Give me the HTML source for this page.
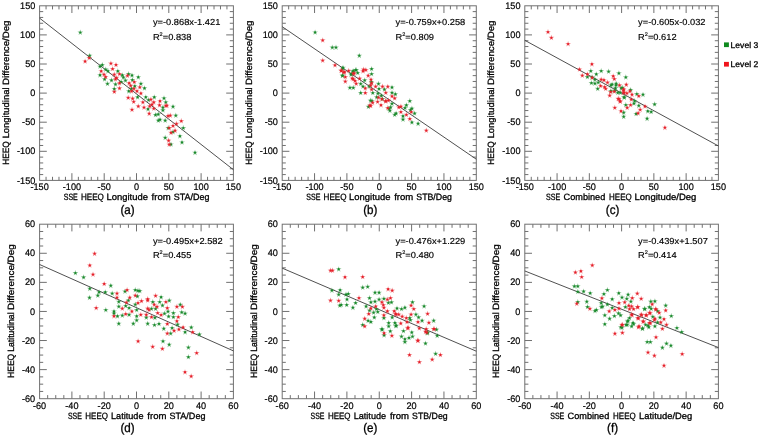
<!DOCTYPE html>
<html><head><meta charset="utf-8"><title>figure</title><style>
html,body{margin:0;padding:0;background:#fff;}
body{width:760px;height:437px;overflow:hidden;}
svg{display:block;font-family:"Liberation Sans", sans-serif;filter:blur(0.3px);text-rendering:geometricPrecision;}
text{stroke:#000;stroke-width:0.3px;}
.tk{font-size:9.5px;fill:#000;stroke-width:0.2px;}
.ti{font-size:9.1px;fill:#000;}
.pl{font-size:12.5px;fill:#000;}
.eq{font-size:8.7px;fill:#000;stroke-width:0.15px;}
.sup{font-size:5.2px;}
.lg{font-size:8.3px;fill:#000;}
</style></head>
<body><svg width="760" height="437" viewBox="0 0 760 437"><rect width="760" height="437" fill="#fff"/><path d="M46.06,180.40V176.80M46.06,5.80V9.40M52.52,180.40V176.80M52.52,5.80V9.40M58.98,180.40V176.80M58.98,5.80V9.40M65.44,180.40V176.80M65.44,5.80V9.40M71.90,180.40V173.20M71.90,5.80V13.00M78.36,180.40V176.80M78.36,5.80V9.40M84.82,180.40V176.80M84.82,5.80V9.40M91.28,180.40V176.80M91.28,5.80V9.40M97.74,180.40V176.80M97.74,5.80V9.40M104.20,180.40V173.20M104.20,5.80V13.00M110.66,180.40V176.80M110.66,5.80V9.40M117.12,180.40V176.80M117.12,5.80V9.40M123.58,180.40V176.80M123.58,5.80V9.40M130.04,180.40V176.80M130.04,5.80V9.40M136.50,180.40V173.20M136.50,5.80V13.00M142.96,180.40V176.80M142.96,5.80V9.40M149.42,180.40V176.80M149.42,5.80V9.40M155.88,180.40V176.80M155.88,5.80V9.40M162.34,180.40V176.80M162.34,5.80V9.40M168.80,180.40V173.20M168.80,5.80V13.00M175.26,180.40V176.80M175.26,5.80V9.40M181.72,180.40V176.80M181.72,5.80V9.40M188.18,180.40V176.80M188.18,5.80V9.40M194.64,180.40V176.80M194.64,5.80V9.40M201.10,180.40V173.20M201.10,5.80V13.00M207.56,180.40V176.80M207.56,5.80V9.40M214.02,180.40V176.80M214.02,5.80V9.40M220.48,180.40V176.80M220.48,5.80V9.40M226.94,180.40V176.80M226.94,5.80V9.40M39.60,174.58H43.20M233.40,174.58H229.80M39.60,168.76H43.20M233.40,168.76H229.80M39.60,162.94H43.20M233.40,162.94H229.80M39.60,157.12H43.20M233.40,157.12H229.80M39.60,151.30H46.80M233.40,151.30H226.20M39.60,145.48H43.20M233.40,145.48H229.80M39.60,139.66H43.20M233.40,139.66H229.80M39.60,133.84H43.20M233.40,133.84H229.80M39.60,128.02H43.20M233.40,128.02H229.80M39.60,122.20H46.80M233.40,122.20H226.20M39.60,116.38H43.20M233.40,116.38H229.80M39.60,110.56H43.20M233.40,110.56H229.80M39.60,104.74H43.20M233.40,104.74H229.80M39.60,98.92H43.20M233.40,98.92H229.80M39.60,93.10H46.80M233.40,93.10H226.20M39.60,87.28H43.20M233.40,87.28H229.80M39.60,81.46H43.20M233.40,81.46H229.80M39.60,75.64H43.20M233.40,75.64H229.80M39.60,69.82H43.20M233.40,69.82H229.80M39.60,64.00H46.80M233.40,64.00H226.20M39.60,58.18H43.20M233.40,58.18H229.80M39.60,52.36H43.20M233.40,52.36H229.80M39.60,46.54H43.20M233.40,46.54H229.80M39.60,40.72H43.20M233.40,40.72H229.80M39.60,34.90H46.80M233.40,34.90H226.20M39.60,29.08H43.20M233.40,29.08H229.80M39.60,23.26H43.20M233.40,23.26H229.80M39.60,17.44H43.20M233.40,17.44H229.80M39.60,11.62H43.20M233.40,11.62H229.80" stroke="#707070" stroke-width="1.0" fill="none"/><rect x="39.60" y="5.80" width="193.80" height="174.60" stroke="#707070" stroke-width="1.0" fill="none"/><line x1="39.60" y1="18.15" x2="233.40" y2="169.70" stroke="#3c3c3c" stroke-width="0.9"/><g fill="#1a8a2c"><path d="M80.30,29.50 L81.03,31.49 L83.15,31.57 L81.49,32.89 L82.06,34.93 L80.30,33.75 L78.54,34.93 L79.11,32.89 L77.45,31.57 L79.57,31.49Z" fill-opacity="0.5"/><path d="M79.20,32.50a1.1,1.1 0 1,0 2.2,0a1.1,1.1 0 1,0 -2.2,0Z"/><path d="M89.70,52.70 L90.43,54.69 L92.55,54.77 L90.89,56.09 L91.46,58.13 L89.70,56.95 L87.94,58.13 L88.51,56.09 L86.85,54.77 L88.97,54.69Z" fill-opacity="0.5"/><path d="M88.60,55.70a1.1,1.1 0 1,0 2.2,0a1.1,1.1 0 1,0 -2.2,0Z"/><path d="M100.00,63.60 L100.73,65.59 L102.85,65.67 L101.19,66.99 L101.76,69.03 L100.00,67.85 L98.24,69.03 L98.81,66.99 L97.15,65.67 L99.27,65.59Z" fill-opacity="0.5"/><path d="M98.90,66.60a1.1,1.1 0 1,0 2.2,0a1.1,1.1 0 1,0 -2.2,0Z"/><path d="M102.30,61.90 L103.03,63.89 L105.15,63.97 L103.49,65.29 L104.06,67.33 L102.30,66.15 L100.54,67.33 L101.11,65.29 L99.45,63.97 L101.57,63.89Z" fill-opacity="0.5"/><path d="M101.20,64.90a1.1,1.1 0 1,0 2.2,0a1.1,1.1 0 1,0 -2.2,0Z"/><path d="M105.70,66.50 L106.43,68.49 L108.55,68.57 L106.89,69.89 L107.46,71.93 L105.70,70.75 L103.94,71.93 L104.51,69.89 L102.85,68.57 L104.97,68.49Z" fill-opacity="0.5"/><path d="M104.60,69.50a1.1,1.1 0 1,0 2.2,0a1.1,1.1 0 1,0 -2.2,0Z"/><path d="M108.00,68.20 L108.73,70.19 L110.85,70.27 L109.19,71.59 L109.76,73.63 L108.00,72.45 L106.24,73.63 L106.81,71.59 L105.15,70.27 L107.27,70.19Z" fill-opacity="0.5"/><path d="M106.90,71.20a1.1,1.1 0 1,0 2.2,0a1.1,1.1 0 1,0 -2.2,0Z"/><path d="M117.80,68.20 L118.53,70.19 L120.65,70.27 L118.99,71.59 L119.56,73.63 L117.80,72.45 L116.04,73.63 L116.61,71.59 L114.95,70.27 L117.07,70.19Z" fill-opacity="0.5"/><path d="M116.70,71.20a1.1,1.1 0 1,0 2.2,0a1.1,1.1 0 1,0 -2.2,0Z"/><path d="M100.00,72.20 L100.73,74.19 L102.85,74.27 L101.19,75.59 L101.76,77.63 L100.00,76.45 L98.24,77.63 L98.81,75.59 L97.15,74.27 L99.27,74.19Z" fill-opacity="0.5"/><path d="M98.90,75.20a1.1,1.1 0 1,0 2.2,0a1.1,1.1 0 1,0 -2.2,0Z"/><path d="M104.60,76.20 L105.33,78.19 L107.45,78.27 L105.79,79.59 L106.36,81.63 L104.60,80.45 L102.84,81.63 L103.41,79.59 L101.75,78.27 L103.87,78.19Z" fill-opacity="0.5"/><path d="M103.50,79.20a1.1,1.1 0 1,0 2.2,0a1.1,1.1 0 1,0 -2.2,0Z"/><path d="M111.50,77.30 L112.23,79.29 L114.35,79.37 L112.69,80.69 L113.26,82.73 L111.50,81.55 L109.74,82.73 L110.31,80.69 L108.65,79.37 L110.77,79.29Z" fill-opacity="0.5"/><path d="M110.40,80.30a1.1,1.1 0 1,0 2.2,0a1.1,1.1 0 1,0 -2.2,0Z"/><path d="M122.30,72.20 L123.03,74.19 L125.15,74.27 L123.49,75.59 L124.06,77.63 L122.30,76.45 L120.54,77.63 L121.11,75.59 L119.45,74.27 L121.57,74.19Z" fill-opacity="0.5"/><path d="M121.20,75.20a1.1,1.1 0 1,0 2.2,0a1.1,1.1 0 1,0 -2.2,0Z"/><path d="M128.60,71.00 L129.33,72.99 L131.45,73.07 L129.79,74.39 L130.36,76.43 L128.60,75.25 L126.84,76.43 L127.41,74.39 L125.75,73.07 L127.87,72.99Z" fill-opacity="0.5"/><path d="M127.50,74.00a1.1,1.1 0 1,0 2.2,0a1.1,1.1 0 1,0 -2.2,0Z"/><path d="M107.50,80.80 L108.23,82.79 L110.35,82.87 L108.69,84.19 L109.26,86.23 L107.50,85.05 L105.74,86.23 L106.31,84.19 L104.65,82.87 L106.77,82.79Z" fill-opacity="0.5"/><path d="M106.40,83.80a1.1,1.1 0 1,0 2.2,0a1.1,1.1 0 1,0 -2.2,0Z"/><path d="M115.50,81.30 L116.23,83.29 L118.35,83.37 L116.69,84.69 L117.26,86.73 L115.50,85.55 L113.74,86.73 L114.31,84.69 L112.65,83.37 L114.77,83.29Z" fill-opacity="0.5"/><path d="M114.40,84.30a1.1,1.1 0 1,0 2.2,0a1.1,1.1 0 1,0 -2.2,0Z"/><path d="M114.30,85.90 L115.03,87.89 L117.15,87.97 L115.49,89.29 L116.06,91.33 L114.30,90.15 L112.54,91.33 L113.11,89.29 L111.45,87.97 L113.57,87.89Z" fill-opacity="0.5"/><path d="M113.20,88.90a1.1,1.1 0 1,0 2.2,0a1.1,1.1 0 1,0 -2.2,0Z"/><path d="M132.00,72.40 L132.73,74.39 L134.85,74.47 L133.19,75.79 L133.76,77.83 L132.00,76.65 L130.24,77.83 L130.81,75.79 L129.15,74.47 L131.27,74.39Z" fill-opacity="0.5"/><path d="M130.90,75.40a1.1,1.1 0 1,0 2.2,0a1.1,1.1 0 1,0 -2.2,0Z"/><path d="M138.30,74.20 L139.03,76.19 L141.15,76.27 L139.49,77.59 L140.06,79.63 L138.30,78.45 L136.54,79.63 L137.11,77.59 L135.45,76.27 L137.57,76.19Z" fill-opacity="0.5"/><path d="M137.20,77.20a1.1,1.1 0 1,0 2.2,0a1.1,1.1 0 1,0 -2.2,0Z"/><path d="M148.60,97.00 L149.33,98.99 L151.45,99.07 L149.79,100.39 L150.36,102.43 L148.60,101.25 L146.84,102.43 L147.41,100.39 L145.75,99.07 L147.87,98.99Z" fill-opacity="0.5"/><path d="M147.50,100.00a1.1,1.1 0 1,0 2.2,0a1.1,1.1 0 1,0 -2.2,0Z"/><path d="M154.30,94.20 L155.03,96.19 L157.15,96.27 L155.49,97.59 L156.06,99.63 L154.30,98.45 L152.54,99.63 L153.11,97.59 L151.45,96.27 L153.57,96.19Z" fill-opacity="0.5"/><path d="M153.20,97.20a1.1,1.1 0 1,0 2.2,0a1.1,1.1 0 1,0 -2.2,0Z"/><path d="M164.00,95.30 L164.73,97.29 L166.85,97.37 L165.19,98.69 L165.76,100.73 L164.00,99.55 L162.24,100.73 L162.81,98.69 L161.15,97.37 L163.27,97.29Z" fill-opacity="0.5"/><path d="M162.90,98.30a1.1,1.1 0 1,0 2.2,0a1.1,1.1 0 1,0 -2.2,0Z"/><path d="M165.80,99.30 L166.53,101.29 L168.65,101.37 L166.99,102.69 L167.56,104.73 L165.80,103.55 L164.04,104.73 L164.61,102.69 L162.95,101.37 L165.07,101.29Z" fill-opacity="0.5"/><path d="M164.70,102.30a1.1,1.1 0 1,0 2.2,0a1.1,1.1 0 1,0 -2.2,0Z"/><path d="M162.90,104.50 L163.63,106.49 L165.75,106.57 L164.09,107.89 L164.66,109.93 L162.90,108.75 L161.14,109.93 L161.71,107.89 L160.05,106.57 L162.17,106.49Z" fill-opacity="0.5"/><path d="M161.80,107.50a1.1,1.1 0 1,0 2.2,0a1.1,1.1 0 1,0 -2.2,0Z"/><path d="M148.00,106.20 L148.73,108.19 L150.85,108.27 L149.19,109.59 L149.76,111.63 L148.00,110.45 L146.24,111.63 L146.81,109.59 L145.15,108.27 L147.27,108.19Z" fill-opacity="0.5"/><path d="M146.90,109.20a1.1,1.1 0 1,0 2.2,0a1.1,1.1 0 1,0 -2.2,0Z"/><path d="M155.50,111.90 L156.23,113.89 L158.35,113.97 L156.69,115.29 L157.26,117.33 L155.50,116.15 L153.74,117.33 L154.31,115.29 L152.65,113.97 L154.77,113.89Z" fill-opacity="0.5"/><path d="M154.40,114.90a1.1,1.1 0 1,0 2.2,0a1.1,1.1 0 1,0 -2.2,0Z"/><path d="M158.30,111.30 L159.03,113.29 L161.15,113.37 L159.49,114.69 L160.06,116.73 L158.30,115.55 L156.54,116.73 L157.11,114.69 L155.45,113.37 L157.57,113.29Z" fill-opacity="0.5"/><path d="M157.20,114.30a1.1,1.1 0 1,0 2.2,0a1.1,1.1 0 1,0 -2.2,0Z"/><path d="M162.90,107.30 L163.63,109.29 L165.75,109.37 L164.09,110.69 L164.66,112.73 L162.90,111.55 L161.14,112.73 L161.71,110.69 L160.05,109.37 L162.17,109.29Z" fill-opacity="0.5"/><path d="M161.80,110.30a1.1,1.1 0 1,0 2.2,0a1.1,1.1 0 1,0 -2.2,0Z"/><path d="M158.30,117.60 L159.03,119.59 L161.15,119.67 L159.49,120.99 L160.06,123.03 L158.30,121.85 L156.54,123.03 L157.11,120.99 L155.45,119.67 L157.57,119.59Z" fill-opacity="0.5"/><path d="M157.20,120.60a1.1,1.1 0 1,0 2.2,0a1.1,1.1 0 1,0 -2.2,0Z"/><path d="M165.20,117.60 L165.93,119.59 L168.05,119.67 L166.39,120.99 L166.96,123.03 L165.20,121.85 L163.44,123.03 L164.01,120.99 L162.35,119.67 L164.47,119.59Z" fill-opacity="0.5"/><path d="M164.10,120.60a1.1,1.1 0 1,0 2.2,0a1.1,1.1 0 1,0 -2.2,0Z"/><path d="M165.20,134.80 L165.93,136.79 L168.05,136.87 L166.39,138.19 L166.96,140.23 L165.20,139.05 L163.44,140.23 L164.01,138.19 L162.35,136.87 L164.47,136.79Z" fill-opacity="0.5"/><path d="M164.10,137.80a1.1,1.1 0 1,0 2.2,0a1.1,1.1 0 1,0 -2.2,0Z"/><path d="M173.00,103.70 L173.73,105.69 L175.85,105.77 L174.19,107.09 L174.76,109.13 L173.00,107.95 L171.24,109.13 L171.81,107.09 L170.15,105.77 L172.27,105.69Z" fill-opacity="0.5"/><path d="M171.90,106.70a1.1,1.1 0 1,0 2.2,0a1.1,1.1 0 1,0 -2.2,0Z"/><path d="M175.80,112.60 L176.53,114.59 L178.65,114.67 L176.99,115.99 L177.56,118.03 L175.80,116.85 L174.04,118.03 L174.61,115.99 L172.95,114.67 L175.07,114.59Z" fill-opacity="0.5"/><path d="M174.70,115.60a1.1,1.1 0 1,0 2.2,0a1.1,1.1 0 1,0 -2.2,0Z"/><path d="M160.00,116.70 L160.73,118.69 L162.85,118.77 L161.19,120.09 L161.76,122.13 L160.00,120.95 L158.24,122.13 L158.81,120.09 L157.15,118.77 L159.27,118.69Z" fill-opacity="0.5"/><path d="M158.90,119.70a1.1,1.1 0 1,0 2.2,0a1.1,1.1 0 1,0 -2.2,0Z"/><path d="M183.30,125.00 L184.03,126.99 L186.15,127.07 L184.49,128.39 L185.06,130.43 L183.30,129.25 L181.54,130.43 L182.11,128.39 L180.45,127.07 L182.57,126.99Z" fill-opacity="0.5"/><path d="M182.20,128.00a1.1,1.1 0 1,0 2.2,0a1.1,1.1 0 1,0 -2.2,0Z"/><path d="M168.20,125.00 L168.93,126.99 L171.05,127.07 L169.39,128.39 L169.96,130.43 L168.20,129.25 L166.44,130.43 L167.01,128.39 L165.35,127.07 L167.47,126.99Z" fill-opacity="0.5"/><path d="M167.10,128.00a1.1,1.1 0 1,0 2.2,0a1.1,1.1 0 1,0 -2.2,0Z"/><path d="M173.00,129.10 L173.73,131.09 L175.85,131.17 L174.19,132.49 L174.76,134.53 L173.00,133.35 L171.24,134.53 L171.81,132.49 L170.15,131.17 L172.27,131.09Z" fill-opacity="0.5"/><path d="M171.90,132.10a1.1,1.1 0 1,0 2.2,0a1.1,1.1 0 1,0 -2.2,0Z"/><path d="M179.90,133.20 L180.63,135.19 L182.75,135.27 L181.09,136.59 L181.66,138.63 L179.90,137.45 L178.14,138.63 L178.71,136.59 L177.05,135.27 L179.17,135.19Z" fill-opacity="0.5"/><path d="M178.80,136.20a1.1,1.1 0 1,0 2.2,0a1.1,1.1 0 1,0 -2.2,0Z"/><path d="M182.00,139.40 L182.73,141.39 L184.85,141.47 L183.19,142.79 L183.76,144.83 L182.00,143.65 L180.24,144.83 L180.81,142.79 L179.15,141.47 L181.27,141.39Z" fill-opacity="0.5"/><path d="M180.90,142.40a1.1,1.1 0 1,0 2.2,0a1.1,1.1 0 1,0 -2.2,0Z"/><path d="M171.00,141.40 L171.73,143.39 L173.85,143.47 L172.19,144.79 L172.76,146.83 L171.00,145.65 L169.24,146.83 L169.81,144.79 L168.15,143.47 L170.27,143.39Z" fill-opacity="0.5"/><path d="M169.90,144.40a1.1,1.1 0 1,0 2.2,0a1.1,1.1 0 1,0 -2.2,0Z"/><path d="M195.00,149.70 L195.73,151.69 L197.85,151.77 L196.19,153.09 L196.76,155.13 L195.00,153.95 L193.24,155.13 L193.81,153.09 L192.15,151.77 L194.27,151.69Z" fill-opacity="0.5"/><path d="M193.90,152.70a1.1,1.1 0 1,0 2.2,0a1.1,1.1 0 1,0 -2.2,0Z"/><path d="M121.20,79.00 L121.93,80.99 L124.05,81.07 L122.39,82.39 L122.96,84.43 L121.20,83.25 L119.44,84.43 L120.01,82.39 L118.35,81.07 L120.47,80.99Z" fill-opacity="0.5"/><path d="M120.10,82.00a1.1,1.1 0 1,0 2.2,0a1.1,1.1 0 1,0 -2.2,0Z"/><path d="M123.40,74.40 L124.13,76.39 L126.25,76.47 L124.59,77.79 L125.16,79.83 L123.40,78.65 L121.64,79.83 L122.21,77.79 L120.55,76.47 L122.67,76.39Z" fill-opacity="0.5"/><path d="M122.30,77.40a1.1,1.1 0 1,0 2.2,0a1.1,1.1 0 1,0 -2.2,0Z"/><path d="M125.50,77.50 L126.23,79.49 L128.35,79.57 L126.69,80.89 L127.26,82.93 L125.50,81.75 L123.74,82.93 L124.31,80.89 L122.65,79.57 L124.77,79.49Z" fill-opacity="0.5"/><path d="M124.40,80.50a1.1,1.1 0 1,0 2.2,0a1.1,1.1 0 1,0 -2.2,0Z"/><path d="M132.40,76.90 L133.13,78.89 L135.25,78.97 L133.59,80.29 L134.16,82.33 L132.40,81.15 L130.64,82.33 L131.21,80.29 L129.55,78.97 L131.67,78.89Z" fill-opacity="0.5"/><path d="M131.30,79.90a1.1,1.1 0 1,0 2.2,0a1.1,1.1 0 1,0 -2.2,0Z"/><path d="M140.90,80.80 L141.63,82.79 L143.75,82.87 L142.09,84.19 L142.66,86.23 L140.90,85.05 L139.14,86.23 L139.71,84.19 L138.05,82.87 L140.17,82.79Z" fill-opacity="0.5"/><path d="M139.80,83.80a1.1,1.1 0 1,0 2.2,0a1.1,1.1 0 1,0 -2.2,0Z"/><path d="M134.80,83.20 L135.53,85.19 L137.65,85.27 L135.99,86.59 L136.56,88.63 L134.80,87.45 L133.04,88.63 L133.61,86.59 L131.95,85.27 L134.07,85.19Z" fill-opacity="0.5"/><path d="M133.70,86.20a1.1,1.1 0 1,0 2.2,0a1.1,1.1 0 1,0 -2.2,0Z"/><path d="M144.50,85.20 L145.23,87.19 L147.35,87.27 L145.69,88.59 L146.26,90.63 L144.50,89.45 L142.74,90.63 L143.31,88.59 L141.65,87.27 L143.77,87.19Z" fill-opacity="0.5"/><path d="M143.40,88.20a1.1,1.1 0 1,0 2.2,0a1.1,1.1 0 1,0 -2.2,0Z"/><path d="M128.80,88.20 L129.53,90.19 L131.65,90.27 L129.99,91.59 L130.56,93.63 L128.80,92.45 L127.04,93.63 L127.61,91.59 L125.95,90.27 L128.07,90.19Z" fill-opacity="0.5"/><path d="M127.70,91.20a1.1,1.1 0 1,0 2.2,0a1.1,1.1 0 1,0 -2.2,0Z"/><path d="M131.50,85.70 L132.23,87.69 L134.35,87.77 L132.69,89.09 L133.26,91.13 L131.50,89.95 L129.74,91.13 L130.31,89.09 L128.65,87.77 L130.77,87.69Z" fill-opacity="0.5"/><path d="M130.40,88.70a1.1,1.1 0 1,0 2.2,0a1.1,1.1 0 1,0 -2.2,0Z"/><path d="M137.60,94.20 L138.33,96.19 L140.45,96.27 L138.79,97.59 L139.36,99.63 L137.60,98.45 L135.84,99.63 L136.41,97.59 L134.75,96.27 L136.87,96.19Z" fill-opacity="0.5"/><path d="M136.50,97.20a1.1,1.1 0 1,0 2.2,0a1.1,1.1 0 1,0 -2.2,0Z"/><path d="M145.80,94.20 L146.53,96.19 L148.65,96.27 L146.99,97.59 L147.56,99.63 L145.80,98.45 L144.04,99.63 L144.61,97.59 L142.95,96.27 L145.07,96.19Z" fill-opacity="0.5"/><path d="M144.70,97.20a1.1,1.1 0 1,0 2.2,0a1.1,1.1 0 1,0 -2.2,0Z"/></g><g fill="#e6202a"><path d="M89.20,55.00 L89.93,56.99 L92.05,57.07 L90.39,58.39 L90.96,60.43 L89.20,59.25 L87.44,60.43 L88.01,58.39 L86.35,57.07 L88.47,56.99Z" fill-opacity="0.5"/><path d="M88.10,58.00a1.1,1.1 0 1,0 2.2,0a1.1,1.1 0 1,0 -2.2,0Z"/><path d="M85.10,58.40 L85.83,60.39 L87.95,60.47 L86.29,61.79 L86.86,63.83 L85.10,62.65 L83.34,63.83 L83.91,61.79 L82.25,60.47 L84.37,60.39Z" fill-opacity="0.5"/><path d="M84.00,61.40a1.1,1.1 0 1,0 2.2,0a1.1,1.1 0 1,0 -2.2,0Z"/><path d="M110.90,60.50 L111.63,62.49 L113.75,62.57 L112.09,63.89 L112.66,65.93 L110.90,64.75 L109.14,65.93 L109.71,63.89 L108.05,62.57 L110.17,62.49Z" fill-opacity="0.5"/><path d="M109.80,63.50a1.1,1.1 0 1,0 2.2,0a1.1,1.1 0 1,0 -2.2,0Z"/><path d="M116.00,61.90 L116.73,63.89 L118.85,63.97 L117.19,65.29 L117.76,67.33 L116.00,66.15 L114.24,67.33 L114.81,65.29 L113.15,63.97 L115.27,63.89Z" fill-opacity="0.5"/><path d="M114.90,64.90a1.1,1.1 0 1,0 2.2,0a1.1,1.1 0 1,0 -2.2,0Z"/><path d="M112.60,65.90 L113.33,67.89 L115.45,67.97 L113.79,69.29 L114.36,71.33 L112.60,70.15 L110.84,71.33 L111.41,69.29 L109.75,67.97 L111.87,67.89Z" fill-opacity="0.5"/><path d="M111.50,68.90a1.1,1.1 0 1,0 2.2,0a1.1,1.1 0 1,0 -2.2,0Z"/><path d="M101.20,68.20 L101.93,70.19 L104.05,70.27 L102.39,71.59 L102.96,73.63 L101.20,72.45 L99.44,73.63 L100.01,71.59 L98.35,70.27 L100.47,70.19Z" fill-opacity="0.5"/><path d="M100.10,71.20a1.1,1.1 0 1,0 2.2,0a1.1,1.1 0 1,0 -2.2,0Z"/><path d="M119.50,71.00 L120.23,72.99 L122.35,73.07 L120.69,74.39 L121.26,76.43 L119.50,75.25 L117.74,76.43 L118.31,74.39 L116.65,73.07 L118.77,72.99Z" fill-opacity="0.5"/><path d="M118.40,74.00a1.1,1.1 0 1,0 2.2,0a1.1,1.1 0 1,0 -2.2,0Z"/><path d="M104.00,71.60 L104.73,73.59 L106.85,73.67 L105.19,74.99 L105.76,77.03 L104.00,75.85 L102.24,77.03 L102.81,74.99 L101.15,73.67 L103.27,73.59Z" fill-opacity="0.5"/><path d="M102.90,74.60a1.1,1.1 0 1,0 2.2,0a1.1,1.1 0 1,0 -2.2,0Z"/><path d="M105.70,73.90 L106.43,75.89 L108.55,75.97 L106.89,77.29 L107.46,79.33 L105.70,78.15 L103.94,79.33 L104.51,77.29 L102.85,75.97 L104.97,75.89Z" fill-opacity="0.5"/><path d="M104.60,76.90a1.1,1.1 0 1,0 2.2,0a1.1,1.1 0 1,0 -2.2,0Z"/><path d="M114.30,71.60 L115.03,73.59 L117.15,73.67 L115.49,74.99 L116.06,77.03 L114.30,75.85 L112.54,77.03 L113.11,74.99 L111.45,73.67 L113.57,73.59Z" fill-opacity="0.5"/><path d="M113.20,74.60a1.1,1.1 0 1,0 2.2,0a1.1,1.1 0 1,0 -2.2,0Z"/><path d="M115.50,76.20 L116.23,78.19 L118.35,78.27 L116.69,79.59 L117.26,81.63 L115.50,80.45 L113.74,81.63 L114.31,79.59 L112.65,78.27 L114.77,78.19Z" fill-opacity="0.5"/><path d="M114.40,79.20a1.1,1.1 0 1,0 2.2,0a1.1,1.1 0 1,0 -2.2,0Z"/><path d="M127.50,72.70 L128.23,74.69 L130.35,74.77 L128.69,76.09 L129.26,78.13 L127.50,76.95 L125.74,78.13 L126.31,76.09 L124.65,74.77 L126.77,74.69Z" fill-opacity="0.5"/><path d="M126.40,75.70a1.1,1.1 0 1,0 2.2,0a1.1,1.1 0 1,0 -2.2,0Z"/><path d="M119.50,80.20 L120.23,82.19 L122.35,82.27 L120.69,83.59 L121.26,85.63 L119.50,84.45 L117.74,85.63 L118.31,83.59 L116.65,82.27 L118.77,82.19Z" fill-opacity="0.5"/><path d="M118.40,83.20a1.1,1.1 0 1,0 2.2,0a1.1,1.1 0 1,0 -2.2,0Z"/><path d="M119.50,85.30 L120.23,87.29 L122.35,87.37 L120.69,88.69 L121.26,90.73 L119.50,89.55 L117.74,90.73 L118.31,88.69 L116.65,87.37 L118.77,87.29Z" fill-opacity="0.5"/><path d="M118.40,88.30a1.1,1.1 0 1,0 2.2,0a1.1,1.1 0 1,0 -2.2,0Z"/><path d="M114.30,88.80 L115.03,90.79 L117.15,90.87 L115.49,92.19 L116.06,94.23 L114.30,93.05 L112.54,94.23 L113.11,92.19 L111.45,90.87 L113.57,90.79Z" fill-opacity="0.5"/><path d="M113.20,91.80a1.1,1.1 0 1,0 2.2,0a1.1,1.1 0 1,0 -2.2,0Z"/><path d="M133.70,98.80 L134.43,100.79 L136.55,100.87 L134.89,102.19 L135.46,104.23 L133.70,103.05 L131.94,104.23 L132.51,102.19 L130.85,100.87 L132.97,100.79Z" fill-opacity="0.5"/><path d="M132.60,101.80a1.1,1.1 0 1,0 2.2,0a1.1,1.1 0 1,0 -2.2,0Z"/><path d="M142.90,99.30 L143.63,101.29 L145.75,101.37 L144.09,102.69 L144.66,104.73 L142.90,103.55 L141.14,104.73 L141.71,102.69 L140.05,101.37 L142.17,101.29Z" fill-opacity="0.5"/><path d="M141.80,102.30a1.1,1.1 0 1,0 2.2,0a1.1,1.1 0 1,0 -2.2,0Z"/><path d="M150.90,96.50 L151.63,98.49 L153.75,98.57 L152.09,99.89 L152.66,101.93 L150.90,100.75 L149.14,101.93 L149.71,99.89 L148.05,98.57 L150.17,98.49Z" fill-opacity="0.5"/><path d="M149.80,99.50a1.1,1.1 0 1,0 2.2,0a1.1,1.1 0 1,0 -2.2,0Z"/><path d="M153.80,99.30 L154.53,101.29 L156.65,101.37 L154.99,102.69 L155.56,104.73 L153.80,103.55 L152.04,104.73 L152.61,102.69 L150.95,101.37 L153.07,101.29Z" fill-opacity="0.5"/><path d="M152.70,102.30a1.1,1.1 0 1,0 2.2,0a1.1,1.1 0 1,0 -2.2,0Z"/><path d="M160.00,98.20 L160.73,100.19 L162.85,100.27 L161.19,101.59 L161.76,103.63 L160.00,102.45 L158.24,103.63 L158.81,101.59 L157.15,100.27 L159.27,100.19Z" fill-opacity="0.5"/><path d="M158.90,101.20a1.1,1.1 0 1,0 2.2,0a1.1,1.1 0 1,0 -2.2,0Z"/><path d="M159.50,102.20 L160.23,104.19 L162.35,104.27 L160.69,105.59 L161.26,107.63 L159.50,106.45 L157.74,107.63 L158.31,105.59 L156.65,104.27 L158.77,104.19Z" fill-opacity="0.5"/><path d="M158.40,105.20a1.1,1.1 0 1,0 2.2,0a1.1,1.1 0 1,0 -2.2,0Z"/><path d="M165.80,102.80 L166.53,104.79 L168.65,104.87 L166.99,106.19 L167.56,108.23 L165.80,107.05 L164.04,108.23 L164.61,106.19 L162.95,104.87 L165.07,104.79Z" fill-opacity="0.5"/><path d="M164.70,105.80a1.1,1.1 0 1,0 2.2,0a1.1,1.1 0 1,0 -2.2,0Z"/><path d="M138.30,103.30 L139.03,105.29 L141.15,105.37 L139.49,106.69 L140.06,108.73 L138.30,107.55 L136.54,108.73 L137.11,106.69 L135.45,105.37 L137.57,105.29Z" fill-opacity="0.5"/><path d="M137.20,106.30a1.1,1.1 0 1,0 2.2,0a1.1,1.1 0 1,0 -2.2,0Z"/><path d="M144.00,104.50 L144.73,106.49 L146.85,106.57 L145.19,107.89 L145.76,109.93 L144.00,108.75 L142.24,109.93 L142.81,107.89 L141.15,106.57 L143.27,106.49Z" fill-opacity="0.5"/><path d="M142.90,107.50a1.1,1.1 0 1,0 2.2,0a1.1,1.1 0 1,0 -2.2,0Z"/><path d="M149.70,103.30 L150.43,105.29 L152.55,105.37 L150.89,106.69 L151.46,108.73 L149.70,107.55 L147.94,108.73 L148.51,106.69 L146.85,105.37 L148.97,105.29Z" fill-opacity="0.5"/><path d="M148.60,106.30a1.1,1.1 0 1,0 2.2,0a1.1,1.1 0 1,0 -2.2,0Z"/><path d="M132.00,106.80 L132.73,108.79 L134.85,108.87 L133.19,110.19 L133.76,112.23 L132.00,111.05 L130.24,112.23 L130.81,110.19 L129.15,108.87 L131.27,108.79Z" fill-opacity="0.5"/><path d="M130.90,109.80a1.1,1.1 0 1,0 2.2,0a1.1,1.1 0 1,0 -2.2,0Z"/><path d="M153.80,105.60 L154.53,107.59 L156.65,107.67 L154.99,108.99 L155.56,111.03 L153.80,109.85 L152.04,111.03 L152.61,108.99 L150.95,107.67 L153.07,107.59Z" fill-opacity="0.5"/><path d="M152.70,108.60a1.1,1.1 0 1,0 2.2,0a1.1,1.1 0 1,0 -2.2,0Z"/><path d="M149.20,110.70 L149.93,112.69 L152.05,112.77 L150.39,114.09 L150.96,116.13 L149.20,114.95 L147.44,116.13 L148.01,114.09 L146.35,112.77 L148.47,112.69Z" fill-opacity="0.5"/><path d="M148.10,113.70a1.1,1.1 0 1,0 2.2,0a1.1,1.1 0 1,0 -2.2,0Z"/><path d="M152.00,101.60 L152.73,103.59 L154.85,103.67 L153.19,104.99 L153.76,107.03 L152.00,105.85 L150.24,107.03 L150.81,104.99 L149.15,103.67 L151.27,103.59Z" fill-opacity="0.5"/><path d="M150.90,104.60a1.1,1.1 0 1,0 2.2,0a1.1,1.1 0 1,0 -2.2,0Z"/><path d="M166.90,102.70 L167.63,104.69 L169.75,104.77 L168.09,106.09 L168.66,108.13 L166.90,106.95 L165.14,108.13 L165.71,106.09 L164.05,104.77 L166.17,104.69Z" fill-opacity="0.5"/><path d="M165.80,105.70a1.1,1.1 0 1,0 2.2,0a1.1,1.1 0 1,0 -2.2,0Z"/><path d="M168.00,113.00 L168.73,114.99 L170.85,115.07 L169.19,116.39 L169.76,118.43 L168.00,117.25 L166.24,118.43 L166.81,116.39 L165.15,115.07 L167.27,114.99Z" fill-opacity="0.5"/><path d="M166.90,116.00a1.1,1.1 0 1,0 2.2,0a1.1,1.1 0 1,0 -2.2,0Z"/><path d="M169.20,125.00 L169.93,126.99 L172.05,127.07 L170.39,128.39 L170.96,130.43 L169.20,129.25 L167.44,130.43 L168.01,128.39 L166.35,127.07 L168.47,126.99Z" fill-opacity="0.5"/><path d="M168.10,128.00a1.1,1.1 0 1,0 2.2,0a1.1,1.1 0 1,0 -2.2,0Z"/><path d="M168.60,137.60 L169.33,139.59 L171.45,139.67 L169.79,140.99 L170.36,143.03 L168.60,141.85 L166.84,143.03 L167.41,140.99 L165.75,139.67 L167.87,139.59Z" fill-opacity="0.5"/><path d="M167.50,140.60a1.1,1.1 0 1,0 2.2,0a1.1,1.1 0 1,0 -2.2,0Z"/><path d="M169.20,141.60 L169.93,143.59 L172.05,143.67 L170.39,144.99 L170.96,147.03 L169.20,145.85 L167.44,147.03 L168.01,144.99 L166.35,143.67 L168.47,143.59Z" fill-opacity="0.5"/><path d="M168.10,144.60a1.1,1.1 0 1,0 2.2,0a1.1,1.1 0 1,0 -2.2,0Z"/><path d="M170.30,112.60 L171.03,114.59 L173.15,114.67 L171.49,115.99 L172.06,118.03 L170.30,116.85 L168.54,118.03 L169.11,115.99 L167.45,114.67 L169.57,114.59Z" fill-opacity="0.5"/><path d="M169.20,115.60a1.1,1.1 0 1,0 2.2,0a1.1,1.1 0 1,0 -2.2,0Z"/><path d="M181.30,118.10 L182.03,120.09 L184.15,120.17 L182.49,121.49 L183.06,123.53 L181.30,122.35 L179.54,123.53 L180.11,121.49 L178.45,120.17 L180.57,120.09Z" fill-opacity="0.5"/><path d="M180.20,121.10a1.1,1.1 0 1,0 2.2,0a1.1,1.1 0 1,0 -2.2,0Z"/><path d="M176.50,120.80 L177.23,122.79 L179.35,122.87 L177.69,124.19 L178.26,126.23 L176.50,125.05 L174.74,126.23 L175.31,124.19 L173.65,122.87 L175.77,122.79Z" fill-opacity="0.5"/><path d="M175.40,123.80a1.1,1.1 0 1,0 2.2,0a1.1,1.1 0 1,0 -2.2,0Z"/><path d="M173.00,122.90 L173.73,124.89 L175.85,124.97 L174.19,126.29 L174.76,128.33 L173.00,127.15 L171.24,128.33 L171.81,126.29 L170.15,124.97 L172.27,124.89Z" fill-opacity="0.5"/><path d="M171.90,125.90a1.1,1.1 0 1,0 2.2,0a1.1,1.1 0 1,0 -2.2,0Z"/><path d="M175.10,127.70 L175.83,129.69 L177.95,129.77 L176.29,131.09 L176.86,133.13 L175.10,131.95 L173.34,133.13 L173.91,131.09 L172.25,129.77 L174.37,129.69Z" fill-opacity="0.5"/><path d="M174.00,130.70a1.1,1.1 0 1,0 2.2,0a1.1,1.1 0 1,0 -2.2,0Z"/><path d="M171.00,129.80 L171.73,131.79 L173.85,131.87 L172.19,133.19 L172.76,135.23 L171.00,134.05 L169.24,135.23 L169.81,133.19 L168.15,131.87 L170.27,131.79Z" fill-opacity="0.5"/><path d="M169.90,132.80a1.1,1.1 0 1,0 2.2,0a1.1,1.1 0 1,0 -2.2,0Z"/><path d="M116.60,74.80 L117.33,76.79 L119.45,76.87 L117.79,78.19 L118.36,80.23 L116.60,79.05 L114.84,80.23 L115.41,78.19 L113.75,76.87 L115.87,76.79Z" fill-opacity="0.5"/><path d="M115.50,77.80a1.1,1.1 0 1,0 2.2,0a1.1,1.1 0 1,0 -2.2,0Z"/><path d="M134.30,79.10 L135.03,81.09 L137.15,81.17 L135.49,82.49 L136.06,84.53 L134.30,83.35 L132.54,84.53 L133.11,82.49 L131.45,81.17 L133.57,81.09Z" fill-opacity="0.5"/><path d="M133.20,82.10a1.1,1.1 0 1,0 2.2,0a1.1,1.1 0 1,0 -2.2,0Z"/><path d="M129.10,80.20 L129.83,82.19 L131.95,82.27 L130.29,83.59 L130.86,85.63 L129.10,84.45 L127.34,85.63 L127.91,83.59 L126.25,82.27 L128.37,82.19Z" fill-opacity="0.5"/><path d="M128.00,83.20a1.1,1.1 0 1,0 2.2,0a1.1,1.1 0 1,0 -2.2,0Z"/><path d="M130.70,82.70 L131.43,84.69 L133.55,84.77 L131.89,86.09 L132.46,88.13 L130.70,86.95 L128.94,88.13 L129.51,86.09 L127.85,84.77 L129.97,84.69Z" fill-opacity="0.5"/><path d="M129.60,85.70a1.1,1.1 0 1,0 2.2,0a1.1,1.1 0 1,0 -2.2,0Z"/><path d="M139.80,84.30 L140.53,86.29 L142.65,86.37 L140.99,87.69 L141.56,89.73 L139.80,88.55 L138.04,89.73 L138.61,87.69 L136.95,86.37 L139.07,86.29Z" fill-opacity="0.5"/><path d="M138.70,87.30a1.1,1.1 0 1,0 2.2,0a1.1,1.1 0 1,0 -2.2,0Z"/><path d="M131.50,88.20 L132.23,90.19 L134.35,90.27 L132.69,91.59 L133.26,93.63 L131.50,92.45 L129.74,93.63 L130.31,91.59 L128.65,90.27 L130.77,90.19Z" fill-opacity="0.5"/><path d="M130.40,91.20a1.1,1.1 0 1,0 2.2,0a1.1,1.1 0 1,0 -2.2,0Z"/><path d="M137.00,88.20 L137.73,90.19 L139.85,90.27 L138.19,91.59 L138.76,93.63 L137.00,92.45 L135.24,93.63 L135.81,91.59 L134.15,90.27 L136.27,90.19Z" fill-opacity="0.5"/><path d="M135.90,91.20a1.1,1.1 0 1,0 2.2,0a1.1,1.1 0 1,0 -2.2,0Z"/><path d="M140.90,90.40 L141.63,92.39 L143.75,92.47 L142.09,93.79 L142.66,95.83 L140.90,94.65 L139.14,95.83 L139.71,93.79 L138.05,92.47 L140.17,92.39Z" fill-opacity="0.5"/><path d="M139.80,93.40a1.1,1.1 0 1,0 2.2,0a1.1,1.1 0 1,0 -2.2,0Z"/><path d="M134.00,85.70 L134.73,87.69 L136.85,87.77 L135.19,89.09 L135.76,91.13 L134.00,89.95 L132.24,91.13 L132.81,89.09 L131.15,87.77 L133.27,87.69Z" fill-opacity="0.5"/><path d="M132.90,88.70a1.1,1.1 0 1,0 2.2,0a1.1,1.1 0 1,0 -2.2,0Z"/><path d="M128.20,94.80 L128.93,96.79 L131.05,96.87 L129.39,98.19 L129.96,100.23 L128.20,99.05 L126.44,100.23 L127.01,98.19 L125.35,96.87 L127.47,96.79Z" fill-opacity="0.5"/><path d="M127.10,97.80a1.1,1.1 0 1,0 2.2,0a1.1,1.1 0 1,0 -2.2,0Z"/><path d="M132.60,95.60 L133.33,97.59 L135.45,97.67 L133.79,98.99 L134.36,101.03 L132.60,99.85 L130.84,101.03 L131.41,98.99 L129.75,97.67 L131.87,97.59Z" fill-opacity="0.5"/><path d="M131.50,98.60a1.1,1.1 0 1,0 2.2,0a1.1,1.1 0 1,0 -2.2,0Z"/></g><text class="tk" transform="translate(39.60,189.80) scale(0.960,1)" text-anchor="middle">-150</text><text class="tk" transform="translate(71.90,189.80) scale(0.960,1)" text-anchor="middle">-100</text><text class="tk" transform="translate(104.20,189.80) scale(0.960,1)" text-anchor="middle">-50</text><text class="tk" transform="translate(136.50,189.80) scale(0.960,1)" text-anchor="middle">0</text><text class="tk" transform="translate(168.80,189.80) scale(0.960,1)" text-anchor="middle">50</text><text class="tk" transform="translate(201.10,189.80) scale(0.960,1)" text-anchor="middle">100</text><text class="tk" transform="translate(233.40,189.80) scale(0.960,1)" text-anchor="middle">150</text><text class="tk" transform="translate(35.30,183.50) scale(0.960,1)" text-anchor="end">-150</text><text class="tk" transform="translate(35.30,154.40) scale(0.960,1)" text-anchor="end">-100</text><text class="tk" transform="translate(35.30,125.30) scale(0.960,1)" text-anchor="end">-50</text><text class="tk" transform="translate(35.30,96.20) scale(0.960,1)" text-anchor="end">0</text><text class="tk" transform="translate(35.30,67.10) scale(0.960,1)" text-anchor="end">50</text><text class="tk" transform="translate(35.30,38.00) scale(0.960,1)" text-anchor="end">100</text><text class="tk" transform="translate(35.30,8.90) scale(0.960,1)" text-anchor="end">150</text><text class="ti" transform="translate(63.72,200.10) scale(0.774,1)">SSE</text><text class="ti" transform="translate(81.02,200.10) scale(0.888,1)">HEEQ</text><text class="ti" transform="translate(106.43,200.10) scale(1.038,1)">Longitude</text><text class="ti" transform="translate(151.55,200.10) scale(1.051,1)">from</text><text class="ti" transform="translate(173.65,200.10) scale(0.986,1)">STA/Deg</text><text class="pl" transform="translate(127.50,213.90) scale(0.930,1)" text-anchor="middle">(a)</text><text class="ti" transform="translate(8.90,164.69) rotate(-90) scale(0.908,1)">HEEQ</text><text class="ti" transform="translate(8.90,138.37) rotate(-90) scale(1.037,1)">Longitudinal</text><text class="ti" transform="translate(8.90,84.89) rotate(-90) scale(1.064,1)">Difference/Deg</text><text class="eq" transform="translate(152.90,25.30) scale(1.070,1)">y=-0.868x-1.421</text><text class="eq" transform="translate(152.90,39.60) scale(1.070,1)">R<tspan class="sup" dy="-4.0">2</tspan><tspan dy="4.0">=0.838</tspan></text><path d="M288.67,180.40V176.80M288.67,5.80V9.40M295.14,180.40V176.80M295.14,5.80V9.40M301.61,180.40V176.80M301.61,5.80V9.40M308.08,180.40V176.80M308.08,5.80V9.40M314.55,180.40V173.20M314.55,5.80V13.00M321.02,180.40V176.80M321.02,5.80V9.40M327.49,180.40V176.80M327.49,5.80V9.40M333.96,180.40V176.80M333.96,5.80V9.40M340.43,180.40V176.80M340.43,5.80V9.40M346.90,180.40V173.20M346.90,5.80V13.00M353.37,180.40V176.80M353.37,5.80V9.40M359.84,180.40V176.80M359.84,5.80V9.40M366.31,180.40V176.80M366.31,5.80V9.40M372.78,180.40V176.80M372.78,5.80V9.40M379.25,180.40V173.20M379.25,5.80V13.00M385.72,180.40V176.80M385.72,5.80V9.40M392.19,180.40V176.80M392.19,5.80V9.40M398.66,180.40V176.80M398.66,5.80V9.40M405.13,180.40V176.80M405.13,5.80V9.40M411.60,180.40V173.20M411.60,5.80V13.00M418.07,180.40V176.80M418.07,5.80V9.40M424.54,180.40V176.80M424.54,5.80V9.40M431.01,180.40V176.80M431.01,5.80V9.40M437.48,180.40V176.80M437.48,5.80V9.40M443.95,180.40V173.20M443.95,5.80V13.00M450.42,180.40V176.80M450.42,5.80V9.40M456.89,180.40V176.80M456.89,5.80V9.40M463.36,180.40V176.80M463.36,5.80V9.40M469.83,180.40V176.80M469.83,5.80V9.40M282.20,174.58H285.80M476.30,174.58H472.70M282.20,168.76H285.80M476.30,168.76H472.70M282.20,162.94H285.80M476.30,162.94H472.70M282.20,157.12H285.80M476.30,157.12H472.70M282.20,151.30H289.40M476.30,151.30H469.10M282.20,145.48H285.80M476.30,145.48H472.70M282.20,139.66H285.80M476.30,139.66H472.70M282.20,133.84H285.80M476.30,133.84H472.70M282.20,128.02H285.80M476.30,128.02H472.70M282.20,122.20H289.40M476.30,122.20H469.10M282.20,116.38H285.80M476.30,116.38H472.70M282.20,110.56H285.80M476.30,110.56H472.70M282.20,104.74H285.80M476.30,104.74H472.70M282.20,98.92H285.80M476.30,98.92H472.70M282.20,93.10H289.40M476.30,93.10H469.10M282.20,87.28H285.80M476.30,87.28H472.70M282.20,81.46H285.80M476.30,81.46H472.70M282.20,75.64H285.80M476.30,75.64H472.70M282.20,69.82H285.80M476.30,69.82H472.70M282.20,64.00H289.40M476.30,64.00H469.10M282.20,58.18H285.80M476.30,58.18H472.70M282.20,52.36H285.80M476.30,52.36H472.70M282.20,46.54H285.80M476.30,46.54H472.70M282.20,40.72H285.80M476.30,40.72H472.70M282.20,34.90H289.40M476.30,34.90H469.10M282.20,29.08H285.80M476.30,29.08H472.70M282.20,23.26H285.80M476.30,23.26H472.70M282.20,17.44H285.80M476.30,17.44H472.70M282.20,11.62H285.80M476.30,11.62H472.70" stroke="#707070" stroke-width="1.0" fill="none"/><rect x="282.20" y="5.80" width="194.10" height="174.60" stroke="#707070" stroke-width="1.0" fill="none"/><line x1="282.20" y1="26.69" x2="476.30" y2="159.21" stroke="#3c3c3c" stroke-width="0.9"/><g fill="#1a8a2c"><path d="M315.10,29.40 L315.83,31.39 L317.95,31.47 L316.29,32.79 L316.86,34.83 L315.10,33.65 L313.34,34.83 L313.91,32.79 L312.25,31.47 L314.37,31.39Z" fill-opacity="0.5"/><path d="M314.00,32.40a1.1,1.1 0 1,0 2.2,0a1.1,1.1 0 1,0 -2.2,0Z"/><path d="M332.30,44.50 L333.03,46.49 L335.15,46.57 L333.49,47.89 L334.06,49.93 L332.30,48.75 L330.54,49.93 L331.11,47.89 L329.45,46.57 L331.57,46.49Z" fill-opacity="0.5"/><path d="M331.20,47.50a1.1,1.1 0 1,0 2.2,0a1.1,1.1 0 1,0 -2.2,0Z"/><path d="M336.00,44.50 L336.73,46.49 L338.85,46.57 L337.19,47.89 L337.76,49.93 L336.00,48.75 L334.24,49.93 L334.81,47.89 L333.15,46.57 L335.27,46.49Z" fill-opacity="0.5"/><path d="M334.90,47.50a1.1,1.1 0 1,0 2.2,0a1.1,1.1 0 1,0 -2.2,0Z"/><path d="M359.30,52.70 L360.03,54.69 L362.15,54.77 L360.49,56.09 L361.06,58.13 L359.30,56.95 L357.54,58.13 L358.11,56.09 L356.45,54.77 L358.57,54.69Z" fill-opacity="0.5"/><path d="M358.20,55.70a1.1,1.1 0 1,0 2.2,0a1.1,1.1 0 1,0 -2.2,0Z"/><path d="M342.60,65.70 L343.33,67.69 L345.45,67.77 L343.79,69.09 L344.36,71.13 L342.60,69.95 L340.84,71.13 L341.41,69.09 L339.75,67.77 L341.87,67.69Z" fill-opacity="0.5"/><path d="M341.50,68.70a1.1,1.1 0 1,0 2.2,0a1.1,1.1 0 1,0 -2.2,0Z"/><path d="M342.60,72.60 L343.33,74.59 L345.45,74.67 L343.79,75.99 L344.36,78.03 L342.60,76.85 L340.84,78.03 L341.41,75.99 L339.75,74.67 L341.87,74.59Z" fill-opacity="0.5"/><path d="M341.50,75.60a1.1,1.1 0 1,0 2.2,0a1.1,1.1 0 1,0 -2.2,0Z"/><path d="M352.90,68.50 L353.63,70.49 L355.75,70.57 L354.09,71.89 L354.66,73.93 L352.90,72.75 L351.14,73.93 L351.71,71.89 L350.05,70.57 L352.17,70.49Z" fill-opacity="0.5"/><path d="M351.80,71.50a1.1,1.1 0 1,0 2.2,0a1.1,1.1 0 1,0 -2.2,0Z"/><path d="M355.60,67.10 L356.33,69.09 L358.45,69.17 L356.79,70.49 L357.36,72.53 L355.60,71.35 L353.84,72.53 L354.41,70.49 L352.75,69.17 L354.87,69.09Z" fill-opacity="0.5"/><path d="M354.50,70.10a1.1,1.1 0 1,0 2.2,0a1.1,1.1 0 1,0 -2.2,0Z"/><path d="M357.70,69.90 L358.43,71.89 L360.55,71.97 L358.89,73.29 L359.46,75.33 L357.70,74.15 L355.94,75.33 L356.51,73.29 L354.85,71.97 L356.97,71.89Z" fill-opacity="0.5"/><path d="M356.60,72.90a1.1,1.1 0 1,0 2.2,0a1.1,1.1 0 1,0 -2.2,0Z"/><path d="M351.50,71.20 L352.23,73.19 L354.35,73.27 L352.69,74.59 L353.26,76.63 L351.50,75.45 L349.74,76.63 L350.31,74.59 L348.65,73.27 L350.77,73.19Z" fill-opacity="0.5"/><path d="M350.40,74.20a1.1,1.1 0 1,0 2.2,0a1.1,1.1 0 1,0 -2.2,0Z"/><path d="M343.00,64.70 L343.73,66.69 L345.85,66.77 L344.19,68.09 L344.76,70.13 L343.00,68.95 L341.24,70.13 L341.81,68.09 L340.15,66.77 L342.27,66.69Z" fill-opacity="0.5"/><path d="M341.90,67.70a1.1,1.1 0 1,0 2.2,0a1.1,1.1 0 1,0 -2.2,0Z"/><path d="M353.30,68.20 L354.03,70.19 L356.15,70.27 L354.49,71.59 L355.06,73.63 L353.30,72.45 L351.54,73.63 L352.11,71.59 L350.45,70.27 L352.57,70.19Z" fill-opacity="0.5"/><path d="M352.20,71.20a1.1,1.1 0 1,0 2.2,0a1.1,1.1 0 1,0 -2.2,0Z"/><path d="M356.20,67.00 L356.93,68.99 L359.05,69.07 L357.39,70.39 L357.96,72.43 L356.20,71.25 L354.44,72.43 L355.01,70.39 L353.35,69.07 L355.47,68.99Z" fill-opacity="0.5"/><path d="M355.10,70.00a1.1,1.1 0 1,0 2.2,0a1.1,1.1 0 1,0 -2.2,0Z"/><path d="M342.40,72.70 L343.13,74.69 L345.25,74.77 L343.59,76.09 L344.16,78.13 L342.40,76.95 L340.64,78.13 L341.21,76.09 L339.55,74.77 L341.67,74.69Z" fill-opacity="0.5"/><path d="M341.30,75.70a1.1,1.1 0 1,0 2.2,0a1.1,1.1 0 1,0 -2.2,0Z"/><path d="M351.00,71.60 L351.73,73.59 L353.85,73.67 L352.19,74.99 L352.76,77.03 L351.00,75.85 L349.24,77.03 L349.81,74.99 L348.15,73.67 L350.27,73.59Z" fill-opacity="0.5"/><path d="M349.90,74.60a1.1,1.1 0 1,0 2.2,0a1.1,1.1 0 1,0 -2.2,0Z"/><path d="M371.60,65.90 L372.33,67.89 L374.45,67.97 L372.79,69.29 L373.36,71.33 L371.60,70.15 L369.84,71.33 L370.41,69.29 L368.75,67.97 L370.87,67.89Z" fill-opacity="0.5"/><path d="M370.50,68.90a1.1,1.1 0 1,0 2.2,0a1.1,1.1 0 1,0 -2.2,0Z"/><path d="M371.60,71.00 L372.33,72.99 L374.45,73.07 L372.79,74.39 L373.36,76.43 L371.60,75.25 L369.84,76.43 L370.41,74.39 L368.75,73.07 L370.87,72.99Z" fill-opacity="0.5"/><path d="M370.50,74.00a1.1,1.1 0 1,0 2.2,0a1.1,1.1 0 1,0 -2.2,0Z"/><path d="M364.70,77.30 L365.43,79.29 L367.55,79.37 L365.89,80.69 L366.46,82.73 L364.70,81.55 L362.94,82.73 L363.51,80.69 L361.85,79.37 L363.97,79.29Z" fill-opacity="0.5"/><path d="M363.60,80.30a1.1,1.1 0 1,0 2.2,0a1.1,1.1 0 1,0 -2.2,0Z"/><path d="M360.70,80.80 L361.43,82.79 L363.55,82.87 L361.89,84.19 L362.46,86.23 L360.70,85.05 L358.94,86.23 L359.51,84.19 L357.85,82.87 L359.97,82.79Z" fill-opacity="0.5"/><path d="M359.60,83.80a1.1,1.1 0 1,0 2.2,0a1.1,1.1 0 1,0 -2.2,0Z"/><path d="M349.90,84.80 L350.63,86.79 L352.75,86.87 L351.09,88.19 L351.66,90.23 L349.90,89.05 L348.14,90.23 L348.71,88.19 L347.05,86.87 L349.17,86.79Z" fill-opacity="0.5"/><path d="M348.80,87.80a1.1,1.1 0 1,0 2.2,0a1.1,1.1 0 1,0 -2.2,0Z"/><path d="M353.30,84.80 L354.03,86.79 L356.15,86.87 L354.49,88.19 L355.06,90.23 L353.30,89.05 L351.54,90.23 L352.11,88.19 L350.45,86.87 L352.57,86.79Z" fill-opacity="0.5"/><path d="M352.20,87.80a1.1,1.1 0 1,0 2.2,0a1.1,1.1 0 1,0 -2.2,0Z"/><path d="M363.00,83.60 L363.73,85.59 L365.85,85.67 L364.19,86.99 L364.76,89.03 L363.00,87.85 L361.24,89.03 L361.81,86.99 L360.15,85.67 L362.27,85.59Z" fill-opacity="0.5"/><path d="M361.90,86.60a1.1,1.1 0 1,0 2.2,0a1.1,1.1 0 1,0 -2.2,0Z"/><path d="M369.30,83.60 L370.03,85.59 L372.15,85.67 L370.49,86.99 L371.06,89.03 L369.30,87.85 L367.54,89.03 L368.11,86.99 L366.45,85.67 L368.57,85.59Z" fill-opacity="0.5"/><path d="M368.20,86.60a1.1,1.1 0 1,0 2.2,0a1.1,1.1 0 1,0 -2.2,0Z"/><path d="M378.50,80.80 L379.23,82.79 L381.35,82.87 L379.69,84.19 L380.26,86.23 L378.50,85.05 L376.74,86.23 L377.31,84.19 L375.65,82.87 L377.77,82.79Z" fill-opacity="0.5"/><path d="M377.40,83.80a1.1,1.1 0 1,0 2.2,0a1.1,1.1 0 1,0 -2.2,0Z"/><path d="M379.00,85.90 L379.73,87.89 L381.85,87.97 L380.19,89.29 L380.76,91.33 L379.00,90.15 L377.24,91.33 L377.81,89.29 L376.15,87.97 L378.27,87.89Z" fill-opacity="0.5"/><path d="M377.90,88.90a1.1,1.1 0 1,0 2.2,0a1.1,1.1 0 1,0 -2.2,0Z"/><path d="M360.70,89.90 L361.43,91.89 L363.55,91.97 L361.89,93.29 L362.46,95.33 L360.70,94.15 L358.94,95.33 L359.51,93.29 L357.85,91.97 L359.97,91.89Z" fill-opacity="0.5"/><path d="M359.60,92.90a1.1,1.1 0 1,0 2.2,0a1.1,1.1 0 1,0 -2.2,0Z"/><path d="M372.80,89.90 L373.53,91.89 L375.65,91.97 L373.99,93.29 L374.56,95.33 L372.80,94.15 L371.04,95.33 L371.61,93.29 L369.95,91.97 L372.07,91.89Z" fill-opacity="0.5"/><path d="M371.70,92.90a1.1,1.1 0 1,0 2.2,0a1.1,1.1 0 1,0 -2.2,0Z"/><path d="M377.90,90.50 L378.63,92.49 L380.75,92.57 L379.09,93.89 L379.66,95.93 L377.90,94.75 L376.14,95.93 L376.71,93.89 L375.05,92.57 L377.17,92.49Z" fill-opacity="0.5"/><path d="M376.80,93.50a1.1,1.1 0 1,0 2.2,0a1.1,1.1 0 1,0 -2.2,0Z"/><path d="M381.30,92.80 L382.03,94.79 L384.15,94.87 L382.49,96.19 L383.06,98.23 L381.30,97.05 L379.54,98.23 L380.11,96.19 L378.45,94.87 L380.57,94.79Z" fill-opacity="0.5"/><path d="M380.20,95.80a1.1,1.1 0 1,0 2.2,0a1.1,1.1 0 1,0 -2.2,0Z"/><path d="M371.40,78.90 L372.13,80.89 L374.25,80.97 L372.59,82.29 L373.16,84.33 L371.40,83.15 L369.64,84.33 L370.21,82.29 L368.55,80.97 L370.67,80.89Z" fill-opacity="0.5"/><path d="M370.30,81.90a1.1,1.1 0 1,0 2.2,0a1.1,1.1 0 1,0 -2.2,0Z"/><path d="M384.40,86.40 L385.13,88.39 L387.25,88.47 L385.59,89.79 L386.16,91.83 L384.40,90.65 L382.64,91.83 L383.21,89.79 L381.55,88.47 L383.67,88.39Z" fill-opacity="0.5"/><path d="M383.30,89.40a1.1,1.1 0 1,0 2.2,0a1.1,1.1 0 1,0 -2.2,0Z"/><path d="M392.00,84.40 L392.73,86.39 L394.85,86.47 L393.19,87.79 L393.76,89.83 L392.00,88.65 L390.24,89.83 L390.81,87.79 L389.15,86.47 L391.27,86.39Z" fill-opacity="0.5"/><path d="M390.90,87.40a1.1,1.1 0 1,0 2.2,0a1.1,1.1 0 1,0 -2.2,0Z"/><path d="M392.00,89.80 L392.73,91.79 L394.85,91.87 L393.19,93.19 L393.76,95.23 L392.00,94.05 L390.24,95.23 L390.81,93.19 L389.15,91.87 L391.27,91.79Z" fill-opacity="0.5"/><path d="M390.90,92.80a1.1,1.1 0 1,0 2.2,0a1.1,1.1 0 1,0 -2.2,0Z"/><path d="M395.40,91.20 L396.13,93.19 L398.25,93.27 L396.59,94.59 L397.16,96.63 L395.40,95.45 L393.64,96.63 L394.21,94.59 L392.55,93.27 L394.67,93.19Z" fill-opacity="0.5"/><path d="M394.30,94.20a1.1,1.1 0 1,0 2.2,0a1.1,1.1 0 1,0 -2.2,0Z"/><path d="M382.40,96.00 L383.13,97.99 L385.25,98.07 L383.59,99.39 L384.16,101.43 L382.40,100.25 L380.64,101.43 L381.21,99.39 L379.55,98.07 L381.67,97.99Z" fill-opacity="0.5"/><path d="M381.30,99.00a1.1,1.1 0 1,0 2.2,0a1.1,1.1 0 1,0 -2.2,0Z"/><path d="M372.00,98.10 L372.73,100.09 L374.85,100.17 L373.19,101.49 L373.76,103.53 L372.00,102.35 L370.24,103.53 L370.81,101.49 L369.15,100.17 L371.27,100.09Z" fill-opacity="0.5"/><path d="M370.90,101.10a1.1,1.1 0 1,0 2.2,0a1.1,1.1 0 1,0 -2.2,0Z"/><path d="M392.00,100.80 L392.73,102.79 L394.85,102.87 L393.19,104.19 L393.76,106.23 L392.00,105.05 L390.24,106.23 L390.81,104.19 L389.15,102.87 L391.27,102.79Z" fill-opacity="0.5"/><path d="M390.90,103.80a1.1,1.1 0 1,0 2.2,0a1.1,1.1 0 1,0 -2.2,0Z"/><path d="M390.60,104.30 L391.33,106.29 L393.45,106.37 L391.79,107.69 L392.36,109.73 L390.60,108.55 L388.84,109.73 L389.41,107.69 L387.75,106.37 L389.87,106.29Z" fill-opacity="0.5"/><path d="M389.50,107.30a1.1,1.1 0 1,0 2.2,0a1.1,1.1 0 1,0 -2.2,0Z"/><path d="M389.90,107.70 L390.63,109.69 L392.75,109.77 L391.09,111.09 L391.66,113.13 L389.90,111.95 L388.14,113.13 L388.71,111.09 L387.05,109.77 L389.17,109.69Z" fill-opacity="0.5"/><path d="M388.80,110.70a1.1,1.1 0 1,0 2.2,0a1.1,1.1 0 1,0 -2.2,0Z"/><path d="M406.40,102.20 L407.13,104.19 L409.25,104.27 L407.59,105.59 L408.16,107.63 L406.40,106.45 L404.64,107.63 L405.21,105.59 L403.55,104.27 L405.67,104.19Z" fill-opacity="0.5"/><path d="M405.30,105.20a1.1,1.1 0 1,0 2.2,0a1.1,1.1 0 1,0 -2.2,0Z"/><path d="M409.80,98.10 L410.53,100.09 L412.65,100.17 L410.99,101.49 L411.56,103.53 L409.80,102.35 L408.04,103.53 L408.61,101.49 L406.95,100.17 L409.07,100.09Z" fill-opacity="0.5"/><path d="M408.70,101.10a1.1,1.1 0 1,0 2.2,0a1.1,1.1 0 1,0 -2.2,0Z"/><path d="M405.00,105.00 L405.73,106.99 L407.85,107.07 L406.19,108.39 L406.76,110.43 L405.00,109.25 L403.24,110.43 L403.81,108.39 L402.15,107.07 L404.27,106.99Z" fill-opacity="0.5"/><path d="M403.90,108.00a1.1,1.1 0 1,0 2.2,0a1.1,1.1 0 1,0 -2.2,0Z"/><path d="M396.10,110.40 L396.83,112.39 L398.95,112.47 L397.29,113.79 L397.86,115.83 L396.10,114.65 L394.34,115.83 L394.91,113.79 L393.25,112.47 L395.37,112.39Z" fill-opacity="0.5"/><path d="M395.00,113.40a1.1,1.1 0 1,0 2.2,0a1.1,1.1 0 1,0 -2.2,0Z"/><path d="M394.70,111.80 L395.43,113.79 L397.55,113.87 L395.89,115.19 L396.46,117.23 L394.70,116.05 L392.94,117.23 L393.51,115.19 L391.85,113.87 L393.97,113.79Z" fill-opacity="0.5"/><path d="M393.60,114.80a1.1,1.1 0 1,0 2.2,0a1.1,1.1 0 1,0 -2.2,0Z"/><path d="M410.50,107.00 L411.23,108.99 L413.35,109.07 L411.69,110.39 L412.26,112.43 L410.50,111.25 L408.74,112.43 L409.31,110.39 L407.65,109.07 L409.77,108.99Z" fill-opacity="0.5"/><path d="M409.40,110.00a1.1,1.1 0 1,0 2.2,0a1.1,1.1 0 1,0 -2.2,0Z"/><path d="M411.90,105.60 L412.63,107.59 L414.75,107.67 L413.09,108.99 L413.66,111.03 L411.90,109.85 L410.14,111.03 L410.71,108.99 L409.05,107.67 L411.17,107.59Z" fill-opacity="0.5"/><path d="M410.80,108.60a1.1,1.1 0 1,0 2.2,0a1.1,1.1 0 1,0 -2.2,0Z"/><path d="M414.60,110.40 L415.33,112.39 L417.45,112.47 L415.79,113.79 L416.36,115.83 L414.60,114.65 L412.84,115.83 L413.41,113.79 L411.75,112.47 L413.87,112.39Z" fill-opacity="0.5"/><path d="M413.50,113.40a1.1,1.1 0 1,0 2.2,0a1.1,1.1 0 1,0 -2.2,0Z"/><path d="M403.00,113.20 L403.73,115.19 L405.85,115.27 L404.19,116.59 L404.76,118.63 L403.00,117.45 L401.24,118.63 L401.81,116.59 L400.15,115.27 L402.27,115.19Z" fill-opacity="0.5"/><path d="M401.90,116.20a1.1,1.1 0 1,0 2.2,0a1.1,1.1 0 1,0 -2.2,0Z"/><path d="M403.00,116.60 L403.73,118.59 L405.85,118.67 L404.19,119.99 L404.76,122.03 L403.00,120.85 L401.24,122.03 L401.81,119.99 L400.15,118.67 L402.27,118.59Z" fill-opacity="0.5"/><path d="M401.90,119.60a1.1,1.1 0 1,0 2.2,0a1.1,1.1 0 1,0 -2.2,0Z"/><path d="M411.90,119.40 L412.63,121.39 L414.75,121.47 L413.09,122.79 L413.66,124.83 L411.90,123.65 L410.14,124.83 L410.71,122.79 L409.05,121.47 L411.17,121.39Z" fill-opacity="0.5"/><path d="M410.80,122.40a1.1,1.1 0 1,0 2.2,0a1.1,1.1 0 1,0 -2.2,0Z"/><path d="M418.10,120.70 L418.83,122.69 L420.95,122.77 L419.29,124.09 L419.86,126.13 L418.10,124.95 L416.34,126.13 L416.91,124.09 L415.25,122.77 L417.37,122.69Z" fill-opacity="0.5"/><path d="M417.00,123.70a1.1,1.1 0 1,0 2.2,0a1.1,1.1 0 1,0 -2.2,0Z"/><path d="M370.50,97.60 L371.23,99.59 L373.35,99.67 L371.69,100.99 L372.26,103.03 L370.50,101.85 L368.74,103.03 L369.31,100.99 L367.65,99.67 L369.77,99.59Z" fill-opacity="0.5"/><path d="M369.40,100.60a1.1,1.1 0 1,0 2.2,0a1.1,1.1 0 1,0 -2.2,0Z"/><path d="M368.40,103.80 L369.13,105.79 L371.25,105.87 L369.59,107.19 L370.16,109.23 L368.40,108.05 L366.64,109.23 L367.21,107.19 L365.55,105.87 L367.67,105.79Z" fill-opacity="0.5"/><path d="M367.30,106.80a1.1,1.1 0 1,0 2.2,0a1.1,1.1 0 1,0 -2.2,0Z"/><path d="M389.00,105.80 L389.73,107.79 L391.85,107.87 L390.19,109.19 L390.76,111.23 L389.00,110.05 L387.24,111.23 L387.81,109.19 L386.15,107.87 L388.27,107.79Z" fill-opacity="0.5"/><path d="M387.90,108.80a1.1,1.1 0 1,0 2.2,0a1.1,1.1 0 1,0 -2.2,0Z"/><path d="M376.70,94.20 L377.43,96.19 L379.55,96.27 L377.89,97.59 L378.46,99.63 L376.70,98.45 L374.94,99.63 L375.51,97.59 L373.85,96.27 L375.97,96.19Z" fill-opacity="0.5"/><path d="M375.60,97.20a1.1,1.1 0 1,0 2.2,0a1.1,1.1 0 1,0 -2.2,0Z"/></g><g fill="#e6202a"><path d="M322.70,37.30 L323.43,39.29 L325.55,39.37 L323.89,40.69 L324.46,42.73 L322.70,41.55 L320.94,42.73 L321.51,40.69 L319.85,39.37 L321.97,39.29Z" fill-opacity="0.5"/><path d="M321.60,40.30a1.1,1.1 0 1,0 2.2,0a1.1,1.1 0 1,0 -2.2,0Z"/><path d="M322.70,57.50 L323.43,59.49 L325.55,59.57 L323.89,60.89 L324.46,62.93 L322.70,61.75 L320.94,62.93 L321.51,60.89 L319.85,59.57 L321.97,59.49Z" fill-opacity="0.5"/><path d="M321.60,60.50a1.1,1.1 0 1,0 2.2,0a1.1,1.1 0 1,0 -2.2,0Z"/><path d="M335.00,62.30 L335.73,64.29 L337.85,64.37 L336.19,65.69 L336.76,67.73 L335.00,66.55 L333.24,67.73 L333.81,65.69 L332.15,64.37 L334.27,64.29Z" fill-opacity="0.5"/><path d="M333.90,65.30a1.1,1.1 0 1,0 2.2,0a1.1,1.1 0 1,0 -2.2,0Z"/><path d="M341.20,67.80 L341.93,69.79 L344.05,69.87 L342.39,71.19 L342.96,73.23 L341.20,72.05 L339.44,73.23 L340.01,71.19 L338.35,69.87 L340.47,69.79Z" fill-opacity="0.5"/><path d="M340.10,70.80a1.1,1.1 0 1,0 2.2,0a1.1,1.1 0 1,0 -2.2,0Z"/><path d="M344.60,69.20 L345.33,71.19 L347.45,71.27 L345.79,72.59 L346.36,74.63 L344.60,73.45 L342.84,74.63 L343.41,72.59 L341.75,71.27 L343.87,71.19Z" fill-opacity="0.5"/><path d="M343.50,72.20a1.1,1.1 0 1,0 2.2,0a1.1,1.1 0 1,0 -2.2,0Z"/><path d="M345.30,74.00 L346.03,75.99 L348.15,76.07 L346.49,77.39 L347.06,79.43 L345.30,78.25 L343.54,79.43 L344.11,77.39 L342.45,76.07 L344.57,75.99Z" fill-opacity="0.5"/><path d="M344.20,77.00a1.1,1.1 0 1,0 2.2,0a1.1,1.1 0 1,0 -2.2,0Z"/><path d="M348.70,67.80 L349.43,69.79 L351.55,69.87 L349.89,71.19 L350.46,73.23 L348.70,72.05 L346.94,73.23 L347.51,71.19 L345.85,69.87 L347.97,69.79Z" fill-opacity="0.5"/><path d="M347.60,70.80a1.1,1.1 0 1,0 2.2,0a1.1,1.1 0 1,0 -2.2,0Z"/><path d="M354.20,70.50 L354.93,72.49 L357.05,72.57 L355.39,73.89 L355.96,75.93 L354.20,74.75 L352.44,75.93 L353.01,73.89 L351.35,72.57 L353.47,72.49Z" fill-opacity="0.5"/><path d="M353.10,73.50a1.1,1.1 0 1,0 2.2,0a1.1,1.1 0 1,0 -2.2,0Z"/><path d="M352.20,75.40 L352.93,77.39 L355.05,77.47 L353.39,78.79 L353.96,80.83 L352.20,79.65 L350.44,80.83 L351.01,78.79 L349.35,77.47 L351.47,77.39Z" fill-opacity="0.5"/><path d="M351.10,78.40a1.1,1.1 0 1,0 2.2,0a1.1,1.1 0 1,0 -2.2,0Z"/><path d="M341.30,67.60 L342.03,69.59 L344.15,69.67 L342.49,70.99 L343.06,73.03 L341.30,71.85 L339.54,73.03 L340.11,70.99 L338.45,69.67 L340.57,69.59Z" fill-opacity="0.5"/><path d="M340.20,70.60a1.1,1.1 0 1,0 2.2,0a1.1,1.1 0 1,0 -2.2,0Z"/><path d="M343.60,69.30 L344.33,71.29 L346.45,71.37 L344.79,72.69 L345.36,74.73 L343.60,73.55 L341.84,74.73 L342.41,72.69 L340.75,71.37 L342.87,71.29Z" fill-opacity="0.5"/><path d="M342.50,72.30a1.1,1.1 0 1,0 2.2,0a1.1,1.1 0 1,0 -2.2,0Z"/><path d="M353.30,70.50 L354.03,72.49 L356.15,72.57 L354.49,73.89 L355.06,75.93 L353.30,74.75 L351.54,75.93 L352.11,73.89 L350.45,72.57 L352.57,72.49Z" fill-opacity="0.5"/><path d="M352.20,73.50a1.1,1.1 0 1,0 2.2,0a1.1,1.1 0 1,0 -2.2,0Z"/><path d="M345.30,78.50 L346.03,80.49 L348.15,80.57 L346.49,81.89 L347.06,83.93 L345.30,82.75 L343.54,83.93 L344.11,81.89 L342.45,80.57 L344.57,80.49Z" fill-opacity="0.5"/><path d="M344.20,81.50a1.1,1.1 0 1,0 2.2,0a1.1,1.1 0 1,0 -2.2,0Z"/><path d="M363.60,66.50 L364.33,68.49 L366.45,68.57 L364.79,69.89 L365.36,71.93 L363.60,70.75 L361.84,71.93 L362.41,69.89 L360.75,68.57 L362.87,68.49Z" fill-opacity="0.5"/><path d="M362.50,69.50a1.1,1.1 0 1,0 2.2,0a1.1,1.1 0 1,0 -2.2,0Z"/><path d="M365.90,67.00 L366.63,68.99 L368.75,69.07 L367.09,70.39 L367.66,72.43 L365.90,71.25 L364.14,72.43 L364.71,70.39 L363.05,69.07 L365.17,68.99Z" fill-opacity="0.5"/><path d="M364.80,70.00a1.1,1.1 0 1,0 2.2,0a1.1,1.1 0 1,0 -2.2,0Z"/><path d="M363.00,68.20 L363.73,70.19 L365.85,70.27 L364.19,71.59 L364.76,73.63 L363.00,72.45 L361.24,73.63 L361.81,71.59 L360.15,70.27 L362.27,70.19Z" fill-opacity="0.5"/><path d="M361.90,71.20a1.1,1.1 0 1,0 2.2,0a1.1,1.1 0 1,0 -2.2,0Z"/><path d="M368.20,72.70 L368.93,74.69 L371.05,74.77 L369.39,76.09 L369.96,78.13 L368.20,76.95 L366.44,78.13 L367.01,76.09 L365.35,74.77 L367.47,74.69Z" fill-opacity="0.5"/><path d="M367.10,75.70a1.1,1.1 0 1,0 2.2,0a1.1,1.1 0 1,0 -2.2,0Z"/><path d="M359.60,75.60 L360.33,77.59 L362.45,77.67 L360.79,78.99 L361.36,81.03 L359.60,79.85 L357.84,81.03 L358.41,78.99 L356.75,77.67 L358.87,77.59Z" fill-opacity="0.5"/><path d="M358.50,78.60a1.1,1.1 0 1,0 2.2,0a1.1,1.1 0 1,0 -2.2,0Z"/><path d="M353.30,76.20 L354.03,78.19 L356.15,78.27 L354.49,79.59 L355.06,81.63 L353.30,80.45 L351.54,81.63 L352.11,79.59 L350.45,78.27 L352.57,78.19Z" fill-opacity="0.5"/><path d="M352.20,79.20a1.1,1.1 0 1,0 2.2,0a1.1,1.1 0 1,0 -2.2,0Z"/><path d="M355.00,77.90 L355.73,79.89 L357.85,79.97 L356.19,81.29 L356.76,83.33 L355.00,82.15 L353.24,83.33 L353.81,81.29 L352.15,79.97 L354.27,79.89Z" fill-opacity="0.5"/><path d="M353.90,80.90a1.1,1.1 0 1,0 2.2,0a1.1,1.1 0 1,0 -2.2,0Z"/><path d="M371.00,76.70 L371.73,78.69 L373.85,78.77 L372.19,80.09 L372.76,82.13 L371.00,80.95 L369.24,82.13 L369.81,80.09 L368.15,78.77 L370.27,78.69Z" fill-opacity="0.5"/><path d="M369.90,79.70a1.1,1.1 0 1,0 2.2,0a1.1,1.1 0 1,0 -2.2,0Z"/><path d="M356.20,80.80 L356.93,82.79 L359.05,82.87 L357.39,84.19 L357.96,86.23 L356.20,85.05 L354.44,86.23 L355.01,84.19 L353.35,82.87 L355.47,82.79Z" fill-opacity="0.5"/><path d="M355.10,83.80a1.1,1.1 0 1,0 2.2,0a1.1,1.1 0 1,0 -2.2,0Z"/><path d="M365.30,85.30 L366.03,87.29 L368.15,87.37 L366.49,88.69 L367.06,90.73 L365.30,89.55 L363.54,90.73 L364.11,88.69 L362.45,87.37 L364.57,87.29Z" fill-opacity="0.5"/><path d="M364.20,88.30a1.1,1.1 0 1,0 2.2,0a1.1,1.1 0 1,0 -2.2,0Z"/><path d="M371.60,80.20 L372.33,82.19 L374.45,82.27 L372.79,83.59 L373.36,85.63 L371.60,84.45 L369.84,85.63 L370.41,83.59 L368.75,82.27 L370.87,82.19Z" fill-opacity="0.5"/><path d="M370.50,83.20a1.1,1.1 0 1,0 2.2,0a1.1,1.1 0 1,0 -2.2,0Z"/><path d="M375.60,83.60 L376.33,85.59 L378.45,85.67 L376.79,86.99 L377.36,89.03 L375.60,87.85 L373.84,89.03 L374.41,86.99 L372.75,85.67 L374.87,85.59Z" fill-opacity="0.5"/><path d="M374.50,86.60a1.1,1.1 0 1,0 2.2,0a1.1,1.1 0 1,0 -2.2,0Z"/><path d="M371.60,86.50 L372.33,88.49 L374.45,88.57 L372.79,89.89 L373.36,91.93 L371.60,90.75 L369.84,91.93 L370.41,89.89 L368.75,88.57 L370.87,88.49Z" fill-opacity="0.5"/><path d="M370.50,89.50a1.1,1.1 0 1,0 2.2,0a1.1,1.1 0 1,0 -2.2,0Z"/><path d="M382.50,83.60 L383.23,85.59 L385.35,85.67 L383.69,86.99 L384.26,89.03 L382.50,87.85 L380.74,89.03 L381.31,86.99 L379.65,85.67 L381.77,85.59Z" fill-opacity="0.5"/><path d="M381.40,86.60a1.1,1.1 0 1,0 2.2,0a1.1,1.1 0 1,0 -2.2,0Z"/><path d="M365.30,89.90 L366.03,91.89 L368.15,91.97 L366.49,93.29 L367.06,95.33 L365.30,94.15 L363.54,95.33 L364.11,93.29 L362.45,91.97 L364.57,91.89Z" fill-opacity="0.5"/><path d="M364.20,92.90a1.1,1.1 0 1,0 2.2,0a1.1,1.1 0 1,0 -2.2,0Z"/><path d="M378.50,94.50 L379.23,96.49 L381.35,96.57 L379.69,97.89 L380.26,99.93 L378.50,98.75 L376.74,99.93 L377.31,97.89 L375.65,96.57 L377.77,96.49Z" fill-opacity="0.5"/><path d="M377.40,97.50a1.1,1.1 0 1,0 2.2,0a1.1,1.1 0 1,0 -2.2,0Z"/><path d="M381.90,96.20 L382.63,98.19 L384.75,98.27 L383.09,99.59 L383.66,101.63 L381.90,100.45 L380.14,101.63 L380.71,99.59 L379.05,98.27 L381.17,98.19Z" fill-opacity="0.5"/><path d="M380.80,99.20a1.1,1.1 0 1,0 2.2,0a1.1,1.1 0 1,0 -2.2,0Z"/><path d="M370.70,82.30 L371.43,84.29 L373.55,84.37 L371.89,85.69 L372.46,87.73 L370.70,86.55 L368.94,87.73 L369.51,85.69 L367.85,84.37 L369.97,84.29Z" fill-opacity="0.5"/><path d="M369.60,85.30a1.1,1.1 0 1,0 2.2,0a1.1,1.1 0 1,0 -2.2,0Z"/><path d="M387.80,83.70 L388.53,85.69 L390.65,85.77 L388.99,87.09 L389.56,89.13 L387.80,87.95 L386.04,89.13 L386.61,87.09 L384.95,85.77 L387.07,85.69Z" fill-opacity="0.5"/><path d="M386.70,86.70a1.1,1.1 0 1,0 2.2,0a1.1,1.1 0 1,0 -2.2,0Z"/><path d="M385.80,89.80 L386.53,91.79 L388.65,91.87 L386.99,93.19 L387.56,95.23 L385.80,94.05 L384.04,95.23 L384.61,93.19 L382.95,91.87 L385.07,91.79Z" fill-opacity="0.5"/><path d="M384.70,92.80a1.1,1.1 0 1,0 2.2,0a1.1,1.1 0 1,0 -2.2,0Z"/><path d="M392.00,93.30 L392.73,95.29 L394.85,95.37 L393.19,96.69 L393.76,98.73 L392.00,97.55 L390.24,98.73 L390.81,96.69 L389.15,95.37 L391.27,95.29Z" fill-opacity="0.5"/><path d="M390.90,96.30a1.1,1.1 0 1,0 2.2,0a1.1,1.1 0 1,0 -2.2,0Z"/><path d="M394.70,95.30 L395.43,97.29 L397.55,97.37 L395.89,98.69 L396.46,100.73 L394.70,99.55 L392.94,100.73 L393.51,98.69 L391.85,97.37 L393.97,97.29Z" fill-opacity="0.5"/><path d="M393.60,98.30a1.1,1.1 0 1,0 2.2,0a1.1,1.1 0 1,0 -2.2,0Z"/><path d="M377.60,98.80 L378.33,100.79 L380.45,100.87 L378.79,102.19 L379.36,104.23 L377.60,103.05 L375.84,104.23 L376.41,102.19 L374.75,100.87 L376.87,100.79Z" fill-opacity="0.5"/><path d="M376.50,101.80a1.1,1.1 0 1,0 2.2,0a1.1,1.1 0 1,0 -2.2,0Z"/><path d="M385.80,98.10 L386.53,100.09 L388.65,100.17 L386.99,101.49 L387.56,103.53 L385.80,102.35 L384.04,103.53 L384.61,101.49 L382.95,100.17 L385.07,100.09Z" fill-opacity="0.5"/><path d="M384.70,101.10a1.1,1.1 0 1,0 2.2,0a1.1,1.1 0 1,0 -2.2,0Z"/><path d="M388.50,97.40 L389.23,99.39 L391.35,99.47 L389.69,100.79 L390.26,102.83 L388.50,101.65 L386.74,102.83 L387.31,100.79 L385.65,99.47 L387.77,99.39Z" fill-opacity="0.5"/><path d="M387.40,100.40a1.1,1.1 0 1,0 2.2,0a1.1,1.1 0 1,0 -2.2,0Z"/><path d="M370.70,102.90 L371.43,104.89 L373.55,104.97 L371.89,106.29 L372.46,108.33 L370.70,107.15 L368.94,108.33 L369.51,106.29 L367.85,104.97 L369.97,104.89Z" fill-opacity="0.5"/><path d="M369.60,105.90a1.1,1.1 0 1,0 2.2,0a1.1,1.1 0 1,0 -2.2,0Z"/><path d="M381.00,102.20 L381.73,104.19 L383.85,104.27 L382.19,105.59 L382.76,107.63 L381.00,106.45 L379.24,107.63 L379.81,105.59 L378.15,104.27 L380.27,104.19Z" fill-opacity="0.5"/><path d="M379.90,105.20a1.1,1.1 0 1,0 2.2,0a1.1,1.1 0 1,0 -2.2,0Z"/><path d="M387.80,105.00 L388.53,106.99 L390.65,107.07 L388.99,108.39 L389.56,110.43 L387.80,109.25 L386.04,110.43 L386.61,108.39 L384.95,107.07 L387.07,106.99Z" fill-opacity="0.5"/><path d="M386.70,108.00a1.1,1.1 0 1,0 2.2,0a1.1,1.1 0 1,0 -2.2,0Z"/><path d="M398.80,104.30 L399.53,106.29 L401.65,106.37 L399.99,107.69 L400.56,109.73 L398.80,108.55 L397.04,109.73 L397.61,107.69 L395.95,106.37 L398.07,106.29Z" fill-opacity="0.5"/><path d="M397.70,107.30a1.1,1.1 0 1,0 2.2,0a1.1,1.1 0 1,0 -2.2,0Z"/><path d="M400.90,103.60 L401.63,105.59 L403.75,105.67 L402.09,106.99 L402.66,109.03 L400.90,107.85 L399.14,109.03 L399.71,106.99 L398.05,105.67 L400.17,105.59Z" fill-opacity="0.5"/><path d="M399.80,106.60a1.1,1.1 0 1,0 2.2,0a1.1,1.1 0 1,0 -2.2,0Z"/><path d="M400.90,109.10 L401.63,111.09 L403.75,111.17 L402.09,112.49 L402.66,114.53 L400.90,113.35 L399.14,114.53 L399.71,112.49 L398.05,111.17 L400.17,111.09Z" fill-opacity="0.5"/><path d="M399.80,112.10a1.1,1.1 0 1,0 2.2,0a1.1,1.1 0 1,0 -2.2,0Z"/><path d="M411.20,109.10 L411.93,111.09 L414.05,111.17 L412.39,112.49 L412.96,114.53 L411.20,113.35 L409.44,114.53 L410.01,112.49 L408.35,111.17 L410.47,111.09Z" fill-opacity="0.5"/><path d="M410.10,112.10a1.1,1.1 0 1,0 2.2,0a1.1,1.1 0 1,0 -2.2,0Z"/><path d="M406.40,111.80 L407.13,113.79 L409.25,113.87 L407.59,115.19 L408.16,117.23 L406.40,116.05 L404.64,117.23 L405.21,115.19 L403.55,113.87 L405.67,113.79Z" fill-opacity="0.5"/><path d="M405.30,114.80a1.1,1.1 0 1,0 2.2,0a1.1,1.1 0 1,0 -2.2,0Z"/><path d="M409.80,115.90 L410.53,117.89 L412.65,117.97 L410.99,119.29 L411.56,121.33 L409.80,120.15 L408.04,121.33 L408.61,119.29 L406.95,117.97 L409.07,117.89Z" fill-opacity="0.5"/><path d="M408.70,118.90a1.1,1.1 0 1,0 2.2,0a1.1,1.1 0 1,0 -2.2,0Z"/><path d="M426.30,127.60 L427.03,129.59 L429.15,129.67 L427.49,130.99 L428.06,133.03 L426.30,131.85 L424.54,133.03 L425.11,130.99 L423.45,129.67 L425.57,129.59Z" fill-opacity="0.5"/><path d="M425.20,130.60a1.1,1.1 0 1,0 2.2,0a1.1,1.1 0 1,0 -2.2,0Z"/><path d="M369.80,102.40 L370.53,104.39 L372.65,104.47 L370.99,105.79 L371.56,107.83 L369.80,106.65 L368.04,107.83 L368.61,105.79 L366.95,104.47 L369.07,104.39Z" fill-opacity="0.5"/><path d="M368.70,105.40a1.1,1.1 0 1,0 2.2,0a1.1,1.1 0 1,0 -2.2,0Z"/><path d="M372.60,99.70 L373.33,101.69 L375.45,101.77 L373.79,103.09 L374.36,105.13 L372.60,103.95 L370.84,105.13 L371.41,103.09 L369.75,101.77 L371.87,101.69Z" fill-opacity="0.5"/><path d="M371.50,102.70a1.1,1.1 0 1,0 2.2,0a1.1,1.1 0 1,0 -2.2,0Z"/><path d="M385.60,98.30 L386.33,100.29 L388.45,100.37 L386.79,101.69 L387.36,103.73 L385.60,102.55 L383.84,103.73 L384.41,101.69 L382.75,100.37 L384.87,100.29Z" fill-opacity="0.5"/><path d="M384.50,101.30a1.1,1.1 0 1,0 2.2,0a1.1,1.1 0 1,0 -2.2,0Z"/></g><text class="tk" transform="translate(282.20,189.80) scale(0.960,1)" text-anchor="middle">-150</text><text class="tk" transform="translate(314.55,189.80) scale(0.960,1)" text-anchor="middle">-100</text><text class="tk" transform="translate(346.90,189.80) scale(0.960,1)" text-anchor="middle">-50</text><text class="tk" transform="translate(379.25,189.80) scale(0.960,1)" text-anchor="middle">0</text><text class="tk" transform="translate(411.60,189.80) scale(0.960,1)" text-anchor="middle">50</text><text class="tk" transform="translate(443.95,189.80) scale(0.960,1)" text-anchor="middle">100</text><text class="tk" transform="translate(476.30,189.80) scale(0.960,1)" text-anchor="middle">150</text><text class="tk" transform="translate(277.90,183.50) scale(0.960,1)" text-anchor="end">-150</text><text class="tk" transform="translate(277.90,154.40) scale(0.960,1)" text-anchor="end">-100</text><text class="tk" transform="translate(277.90,125.30) scale(0.960,1)" text-anchor="end">-50</text><text class="tk" transform="translate(277.90,96.20) scale(0.960,1)" text-anchor="end">0</text><text class="tk" transform="translate(277.90,67.10) scale(0.960,1)" text-anchor="end">50</text><text class="tk" transform="translate(277.90,38.00) scale(0.960,1)" text-anchor="end">100</text><text class="tk" transform="translate(277.90,8.90) scale(0.960,1)" text-anchor="end">150</text><text class="ti" transform="translate(306.32,200.10) scale(0.774,1)">SSE</text><text class="ti" transform="translate(323.62,200.10) scale(0.888,1)">HEEQ</text><text class="ti" transform="translate(349.03,200.10) scale(1.038,1)">Longitude</text><text class="ti" transform="translate(394.15,200.10) scale(1.051,1)">from</text><text class="ti" transform="translate(416.26,200.10) scale(0.967,1)">STB/Deg</text><text class="pl" transform="translate(370.25,213.90) scale(0.930,1)" text-anchor="middle">(b)</text><text class="ti" transform="translate(251.50,164.69) rotate(-90) scale(0.908,1)">HEEQ</text><text class="ti" transform="translate(251.50,138.37) rotate(-90) scale(1.037,1)">Longitudinal</text><text class="ti" transform="translate(251.50,84.89) rotate(-90) scale(1.064,1)">Difference/Deg</text><text class="eq" transform="translate(395.50,25.30) scale(1.070,1)">y=-0.759x+0.258</text><text class="eq" transform="translate(395.50,39.60) scale(1.070,1)">R<tspan class="sup" dy="-4.0">2</tspan><tspan dy="4.0">=0.809</tspan></text><path d="M531.25,180.40V176.80M531.25,5.80V9.40M537.71,180.40V176.80M537.71,5.80V9.40M544.16,180.40V176.80M544.16,5.80V9.40M550.61,180.40V176.80M550.61,5.80V9.40M557.07,180.40V173.20M557.07,5.80V13.00M563.52,180.40V176.80M563.52,5.80V9.40M569.97,180.40V176.80M569.97,5.80V9.40M576.43,180.40V176.80M576.43,5.80V9.40M582.88,180.40V176.80M582.88,5.80V9.40M589.33,180.40V173.20M589.33,5.80V13.00M595.79,180.40V176.80M595.79,5.80V9.40M602.24,180.40V176.80M602.24,5.80V9.40M608.69,180.40V176.80M608.69,5.80V9.40M615.15,180.40V176.80M615.15,5.80V9.40M621.60,180.40V173.20M621.60,5.80V13.00M628.05,180.40V176.80M628.05,5.80V9.40M634.51,180.40V176.80M634.51,5.80V9.40M640.96,180.40V176.80M640.96,5.80V9.40M647.41,180.40V176.80M647.41,5.80V9.40M653.87,180.40V173.20M653.87,5.80V13.00M660.32,180.40V176.80M660.32,5.80V9.40M666.77,180.40V176.80M666.77,5.80V9.40M673.23,180.40V176.80M673.23,5.80V9.40M679.68,180.40V176.80M679.68,5.80V9.40M686.13,180.40V173.20M686.13,5.80V13.00M692.59,180.40V176.80M692.59,5.80V9.40M699.04,180.40V176.80M699.04,5.80V9.40M705.49,180.40V176.80M705.49,5.80V9.40M711.95,180.40V176.80M711.95,5.80V9.40M524.80,174.58H528.40M718.40,174.58H714.80M524.80,168.76H528.40M718.40,168.76H714.80M524.80,162.94H528.40M718.40,162.94H714.80M524.80,157.12H528.40M718.40,157.12H714.80M524.80,151.30H532.00M718.40,151.30H711.20M524.80,145.48H528.40M718.40,145.48H714.80M524.80,139.66H528.40M718.40,139.66H714.80M524.80,133.84H528.40M718.40,133.84H714.80M524.80,128.02H528.40M718.40,128.02H714.80M524.80,122.20H532.00M718.40,122.20H711.20M524.80,116.38H528.40M718.40,116.38H714.80M524.80,110.56H528.40M718.40,110.56H714.80M524.80,104.74H528.40M718.40,104.74H714.80M524.80,98.92H528.40M718.40,98.92H714.80M524.80,93.10H532.00M718.40,93.10H711.20M524.80,87.28H528.40M718.40,87.28H714.80M524.80,81.46H528.40M718.40,81.46H714.80M524.80,75.64H528.40M718.40,75.64H714.80M524.80,69.82H528.40M718.40,69.82H714.80M524.80,64.00H532.00M718.40,64.00H711.20M524.80,58.18H528.40M718.40,58.18H714.80M524.80,52.36H528.40M718.40,52.36H714.80M524.80,46.54H528.40M718.40,46.54H714.80M524.80,40.72H528.40M718.40,40.72H714.80M524.80,34.90H532.00M718.40,34.90H711.20M524.80,29.08H528.40M718.40,29.08H714.80M524.80,23.26H528.40M718.40,23.26H714.80M524.80,17.44H528.40M718.40,17.44H714.80M524.80,11.62H528.40M718.40,11.62H714.80" stroke="#707070" stroke-width="1.0" fill="none"/><rect x="524.80" y="5.80" width="193.60" height="174.60" stroke="#707070" stroke-width="1.0" fill="none"/><line x1="524.80" y1="40.30" x2="718.40" y2="145.94" stroke="#3c3c3c" stroke-width="0.9"/><g fill="#1a8a2c"><path d="M590.80,68.10 L591.53,70.09 L593.65,70.17 L591.99,71.49 L592.56,73.53 L590.80,72.35 L589.04,73.53 L589.61,71.49 L587.95,70.17 L590.07,70.09Z" fill-opacity="0.5"/><path d="M589.70,71.10a1.1,1.1 0 1,0 2.2,0a1.1,1.1 0 1,0 -2.2,0Z"/><path d="M587.40,74.00 L588.13,75.99 L590.25,76.07 L588.59,77.39 L589.16,79.43 L587.40,78.25 L585.64,79.43 L586.21,77.39 L584.55,76.07 L586.67,75.99Z" fill-opacity="0.5"/><path d="M586.30,77.00a1.1,1.1 0 1,0 2.2,0a1.1,1.1 0 1,0 -2.2,0Z"/><path d="M596.30,71.20 L597.03,73.19 L599.15,73.27 L597.49,74.59 L598.06,76.63 L596.30,75.45 L594.54,76.63 L595.11,74.59 L593.45,73.27 L595.57,73.19Z" fill-opacity="0.5"/><path d="M595.20,74.20a1.1,1.1 0 1,0 2.2,0a1.1,1.1 0 1,0 -2.2,0Z"/><path d="M592.00,74.30 L592.73,76.29 L594.85,76.37 L593.19,77.69 L593.76,79.73 L592.00,78.55 L590.24,79.73 L590.81,77.69 L589.15,76.37 L591.27,76.29Z" fill-opacity="0.5"/><path d="M590.90,77.30a1.1,1.1 0 1,0 2.2,0a1.1,1.1 0 1,0 -2.2,0Z"/><path d="M601.20,68.00 L601.93,69.99 L604.05,70.07 L602.39,71.39 L602.96,73.43 L601.20,72.25 L599.44,73.43 L600.01,71.39 L598.35,70.07 L600.47,69.99Z" fill-opacity="0.5"/><path d="M600.10,71.00a1.1,1.1 0 1,0 2.2,0a1.1,1.1 0 1,0 -2.2,0Z"/><path d="M608.60,68.60 L609.33,70.59 L611.45,70.67 L609.79,71.99 L610.36,74.03 L608.60,72.85 L606.84,74.03 L607.41,71.99 L605.75,70.67 L607.87,70.59Z" fill-opacity="0.5"/><path d="M607.50,71.60a1.1,1.1 0 1,0 2.2,0a1.1,1.1 0 1,0 -2.2,0Z"/><path d="M618.90,70.30 L619.63,72.29 L621.75,72.37 L620.09,73.69 L620.66,75.73 L618.90,74.55 L617.14,75.73 L617.71,73.69 L616.05,72.37 L618.17,72.29Z" fill-opacity="0.5"/><path d="M617.80,73.30a1.1,1.1 0 1,0 2.2,0a1.1,1.1 0 1,0 -2.2,0Z"/><path d="M625.80,74.30 L626.53,76.29 L628.65,76.37 L626.99,77.69 L627.56,79.73 L625.80,78.55 L624.04,79.73 L624.61,77.69 L622.95,76.37 L625.07,76.29Z" fill-opacity="0.5"/><path d="M624.70,77.30a1.1,1.1 0 1,0 2.2,0a1.1,1.1 0 1,0 -2.2,0Z"/><path d="M594.90,76.60 L595.63,78.59 L597.75,78.67 L596.09,79.99 L596.66,82.03 L594.90,80.85 L593.14,82.03 L593.71,79.99 L592.05,78.67 L594.17,78.59Z" fill-opacity="0.5"/><path d="M593.80,79.60a1.1,1.1 0 1,0 2.2,0a1.1,1.1 0 1,0 -2.2,0Z"/><path d="M598.30,79.50 L599.03,81.49 L601.15,81.57 L599.49,82.89 L600.06,84.93 L598.30,83.75 L596.54,84.93 L597.11,82.89 L595.45,81.57 L597.57,81.49Z" fill-opacity="0.5"/><path d="M597.20,82.50a1.1,1.1 0 1,0 2.2,0a1.1,1.1 0 1,0 -2.2,0Z"/><path d="M591.40,80.00 L592.13,81.99 L594.25,82.07 L592.59,83.39 L593.16,85.43 L591.40,84.25 L589.64,85.43 L590.21,83.39 L588.55,82.07 L590.67,81.99Z" fill-opacity="0.5"/><path d="M590.30,83.00a1.1,1.1 0 1,0 2.2,0a1.1,1.1 0 1,0 -2.2,0Z"/><path d="M594.90,80.60 L595.63,82.59 L597.75,82.67 L596.09,83.99 L596.66,86.03 L594.90,84.85 L593.14,86.03 L593.71,83.99 L592.05,82.67 L594.17,82.59Z" fill-opacity="0.5"/><path d="M593.80,83.60a1.1,1.1 0 1,0 2.2,0a1.1,1.1 0 1,0 -2.2,0Z"/><path d="M597.70,85.80 L598.43,87.79 L600.55,87.87 L598.89,89.19 L599.46,91.23 L597.70,90.05 L595.94,91.23 L596.51,89.19 L594.85,87.87 L596.97,87.79Z" fill-opacity="0.5"/><path d="M596.60,88.80a1.1,1.1 0 1,0 2.2,0a1.1,1.1 0 1,0 -2.2,0Z"/><path d="M610.90,82.30 L611.63,84.29 L613.75,84.37 L612.09,85.69 L612.66,87.73 L610.90,86.55 L609.14,87.73 L609.71,85.69 L608.05,84.37 L610.17,84.29Z" fill-opacity="0.5"/><path d="M609.80,85.30a1.1,1.1 0 1,0 2.2,0a1.1,1.1 0 1,0 -2.2,0Z"/><path d="M616.00,82.30 L616.73,84.29 L618.85,84.37 L617.19,85.69 L617.76,87.73 L616.00,86.55 L614.24,87.73 L614.81,85.69 L613.15,84.37 L615.27,84.29Z" fill-opacity="0.5"/><path d="M614.90,85.30a1.1,1.1 0 1,0 2.2,0a1.1,1.1 0 1,0 -2.2,0Z"/><path d="M615.50,85.20 L616.23,87.19 L618.35,87.27 L616.69,88.59 L617.26,90.63 L615.50,89.45 L613.74,90.63 L614.31,88.59 L612.65,87.27 L614.77,87.19Z" fill-opacity="0.5"/><path d="M614.40,88.20a1.1,1.1 0 1,0 2.2,0a1.1,1.1 0 1,0 -2.2,0Z"/><path d="M621.20,85.20 L621.93,87.19 L624.05,87.27 L622.39,88.59 L622.96,90.63 L621.20,89.45 L619.44,90.63 L620.01,88.59 L618.35,87.27 L620.47,87.19Z" fill-opacity="0.5"/><path d="M620.10,88.20a1.1,1.1 0 1,0 2.2,0a1.1,1.1 0 1,0 -2.2,0Z"/><path d="M610.90,88.00 L611.63,89.99 L613.75,90.07 L612.09,91.39 L612.66,93.43 L610.90,92.25 L609.14,93.43 L609.71,91.39 L608.05,90.07 L610.17,89.99Z" fill-opacity="0.5"/><path d="M609.80,91.00a1.1,1.1 0 1,0 2.2,0a1.1,1.1 0 1,0 -2.2,0Z"/><path d="M617.80,89.80 L618.53,91.79 L620.65,91.87 L618.99,93.19 L619.56,95.23 L617.80,94.05 L616.04,95.23 L616.61,93.19 L614.95,91.87 L617.07,91.79Z" fill-opacity="0.5"/><path d="M616.70,92.80a1.1,1.1 0 1,0 2.2,0a1.1,1.1 0 1,0 -2.2,0Z"/><path d="M624.00,94.30 L624.73,96.29 L626.85,96.37 L625.19,97.69 L625.76,99.73 L624.00,98.55 L622.24,99.73 L622.81,97.69 L621.15,96.37 L623.27,96.29Z" fill-opacity="0.5"/><path d="M622.90,97.30a1.1,1.1 0 1,0 2.2,0a1.1,1.1 0 1,0 -2.2,0Z"/><path d="M612.10,81.40 L612.83,83.39 L614.95,83.47 L613.29,84.79 L613.86,86.83 L612.10,85.65 L610.34,86.83 L610.91,84.79 L609.25,83.47 L611.37,83.39Z" fill-opacity="0.5"/><path d="M611.00,84.40a1.1,1.1 0 1,0 2.2,0a1.1,1.1 0 1,0 -2.2,0Z"/><path d="M616.20,80.70 L616.93,82.69 L619.05,82.77 L617.39,84.09 L617.96,86.13 L616.20,84.95 L614.44,86.13 L615.01,84.09 L613.35,82.77 L615.47,82.69Z" fill-opacity="0.5"/><path d="M615.10,83.70a1.1,1.1 0 1,0 2.2,0a1.1,1.1 0 1,0 -2.2,0Z"/><path d="M622.40,84.80 L623.13,86.79 L625.25,86.87 L623.59,88.19 L624.16,90.23 L622.40,89.05 L620.64,90.23 L621.21,88.19 L619.55,86.87 L621.67,86.79Z" fill-opacity="0.5"/><path d="M621.30,87.80a1.1,1.1 0 1,0 2.2,0a1.1,1.1 0 1,0 -2.2,0Z"/><path d="M614.80,87.60 L615.53,89.59 L617.65,89.67 L615.99,90.99 L616.56,93.03 L614.80,91.85 L613.04,93.03 L613.61,90.99 L611.95,89.67 L614.07,89.59Z" fill-opacity="0.5"/><path d="M613.70,90.60a1.1,1.1 0 1,0 2.2,0a1.1,1.1 0 1,0 -2.2,0Z"/><path d="M620.30,89.70 L621.03,91.69 L623.15,91.77 L621.49,93.09 L622.06,95.13 L620.30,93.95 L618.54,95.13 L619.11,93.09 L617.45,91.77 L619.57,91.69Z" fill-opacity="0.5"/><path d="M619.20,92.70a1.1,1.1 0 1,0 2.2,0a1.1,1.1 0 1,0 -2.2,0Z"/><path d="M630.60,86.90 L631.33,88.89 L633.45,88.97 L631.79,90.29 L632.36,92.33 L630.60,91.15 L628.84,92.33 L629.41,90.29 L627.75,88.97 L629.87,88.89Z" fill-opacity="0.5"/><path d="M629.50,89.90a1.1,1.1 0 1,0 2.2,0a1.1,1.1 0 1,0 -2.2,0Z"/><path d="M636.80,91.00 L637.53,92.99 L639.65,93.07 L637.99,94.39 L638.56,96.43 L636.80,95.25 L635.04,96.43 L635.61,94.39 L633.95,93.07 L636.07,92.99Z" fill-opacity="0.5"/><path d="M635.70,94.00a1.1,1.1 0 1,0 2.2,0a1.1,1.1 0 1,0 -2.2,0Z"/><path d="M643.00,91.70 L643.73,93.69 L645.85,93.77 L644.19,95.09 L644.76,97.13 L643.00,95.95 L641.24,97.13 L641.81,95.09 L640.15,93.77 L642.27,93.69Z" fill-opacity="0.5"/><path d="M641.90,94.70a1.1,1.1 0 1,0 2.2,0a1.1,1.1 0 1,0 -2.2,0Z"/><path d="M624.40,94.50 L625.13,96.49 L627.25,96.57 L625.59,97.89 L626.16,99.93 L624.40,98.75 L622.64,99.93 L623.21,97.89 L621.55,96.57 L623.67,96.49Z" fill-opacity="0.5"/><path d="M623.30,97.50a1.1,1.1 0 1,0 2.2,0a1.1,1.1 0 1,0 -2.2,0Z"/><path d="M634.70,97.90 L635.43,99.89 L637.55,99.97 L635.89,101.29 L636.46,103.33 L634.70,102.15 L632.94,103.33 L633.51,101.29 L631.85,99.97 L633.97,99.89Z" fill-opacity="0.5"/><path d="M633.60,100.90a1.1,1.1 0 1,0 2.2,0a1.1,1.1 0 1,0 -2.2,0Z"/><path d="M634.00,100.60 L634.73,102.59 L636.85,102.67 L635.19,103.99 L635.76,106.03 L634.00,104.85 L632.24,106.03 L632.81,103.99 L631.15,102.67 L633.27,102.59Z" fill-opacity="0.5"/><path d="M632.90,103.60a1.1,1.1 0 1,0 2.2,0a1.1,1.1 0 1,0 -2.2,0Z"/><path d="M625.80,102.00 L626.53,103.99 L628.65,104.07 L626.99,105.39 L627.56,107.43 L625.80,106.25 L624.04,107.43 L624.61,105.39 L622.95,104.07 L625.07,103.99Z" fill-opacity="0.5"/><path d="M624.70,105.00a1.1,1.1 0 1,0 2.2,0a1.1,1.1 0 1,0 -2.2,0Z"/><path d="M638.80,102.70 L639.53,104.69 L641.65,104.77 L639.99,106.09 L640.56,108.13 L638.80,106.95 L637.04,108.13 L637.61,106.09 L635.95,104.77 L638.07,104.69Z" fill-opacity="0.5"/><path d="M637.70,105.70a1.1,1.1 0 1,0 2.2,0a1.1,1.1 0 1,0 -2.2,0Z"/><path d="M654.60,101.30 L655.33,103.29 L657.45,103.37 L655.79,104.69 L656.36,106.73 L654.60,105.55 L652.84,106.73 L653.41,104.69 L651.75,103.37 L653.87,103.29Z" fill-opacity="0.5"/><path d="M653.50,104.30a1.1,1.1 0 1,0 2.2,0a1.1,1.1 0 1,0 -2.2,0Z"/><path d="M623.70,109.60 L624.43,111.59 L626.55,111.67 L624.89,112.99 L625.46,115.03 L623.70,113.85 L621.94,115.03 L622.51,112.99 L620.85,111.67 L622.97,111.59Z" fill-opacity="0.5"/><path d="M622.60,112.60a1.1,1.1 0 1,0 2.2,0a1.1,1.1 0 1,0 -2.2,0Z"/><path d="M623.70,113.70 L624.43,115.69 L626.55,115.77 L624.89,117.09 L625.46,119.13 L623.70,117.95 L621.94,119.13 L622.51,117.09 L620.85,115.77 L622.97,115.69Z" fill-opacity="0.5"/><path d="M622.60,116.70a1.1,1.1 0 1,0 2.2,0a1.1,1.1 0 1,0 -2.2,0Z"/><path d="M636.10,110.90 L636.83,112.89 L638.95,112.97 L637.29,114.29 L637.86,116.33 L636.10,115.15 L634.34,116.33 L634.91,114.29 L633.25,112.97 L635.37,112.89Z" fill-opacity="0.5"/><path d="M635.00,113.90a1.1,1.1 0 1,0 2.2,0a1.1,1.1 0 1,0 -2.2,0Z"/><path d="M647.80,108.20 L648.53,110.19 L650.65,110.27 L648.99,111.59 L649.56,113.63 L647.80,112.45 L646.04,113.63 L646.61,111.59 L644.95,110.27 L647.07,110.19Z" fill-opacity="0.5"/><path d="M646.70,111.20a1.1,1.1 0 1,0 2.2,0a1.1,1.1 0 1,0 -2.2,0Z"/><path d="M651.20,108.90 L651.93,110.89 L654.05,110.97 L652.39,112.29 L652.96,114.33 L651.20,113.15 L649.44,114.33 L650.01,112.29 L648.35,110.97 L650.47,110.89Z" fill-opacity="0.5"/><path d="M650.10,111.90a1.1,1.1 0 1,0 2.2,0a1.1,1.1 0 1,0 -2.2,0Z"/><path d="M647.10,115.70 L647.83,117.69 L649.95,117.77 L648.29,119.09 L648.86,121.13 L647.10,119.95 L645.34,121.13 L645.91,119.09 L644.25,117.77 L646.37,117.69Z" fill-opacity="0.5"/><path d="M646.00,118.70a1.1,1.1 0 1,0 2.2,0a1.1,1.1 0 1,0 -2.2,0Z"/></g><g fill="#e6202a"><path d="M548.00,29.10 L548.73,31.09 L550.85,31.17 L549.19,32.49 L549.76,34.53 L548.00,33.35 L546.24,34.53 L546.81,32.49 L545.15,31.17 L547.27,31.09Z" fill-opacity="0.5"/><path d="M546.90,32.10a1.1,1.1 0 1,0 2.2,0a1.1,1.1 0 1,0 -2.2,0Z"/><path d="M551.40,34.80 L552.13,36.79 L554.25,36.87 L552.59,38.19 L553.16,40.23 L551.40,39.05 L549.64,40.23 L550.21,38.19 L548.55,36.87 L550.67,36.79Z" fill-opacity="0.5"/><path d="M550.30,37.80a1.1,1.1 0 1,0 2.2,0a1.1,1.1 0 1,0 -2.2,0Z"/><path d="M568.10,41.00 L568.83,42.99 L570.95,43.07 L569.29,44.39 L569.86,46.43 L568.10,45.25 L566.34,46.43 L566.91,44.39 L565.25,43.07 L567.37,42.99Z" fill-opacity="0.5"/><path d="M567.00,44.00a1.1,1.1 0 1,0 2.2,0a1.1,1.1 0 1,0 -2.2,0Z"/><path d="M591.90,61.20 L592.63,63.19 L594.75,63.27 L593.09,64.59 L593.66,66.63 L591.90,65.45 L590.14,66.63 L590.71,64.59 L589.05,63.27 L591.17,63.19Z" fill-opacity="0.5"/><path d="M590.80,64.20a1.1,1.1 0 1,0 2.2,0a1.1,1.1 0 1,0 -2.2,0Z"/><path d="M579.50,66.40 L580.23,68.39 L582.35,68.47 L580.69,69.79 L581.26,71.83 L579.50,70.65 L577.74,71.83 L578.31,69.79 L576.65,68.47 L578.77,68.39Z" fill-opacity="0.5"/><path d="M578.40,69.40a1.1,1.1 0 1,0 2.2,0a1.1,1.1 0 1,0 -2.2,0Z"/><path d="M587.40,71.20 L588.13,73.19 L590.25,73.27 L588.59,74.59 L589.16,76.63 L587.40,75.45 L585.64,76.63 L586.21,74.59 L584.55,73.27 L586.67,73.19Z" fill-opacity="0.5"/><path d="M586.30,74.20a1.1,1.1 0 1,0 2.2,0a1.1,1.1 0 1,0 -2.2,0Z"/><path d="M582.30,72.60 L583.03,74.59 L585.15,74.67 L583.49,75.99 L584.06,78.03 L582.30,76.85 L580.54,78.03 L581.11,75.99 L579.45,74.67 L581.57,74.59Z" fill-opacity="0.5"/><path d="M581.20,75.60a1.1,1.1 0 1,0 2.2,0a1.1,1.1 0 1,0 -2.2,0Z"/><path d="M592.20,74.70 L592.93,76.69 L595.05,76.77 L593.39,78.09 L593.96,80.13 L592.20,78.95 L590.44,80.13 L591.01,78.09 L589.35,76.77 L591.47,76.69Z" fill-opacity="0.5"/><path d="M591.10,77.70a1.1,1.1 0 1,0 2.2,0a1.1,1.1 0 1,0 -2.2,0Z"/><path d="M613.20,73.20 L613.93,75.19 L616.05,75.27 L614.39,76.59 L614.96,78.63 L613.20,77.45 L611.44,78.63 L612.01,76.59 L610.35,75.27 L612.47,75.19Z" fill-opacity="0.5"/><path d="M612.10,76.20a1.1,1.1 0 1,0 2.2,0a1.1,1.1 0 1,0 -2.2,0Z"/><path d="M614.30,76.00 L615.03,77.99 L617.15,78.07 L615.49,79.39 L616.06,81.43 L614.30,80.25 L612.54,81.43 L613.11,79.39 L611.45,78.07 L613.57,77.99Z" fill-opacity="0.5"/><path d="M613.20,79.00a1.1,1.1 0 1,0 2.2,0a1.1,1.1 0 1,0 -2.2,0Z"/><path d="M601.20,76.60 L601.93,78.59 L604.05,78.67 L602.39,79.99 L602.96,82.03 L601.20,80.85 L599.44,82.03 L600.01,79.99 L598.35,78.67 L600.47,78.59Z" fill-opacity="0.5"/><path d="M600.10,79.60a1.1,1.1 0 1,0 2.2,0a1.1,1.1 0 1,0 -2.2,0Z"/><path d="M604.00,77.20 L604.73,79.19 L606.85,79.27 L605.19,80.59 L605.76,82.63 L604.00,81.45 L602.24,82.63 L602.81,80.59 L601.15,79.27 L603.27,79.19Z" fill-opacity="0.5"/><path d="M602.90,80.20a1.1,1.1 0 1,0 2.2,0a1.1,1.1 0 1,0 -2.2,0Z"/><path d="M607.50,79.50 L608.23,81.49 L610.35,81.57 L608.69,82.89 L609.26,84.93 L607.50,83.75 L605.74,84.93 L606.31,82.89 L604.65,81.57 L606.77,81.49Z" fill-opacity="0.5"/><path d="M606.40,82.50a1.1,1.1 0 1,0 2.2,0a1.1,1.1 0 1,0 -2.2,0Z"/><path d="M600.60,82.90 L601.33,84.89 L603.45,84.97 L601.79,86.29 L602.36,88.33 L600.60,87.15 L598.84,88.33 L599.41,86.29 L597.75,84.97 L599.87,84.89Z" fill-opacity="0.5"/><path d="M599.50,85.90a1.1,1.1 0 1,0 2.2,0a1.1,1.1 0 1,0 -2.2,0Z"/><path d="M604.60,84.00 L605.33,85.99 L607.45,86.07 L605.79,87.39 L606.36,89.43 L604.60,88.25 L602.84,89.43 L603.41,87.39 L601.75,86.07 L603.87,85.99Z" fill-opacity="0.5"/><path d="M603.50,87.00a1.1,1.1 0 1,0 2.2,0a1.1,1.1 0 1,0 -2.2,0Z"/><path d="M605.70,85.80 L606.43,87.79 L608.55,87.87 L606.89,89.19 L607.46,91.23 L605.70,90.05 L603.94,91.23 L604.51,89.19 L602.85,87.87 L604.97,87.79Z" fill-opacity="0.5"/><path d="M604.60,88.80a1.1,1.1 0 1,0 2.2,0a1.1,1.1 0 1,0 -2.2,0Z"/><path d="M619.50,82.30 L620.23,84.29 L622.35,84.37 L620.69,85.69 L621.26,87.73 L619.50,86.55 L617.74,87.73 L618.31,85.69 L616.65,84.37 L618.77,84.29Z" fill-opacity="0.5"/><path d="M618.40,85.30a1.1,1.1 0 1,0 2.2,0a1.1,1.1 0 1,0 -2.2,0Z"/><path d="M626.30,81.70 L627.03,83.69 L629.15,83.77 L627.49,85.09 L628.06,87.13 L626.30,85.95 L624.54,87.13 L625.11,85.09 L623.45,83.77 L625.57,83.69Z" fill-opacity="0.5"/><path d="M625.20,84.70a1.1,1.1 0 1,0 2.2,0a1.1,1.1 0 1,0 -2.2,0Z"/><path d="M623.50,87.50 L624.23,89.49 L626.35,89.57 L624.69,90.89 L625.26,92.93 L623.50,91.75 L621.74,92.93 L622.31,90.89 L620.65,89.57 L622.77,89.49Z" fill-opacity="0.5"/><path d="M622.40,90.50a1.1,1.1 0 1,0 2.2,0a1.1,1.1 0 1,0 -2.2,0Z"/><path d="M614.30,88.60 L615.03,90.59 L617.15,90.67 L615.49,91.99 L616.06,94.03 L614.30,92.85 L612.54,94.03 L613.11,91.99 L611.45,90.67 L613.57,90.59Z" fill-opacity="0.5"/><path d="M613.20,91.60a1.1,1.1 0 1,0 2.2,0a1.1,1.1 0 1,0 -2.2,0Z"/><path d="M624.00,89.80 L624.73,91.79 L626.85,91.87 L625.19,93.19 L625.76,95.23 L624.00,94.05 L622.24,95.23 L622.81,93.19 L621.15,91.87 L623.27,91.79Z" fill-opacity="0.5"/><path d="M622.90,92.80a1.1,1.1 0 1,0 2.2,0a1.1,1.1 0 1,0 -2.2,0Z"/><path d="M626.90,90.30 L627.63,92.29 L629.75,92.37 L628.09,93.69 L628.66,95.73 L626.90,94.55 L625.14,95.73 L625.71,93.69 L624.05,92.37 L626.17,92.29Z" fill-opacity="0.5"/><path d="M625.80,93.30a1.1,1.1 0 1,0 2.2,0a1.1,1.1 0 1,0 -2.2,0Z"/><path d="M609.70,92.60 L610.43,94.59 L612.55,94.67 L610.89,95.99 L611.46,98.03 L609.70,96.85 L607.94,98.03 L608.51,95.99 L606.85,94.67 L608.97,94.59Z" fill-opacity="0.5"/><path d="M608.60,95.60a1.1,1.1 0 1,0 2.2,0a1.1,1.1 0 1,0 -2.2,0Z"/><path d="M618.90,96.00 L619.63,97.99 L621.75,98.07 L620.09,99.39 L620.66,101.43 L618.90,100.25 L617.14,101.43 L617.71,99.39 L616.05,98.07 L618.17,97.99Z" fill-opacity="0.5"/><path d="M617.80,99.00a1.1,1.1 0 1,0 2.2,0a1.1,1.1 0 1,0 -2.2,0Z"/><path d="M620.00,98.30 L620.73,100.29 L622.85,100.37 L621.19,101.69 L621.76,103.73 L620.00,102.55 L618.24,103.73 L618.81,101.69 L617.15,100.37 L619.27,100.29Z" fill-opacity="0.5"/><path d="M618.90,101.30a1.1,1.1 0 1,0 2.2,0a1.1,1.1 0 1,0 -2.2,0Z"/><path d="M623.70,86.20 L624.43,88.19 L626.55,88.27 L624.89,89.59 L625.46,91.63 L623.70,90.45 L621.94,91.63 L622.51,89.59 L620.85,88.27 L622.97,88.19Z" fill-opacity="0.5"/><path d="M622.60,89.20a1.1,1.1 0 1,0 2.2,0a1.1,1.1 0 1,0 -2.2,0Z"/><path d="M610.70,89.00 L611.43,90.99 L613.55,91.07 L611.89,92.39 L612.46,94.43 L610.70,93.25 L608.94,94.43 L609.51,92.39 L607.85,91.07 L609.97,90.99Z" fill-opacity="0.5"/><path d="M609.60,92.00a1.1,1.1 0 1,0 2.2,0a1.1,1.1 0 1,0 -2.2,0Z"/><path d="M623.70,89.70 L624.43,91.69 L626.55,91.77 L624.89,93.09 L625.46,95.13 L623.70,93.95 L621.94,95.13 L622.51,93.09 L620.85,91.77 L622.97,91.69Z" fill-opacity="0.5"/><path d="M622.60,92.70a1.1,1.1 0 1,0 2.2,0a1.1,1.1 0 1,0 -2.2,0Z"/><path d="M629.90,88.30 L630.63,90.29 L632.75,90.37 L631.09,91.69 L631.66,93.73 L629.90,92.55 L628.14,93.73 L628.71,91.69 L627.05,90.37 L629.17,90.29Z" fill-opacity="0.5"/><path d="M628.80,91.30a1.1,1.1 0 1,0 2.2,0a1.1,1.1 0 1,0 -2.2,0Z"/><path d="M632.00,91.70 L632.73,93.69 L634.85,93.77 L633.19,95.09 L633.76,97.13 L632.00,95.95 L630.24,97.13 L630.81,95.09 L629.15,93.77 L631.27,93.69Z" fill-opacity="0.5"/><path d="M630.90,94.70a1.1,1.1 0 1,0 2.2,0a1.1,1.1 0 1,0 -2.2,0Z"/><path d="M638.80,93.10 L639.53,95.09 L641.65,95.17 L639.99,96.49 L640.56,98.53 L638.80,97.35 L637.04,98.53 L637.61,96.49 L635.95,95.17 L638.07,95.09Z" fill-opacity="0.5"/><path d="M637.70,96.10a1.1,1.1 0 1,0 2.2,0a1.1,1.1 0 1,0 -2.2,0Z"/><path d="M618.20,95.80 L618.93,97.79 L621.05,97.87 L619.39,99.19 L619.96,101.23 L618.20,100.05 L616.44,101.23 L617.01,99.19 L615.35,97.87 L617.47,97.79Z" fill-opacity="0.5"/><path d="M617.10,98.80a1.1,1.1 0 1,0 2.2,0a1.1,1.1 0 1,0 -2.2,0Z"/><path d="M620.30,98.60 L621.03,100.59 L623.15,100.67 L621.49,101.99 L622.06,104.03 L620.30,102.85 L618.54,104.03 L619.11,101.99 L617.45,100.67 L619.57,100.59Z" fill-opacity="0.5"/><path d="M619.20,101.60a1.1,1.1 0 1,0 2.2,0a1.1,1.1 0 1,0 -2.2,0Z"/><path d="M631.30,96.50 L632.03,98.49 L634.15,98.57 L632.49,99.89 L633.06,101.93 L631.30,100.75 L629.54,101.93 L630.11,99.89 L628.45,98.57 L630.57,98.49Z" fill-opacity="0.5"/><path d="M630.20,99.50a1.1,1.1 0 1,0 2.2,0a1.1,1.1 0 1,0 -2.2,0Z"/><path d="M630.60,102.00 L631.33,103.99 L633.45,104.07 L631.79,105.39 L632.36,107.43 L630.60,106.25 L628.84,107.43 L629.41,105.39 L627.75,104.07 L629.87,103.99Z" fill-opacity="0.5"/><path d="M629.50,105.00a1.1,1.1 0 1,0 2.2,0a1.1,1.1 0 1,0 -2.2,0Z"/><path d="M627.20,104.80 L627.93,106.79 L630.05,106.87 L628.39,108.19 L628.96,110.23 L627.20,109.05 L625.44,110.23 L626.01,108.19 L624.35,106.87 L626.47,106.79Z" fill-opacity="0.5"/><path d="M626.10,107.80a1.1,1.1 0 1,0 2.2,0a1.1,1.1 0 1,0 -2.2,0Z"/><path d="M645.00,103.40 L645.73,105.39 L647.85,105.47 L646.19,106.79 L646.76,108.83 L645.00,107.65 L643.24,108.83 L643.81,106.79 L642.15,105.47 L644.27,105.39Z" fill-opacity="0.5"/><path d="M643.90,106.40a1.1,1.1 0 1,0 2.2,0a1.1,1.1 0 1,0 -2.2,0Z"/><path d="M614.80,104.80 L615.53,106.79 L617.65,106.87 L615.99,108.19 L616.56,110.23 L614.80,109.05 L613.04,110.23 L613.61,108.19 L611.95,106.87 L614.07,106.79Z" fill-opacity="0.5"/><path d="M613.70,107.80a1.1,1.1 0 1,0 2.2,0a1.1,1.1 0 1,0 -2.2,0Z"/><path d="M621.00,108.20 L621.73,110.19 L623.85,110.27 L622.19,111.59 L622.76,113.63 L621.00,112.45 L619.24,113.63 L619.81,111.59 L618.15,110.27 L620.27,110.19Z" fill-opacity="0.5"/><path d="M619.90,111.20a1.1,1.1 0 1,0 2.2,0a1.1,1.1 0 1,0 -2.2,0Z"/><path d="M640.20,106.80 L640.93,108.79 L643.05,108.87 L641.39,110.19 L641.96,112.23 L640.20,111.05 L638.44,112.23 L639.01,110.19 L637.35,108.87 L639.47,108.79Z" fill-opacity="0.5"/><path d="M639.10,109.80a1.1,1.1 0 1,0 2.2,0a1.1,1.1 0 1,0 -2.2,0Z"/><path d="M638.10,110.30 L638.83,112.29 L640.95,112.37 L639.29,113.69 L639.86,115.73 L638.10,114.55 L636.34,115.73 L636.91,113.69 L635.25,112.37 L637.37,112.29Z" fill-opacity="0.5"/><path d="M637.00,113.30a1.1,1.1 0 1,0 2.2,0a1.1,1.1 0 1,0 -2.2,0Z"/><path d="M664.90,124.70 L665.63,126.69 L667.75,126.77 L666.09,128.09 L666.66,130.13 L664.90,128.95 L663.14,130.13 L663.71,128.09 L662.05,126.77 L664.17,126.69Z" fill-opacity="0.5"/><path d="M663.80,127.70a1.1,1.1 0 1,0 2.2,0a1.1,1.1 0 1,0 -2.2,0Z"/></g><text class="tk" transform="translate(524.80,189.80) scale(0.960,1)" text-anchor="middle">-150</text><text class="tk" transform="translate(557.07,189.80) scale(0.960,1)" text-anchor="middle">-100</text><text class="tk" transform="translate(589.33,189.80) scale(0.960,1)" text-anchor="middle">-50</text><text class="tk" transform="translate(621.60,189.80) scale(0.960,1)" text-anchor="middle">0</text><text class="tk" transform="translate(653.87,189.80) scale(0.960,1)" text-anchor="middle">50</text><text class="tk" transform="translate(686.13,189.80) scale(0.960,1)" text-anchor="middle">100</text><text class="tk" transform="translate(718.40,189.80) scale(0.960,1)" text-anchor="middle">150</text><text class="tk" transform="translate(520.50,183.50) scale(0.960,1)" text-anchor="end">-150</text><text class="tk" transform="translate(520.50,154.40) scale(0.960,1)" text-anchor="end">-100</text><text class="tk" transform="translate(520.50,125.30) scale(0.960,1)" text-anchor="end">-50</text><text class="tk" transform="translate(520.50,96.20) scale(0.960,1)" text-anchor="end">0</text><text class="tk" transform="translate(520.50,67.10) scale(0.960,1)" text-anchor="end">50</text><text class="tk" transform="translate(520.50,38.00) scale(0.960,1)" text-anchor="end">100</text><text class="tk" transform="translate(520.50,8.90) scale(0.960,1)" text-anchor="end">150</text><text class="ti" transform="translate(545.92,200.10) scale(0.780,1)">SSE</text><text class="ti" transform="translate(563.55,200.10) scale(1.007,1)">Combined</text><text class="ti" transform="translate(609.12,200.10) scale(0.876,1)">HEEQ</text><text class="ti" transform="translate(634.52,200.10) scale(1.045,1)">Longitude/Deg</text><text class="pl" transform="translate(612.60,213.90) scale(0.930,1)" text-anchor="middle">(c)</text><text class="ti" transform="translate(494.10,164.69) rotate(-90) scale(0.908,1)">HEEQ</text><text class="ti" transform="translate(494.10,138.37) rotate(-90) scale(1.037,1)">Longitudinal</text><text class="ti" transform="translate(494.10,84.89) rotate(-90) scale(1.064,1)">Difference/Deg</text><text class="eq" transform="translate(638.10,25.30) scale(1.070,1)">y=-0.605x-0.032</text><text class="eq" transform="translate(638.10,39.60) scale(1.070,1)">R<tspan class="sup" dy="-4.0">2</tspan><tspan dy="4.0">=0.612</tspan></text><path d="M47.67,398.70V395.10M47.67,224.20V227.80M55.75,398.70V395.10M55.75,224.20V227.80M63.83,398.70V395.10M63.83,224.20V227.80M71.90,398.70V391.50M71.90,224.20V231.40M79.98,398.70V395.10M79.98,224.20V227.80M88.05,398.70V395.10M88.05,224.20V227.80M96.12,398.70V395.10M96.12,224.20V227.80M104.20,398.70V391.50M104.20,224.20V231.40M112.28,398.70V395.10M112.28,224.20V227.80M120.35,398.70V395.10M120.35,224.20V227.80M128.43,398.70V395.10M128.43,224.20V227.80M136.50,398.70V391.50M136.50,224.20V231.40M144.57,398.70V395.10M144.57,224.20V227.80M152.65,398.70V395.10M152.65,224.20V227.80M160.72,398.70V395.10M160.72,224.20V227.80M168.80,398.70V391.50M168.80,224.20V231.40M176.88,398.70V395.10M176.88,224.20V227.80M184.95,398.70V395.10M184.95,224.20V227.80M193.03,398.70V395.10M193.03,224.20V227.80M201.10,398.70V391.50M201.10,224.20V231.40M209.18,398.70V395.10M209.18,224.20V227.80M217.25,398.70V395.10M217.25,224.20V227.80M225.33,398.70V395.10M225.33,224.20V227.80M39.60,391.43H43.20M233.40,391.43H229.80M39.60,384.16H43.20M233.40,384.16H229.80M39.60,376.89H43.20M233.40,376.89H229.80M39.60,369.62H46.80M233.40,369.62H226.20M39.60,362.35H43.20M233.40,362.35H229.80M39.60,355.07H43.20M233.40,355.07H229.80M39.60,347.80H43.20M233.40,347.80H229.80M39.60,340.53H46.80M233.40,340.53H226.20M39.60,333.26H43.20M233.40,333.26H229.80M39.60,325.99H43.20M233.40,325.99H229.80M39.60,318.72H43.20M233.40,318.72H229.80M39.60,311.45H46.80M233.40,311.45H226.20M39.60,304.18H43.20M233.40,304.18H229.80M39.60,296.91H43.20M233.40,296.91H229.80M39.60,289.64H43.20M233.40,289.64H229.80M39.60,282.37H46.80M233.40,282.37H226.20M39.60,275.10H43.20M233.40,275.10H229.80M39.60,267.82H43.20M233.40,267.82H229.80M39.60,260.55H43.20M233.40,260.55H229.80M39.60,253.28H46.80M233.40,253.28H226.20M39.60,246.01H43.20M233.40,246.01H229.80M39.60,238.74H43.20M233.40,238.74H229.80M39.60,231.47H43.20M233.40,231.47H229.80" stroke="#707070" stroke-width="1.0" fill="none"/><rect x="39.60" y="224.20" width="193.80" height="174.50" stroke="#707070" stroke-width="1.0" fill="none"/><line x1="39.60" y1="264.51" x2="233.40" y2="350.88" stroke="#3c3c3c" stroke-width="0.9"/><g fill="#1a8a2c"><path d="M75.40,270.00 L76.13,271.99 L78.25,272.07 L76.59,273.39 L77.16,275.43 L75.40,274.25 L73.64,275.43 L74.21,273.39 L72.55,272.07 L74.67,271.99Z" fill-opacity="0.5"/><path d="M74.30,273.00a1.1,1.1 0 1,0 2.2,0a1.1,1.1 0 1,0 -2.2,0Z"/><path d="M83.60,274.30 L84.33,276.29 L86.45,276.37 L84.79,277.69 L85.36,279.73 L83.60,278.55 L81.84,279.73 L82.41,277.69 L80.75,276.37 L82.87,276.29Z" fill-opacity="0.5"/><path d="M82.50,277.30a1.1,1.1 0 1,0 2.2,0a1.1,1.1 0 1,0 -2.2,0Z"/><path d="M110.80,282.70 L111.53,284.69 L113.65,284.77 L111.99,286.09 L112.56,288.13 L110.80,286.95 L109.04,288.13 L109.61,286.09 L107.95,284.77 L110.07,284.69Z" fill-opacity="0.5"/><path d="M109.70,285.70a1.1,1.1 0 1,0 2.2,0a1.1,1.1 0 1,0 -2.2,0Z"/><path d="M89.80,285.70 L90.53,287.69 L92.65,287.77 L90.99,289.09 L91.56,291.13 L89.80,289.95 L88.04,291.13 L88.61,289.09 L86.95,287.77 L89.07,287.69Z" fill-opacity="0.5"/><path d="M88.70,288.70a1.1,1.1 0 1,0 2.2,0a1.1,1.1 0 1,0 -2.2,0Z"/><path d="M99.10,289.20 L99.83,291.19 L101.95,291.27 L100.29,292.59 L100.86,294.63 L99.10,293.45 L97.34,294.63 L97.91,292.59 L96.25,291.27 L98.37,291.19Z" fill-opacity="0.5"/><path d="M98.00,292.20a1.1,1.1 0 1,0 2.2,0a1.1,1.1 0 1,0 -2.2,0Z"/><path d="M105.30,289.20 L106.03,291.19 L108.15,291.27 L106.49,292.59 L107.06,294.63 L105.30,293.45 L103.54,294.63 L104.11,292.59 L102.45,291.27 L104.57,291.19Z" fill-opacity="0.5"/><path d="M104.20,292.20a1.1,1.1 0 1,0 2.2,0a1.1,1.1 0 1,0 -2.2,0Z"/><path d="M97.80,292.60 L98.53,294.59 L100.65,294.67 L98.99,295.99 L99.56,298.03 L97.80,296.85 L96.04,298.03 L96.61,295.99 L94.95,294.67 L97.07,294.59Z" fill-opacity="0.5"/><path d="M96.70,295.60a1.1,1.1 0 1,0 2.2,0a1.1,1.1 0 1,0 -2.2,0Z"/><path d="M112.20,290.50 L112.93,292.49 L115.05,292.57 L113.39,293.89 L113.96,295.93 L112.20,294.75 L110.44,295.93 L111.01,293.89 L109.35,292.57 L111.47,292.49Z" fill-opacity="0.5"/><path d="M111.10,293.50a1.1,1.1 0 1,0 2.2,0a1.1,1.1 0 1,0 -2.2,0Z"/><path d="M89.50,294.70 L90.23,296.69 L92.35,296.77 L90.69,298.09 L91.26,300.13 L89.50,298.95 L87.74,300.13 L88.31,298.09 L86.65,296.77 L88.77,296.69Z" fill-opacity="0.5"/><path d="M88.40,297.70a1.1,1.1 0 1,0 2.2,0a1.1,1.1 0 1,0 -2.2,0Z"/><path d="M125.00,288.50 L125.73,290.49 L127.85,290.57 L126.19,291.89 L126.76,293.93 L125.00,292.75 L123.24,293.93 L123.81,291.89 L122.15,290.57 L124.27,290.49Z" fill-opacity="0.5"/><path d="M123.90,291.50a1.1,1.1 0 1,0 2.2,0a1.1,1.1 0 1,0 -2.2,0Z"/><path d="M135.30,287.10 L136.03,289.09 L138.15,289.17 L136.49,290.49 L137.06,292.53 L135.30,291.35 L133.54,292.53 L134.11,290.49 L132.45,289.17 L134.57,289.09Z" fill-opacity="0.5"/><path d="M134.20,290.10a1.1,1.1 0 1,0 2.2,0a1.1,1.1 0 1,0 -2.2,0Z"/><path d="M138.00,287.80 L138.73,289.79 L140.85,289.87 L139.19,291.19 L139.76,293.23 L138.00,292.05 L136.24,293.23 L136.81,291.19 L135.15,289.87 L137.27,289.79Z" fill-opacity="0.5"/><path d="M136.90,290.80a1.1,1.1 0 1,0 2.2,0a1.1,1.1 0 1,0 -2.2,0Z"/><path d="M137.40,293.30 L138.13,295.29 L140.25,295.37 L138.59,296.69 L139.16,298.73 L137.40,297.55 L135.64,298.73 L136.21,296.69 L134.55,295.37 L136.67,295.29Z" fill-opacity="0.5"/><path d="M136.30,296.30a1.1,1.1 0 1,0 2.2,0a1.1,1.1 0 1,0 -2.2,0Z"/><path d="M118.80,298.80 L119.53,300.79 L121.65,300.87 L119.99,302.19 L120.56,304.23 L118.80,303.05 L117.04,304.23 L117.61,302.19 L115.95,300.87 L118.07,300.79Z" fill-opacity="0.5"/><path d="M117.70,301.80a1.1,1.1 0 1,0 2.2,0a1.1,1.1 0 1,0 -2.2,0Z"/><path d="M128.40,297.40 L129.13,299.39 L131.25,299.47 L129.59,300.79 L130.16,302.83 L128.40,301.65 L126.64,302.83 L127.21,300.79 L125.55,299.47 L127.67,299.39Z" fill-opacity="0.5"/><path d="M127.30,300.40a1.1,1.1 0 1,0 2.2,0a1.1,1.1 0 1,0 -2.2,0Z"/><path d="M135.30,301.50 L136.03,303.49 L138.15,303.57 L136.49,304.89 L137.06,306.93 L135.30,305.75 L133.54,306.93 L134.11,304.89 L132.45,303.57 L134.57,303.49Z" fill-opacity="0.5"/><path d="M134.20,304.50a1.1,1.1 0 1,0 2.2,0a1.1,1.1 0 1,0 -2.2,0Z"/><path d="M105.80,307.00 L106.53,308.99 L108.65,309.07 L106.99,310.39 L107.56,312.43 L105.80,311.25 L104.04,312.43 L104.61,310.39 L102.95,309.07 L105.07,308.99Z" fill-opacity="0.5"/><path d="M104.70,310.00a1.1,1.1 0 1,0 2.2,0a1.1,1.1 0 1,0 -2.2,0Z"/><path d="M114.00,308.40 L114.73,310.39 L116.85,310.47 L115.19,311.79 L115.76,313.83 L114.00,312.65 L112.24,313.83 L112.81,311.79 L111.15,310.47 L113.27,310.39Z" fill-opacity="0.5"/><path d="M112.90,311.40a1.1,1.1 0 1,0 2.2,0a1.1,1.1 0 1,0 -2.2,0Z"/><path d="M118.80,303.60 L119.53,305.59 L121.65,305.67 L119.99,306.99 L120.56,309.03 L118.80,307.85 L117.04,309.03 L117.61,306.99 L115.95,305.67 L118.07,305.59Z" fill-opacity="0.5"/><path d="M117.70,306.60a1.1,1.1 0 1,0 2.2,0a1.1,1.1 0 1,0 -2.2,0Z"/><path d="M125.70,302.90 L126.43,304.89 L128.55,304.97 L126.89,306.29 L127.46,308.33 L125.70,307.15 L123.94,308.33 L124.51,306.29 L122.85,304.97 L124.97,304.89Z" fill-opacity="0.5"/><path d="M124.60,305.90a1.1,1.1 0 1,0 2.2,0a1.1,1.1 0 1,0 -2.2,0Z"/><path d="M129.10,305.00 L129.83,306.99 L131.95,307.07 L130.29,308.39 L130.86,310.43 L129.10,309.25 L127.34,310.43 L127.91,308.39 L126.25,307.07 L128.37,306.99Z" fill-opacity="0.5"/><path d="M128.00,308.00a1.1,1.1 0 1,0 2.2,0a1.1,1.1 0 1,0 -2.2,0Z"/><path d="M136.70,307.00 L137.43,308.99 L139.55,309.07 L137.89,310.39 L138.46,312.43 L136.70,311.25 L134.94,312.43 L135.51,310.39 L133.85,309.07 L135.97,308.99Z" fill-opacity="0.5"/><path d="M135.60,310.00a1.1,1.1 0 1,0 2.2,0a1.1,1.1 0 1,0 -2.2,0Z"/><path d="M129.10,311.80 L129.83,313.79 L131.95,313.87 L130.29,315.19 L130.86,317.23 L129.10,316.05 L127.34,317.23 L127.91,315.19 L126.25,313.87 L128.37,313.79Z" fill-opacity="0.5"/><path d="M128.00,314.80a1.1,1.1 0 1,0 2.2,0a1.1,1.1 0 1,0 -2.2,0Z"/><path d="M122.30,312.50 L123.03,314.49 L125.15,314.57 L123.49,315.89 L124.06,317.93 L122.30,316.75 L120.54,317.93 L121.11,315.89 L119.45,314.57 L121.57,314.49Z" fill-opacity="0.5"/><path d="M121.20,315.50a1.1,1.1 0 1,0 2.2,0a1.1,1.1 0 1,0 -2.2,0Z"/><path d="M117.50,313.20 L118.23,315.19 L120.35,315.27 L118.69,316.59 L119.26,318.63 L117.50,317.45 L115.74,318.63 L116.31,316.59 L114.65,315.27 L116.77,315.19Z" fill-opacity="0.5"/><path d="M116.40,316.20a1.1,1.1 0 1,0 2.2,0a1.1,1.1 0 1,0 -2.2,0Z"/><path d="M114.00,310.40 L114.73,312.39 L116.85,312.47 L115.19,313.79 L115.76,315.83 L114.00,314.65 L112.24,315.83 L112.81,313.79 L111.15,312.47 L113.27,312.39Z" fill-opacity="0.5"/><path d="M112.90,313.40a1.1,1.1 0 1,0 2.2,0a1.1,1.1 0 1,0 -2.2,0Z"/><path d="M136.70,313.20 L137.43,315.19 L139.55,315.27 L137.89,316.59 L138.46,318.63 L136.70,317.45 L134.94,318.63 L135.51,316.59 L133.85,315.27 L135.97,315.19Z" fill-opacity="0.5"/><path d="M135.60,316.20a1.1,1.1 0 1,0 2.2,0a1.1,1.1 0 1,0 -2.2,0Z"/><path d="M136.70,317.30 L137.43,319.29 L139.55,319.37 L137.89,320.69 L138.46,322.73 L136.70,321.55 L134.94,322.73 L135.51,320.69 L133.85,319.37 L135.97,319.29Z" fill-opacity="0.5"/><path d="M135.60,320.30a1.1,1.1 0 1,0 2.2,0a1.1,1.1 0 1,0 -2.2,0Z"/><path d="M146.30,314.60 L147.03,316.59 L149.15,316.67 L147.49,317.99 L148.06,320.03 L146.30,318.85 L144.54,320.03 L145.11,317.99 L143.45,316.67 L145.57,316.59Z" fill-opacity="0.5"/><path d="M145.20,317.60a1.1,1.1 0 1,0 2.2,0a1.1,1.1 0 1,0 -2.2,0Z"/><path d="M118.80,320.70 L119.53,322.69 L121.65,322.77 L119.99,324.09 L120.56,326.13 L118.80,324.95 L117.04,326.13 L117.61,324.09 L115.95,322.77 L118.07,322.69Z" fill-opacity="0.5"/><path d="M117.70,323.70a1.1,1.1 0 1,0 2.2,0a1.1,1.1 0 1,0 -2.2,0Z"/><path d="M133.30,320.70 L134.03,322.69 L136.15,322.77 L134.49,324.09 L135.06,326.13 L133.30,324.95 L131.54,326.13 L132.11,324.09 L130.45,322.77 L132.57,322.69Z" fill-opacity="0.5"/><path d="M132.20,323.70a1.1,1.1 0 1,0 2.2,0a1.1,1.1 0 1,0 -2.2,0Z"/><path d="M147.70,320.70 L148.43,322.69 L150.55,322.77 L148.89,324.09 L149.46,326.13 L147.70,324.95 L145.94,326.13 L146.51,324.09 L144.85,322.77 L146.97,322.69Z" fill-opacity="0.5"/><path d="M146.60,323.70a1.1,1.1 0 1,0 2.2,0a1.1,1.1 0 1,0 -2.2,0Z"/><path d="M139.80,288.00 L140.53,289.99 L142.65,290.07 L140.99,291.39 L141.56,293.43 L139.80,292.25 L138.04,293.43 L138.61,291.39 L136.95,290.07 L139.07,289.99Z" fill-opacity="0.5"/><path d="M138.70,291.00a1.1,1.1 0 1,0 2.2,0a1.1,1.1 0 1,0 -2.2,0Z"/><path d="M161.10,294.20 L161.83,296.19 L163.95,296.27 L162.29,297.59 L162.86,299.63 L161.10,298.45 L159.34,299.63 L159.91,297.59 L158.25,296.27 L160.37,296.19Z" fill-opacity="0.5"/><path d="M160.00,297.20a1.1,1.1 0 1,0 2.2,0a1.1,1.1 0 1,0 -2.2,0Z"/><path d="M152.80,299.00 L153.53,300.99 L155.65,301.07 L153.99,302.39 L154.56,304.43 L152.80,303.25 L151.04,304.43 L151.61,302.39 L149.95,301.07 L152.07,300.99Z" fill-opacity="0.5"/><path d="M151.70,302.00a1.1,1.1 0 1,0 2.2,0a1.1,1.1 0 1,0 -2.2,0Z"/><path d="M159.70,299.00 L160.43,300.99 L162.55,301.07 L160.89,302.39 L161.46,304.43 L159.70,303.25 L157.94,304.43 L158.51,302.39 L156.85,301.07 L158.97,300.99Z" fill-opacity="0.5"/><path d="M158.60,302.00a1.1,1.1 0 1,0 2.2,0a1.1,1.1 0 1,0 -2.2,0Z"/><path d="M169.30,297.60 L170.03,299.59 L172.15,299.67 L170.49,300.99 L171.06,303.03 L169.30,301.85 L167.54,303.03 L168.11,300.99 L166.45,299.67 L168.57,299.59Z" fill-opacity="0.5"/><path d="M168.20,300.60a1.1,1.1 0 1,0 2.2,0a1.1,1.1 0 1,0 -2.2,0Z"/><path d="M162.50,302.40 L163.23,304.39 L165.35,304.47 L163.69,305.79 L164.26,307.83 L162.50,306.65 L160.74,307.83 L161.31,305.79 L159.65,304.47 L161.77,304.39Z" fill-opacity="0.5"/><path d="M161.40,305.40a1.1,1.1 0 1,0 2.2,0a1.1,1.1 0 1,0 -2.2,0Z"/><path d="M180.30,301.70 L181.03,303.69 L183.15,303.77 L181.49,305.09 L182.06,307.13 L180.30,305.95 L178.54,307.13 L179.11,305.09 L177.45,303.77 L179.57,303.69Z" fill-opacity="0.5"/><path d="M179.20,304.70a1.1,1.1 0 1,0 2.2,0a1.1,1.1 0 1,0 -2.2,0Z"/><path d="M151.50,305.80 L152.23,307.79 L154.35,307.87 L152.69,309.19 L153.26,311.23 L151.50,310.05 L149.74,311.23 L150.31,309.19 L148.65,307.87 L150.77,307.79Z" fill-opacity="0.5"/><path d="M150.40,308.80a1.1,1.1 0 1,0 2.2,0a1.1,1.1 0 1,0 -2.2,0Z"/><path d="M155.60,305.80 L156.33,307.79 L158.45,307.87 L156.79,309.19 L157.36,311.23 L155.60,310.05 L153.84,311.23 L154.41,309.19 L152.75,307.87 L154.87,307.79Z" fill-opacity="0.5"/><path d="M154.50,308.80a1.1,1.1 0 1,0 2.2,0a1.1,1.1 0 1,0 -2.2,0Z"/><path d="M154.90,314.80 L155.63,316.79 L157.75,316.87 L156.09,318.19 L156.66,320.23 L154.90,319.05 L153.14,320.23 L153.71,318.19 L152.05,316.87 L154.17,316.79Z" fill-opacity="0.5"/><path d="M153.80,317.80a1.1,1.1 0 1,0 2.2,0a1.1,1.1 0 1,0 -2.2,0Z"/><path d="M164.50,310.60 L165.23,312.59 L167.35,312.67 L165.69,313.99 L166.26,316.03 L164.50,314.85 L162.74,316.03 L163.31,313.99 L161.65,312.67 L163.77,312.59Z" fill-opacity="0.5"/><path d="M163.40,313.60a1.1,1.1 0 1,0 2.2,0a1.1,1.1 0 1,0 -2.2,0Z"/><path d="M168.00,308.60 L168.73,310.59 L170.85,310.67 L169.19,311.99 L169.76,314.03 L168.00,312.85 L166.24,314.03 L166.81,311.99 L165.15,310.67 L167.27,310.59Z" fill-opacity="0.5"/><path d="M166.90,311.60a1.1,1.1 0 1,0 2.2,0a1.1,1.1 0 1,0 -2.2,0Z"/><path d="M168.60,313.40 L169.33,315.39 L171.45,315.47 L169.79,316.79 L170.36,318.83 L168.60,317.65 L166.84,318.83 L167.41,316.79 L165.75,315.47 L167.87,315.39Z" fill-opacity="0.5"/><path d="M167.50,316.40a1.1,1.1 0 1,0 2.2,0a1.1,1.1 0 1,0 -2.2,0Z"/><path d="M173.40,310.00 L174.13,311.99 L176.25,312.07 L174.59,313.39 L175.16,315.43 L173.40,314.25 L171.64,315.43 L172.21,313.39 L170.55,312.07 L172.67,311.99Z" fill-opacity="0.5"/><path d="M172.30,313.00a1.1,1.1 0 1,0 2.2,0a1.1,1.1 0 1,0 -2.2,0Z"/><path d="M173.40,314.10 L174.13,316.09 L176.25,316.17 L174.59,317.49 L175.16,319.53 L173.40,318.35 L171.64,319.53 L172.21,317.49 L170.55,316.17 L172.67,316.09Z" fill-opacity="0.5"/><path d="M172.30,317.10a1.1,1.1 0 1,0 2.2,0a1.1,1.1 0 1,0 -2.2,0Z"/><path d="M181.70,309.30 L182.43,311.29 L184.55,311.37 L182.89,312.69 L183.46,314.73 L181.70,313.55 L179.94,314.73 L180.51,312.69 L178.85,311.37 L180.97,311.29Z" fill-opacity="0.5"/><path d="M180.60,312.30a1.1,1.1 0 1,0 2.2,0a1.1,1.1 0 1,0 -2.2,0Z"/><path d="M185.10,310.60 L185.83,312.59 L187.95,312.67 L186.29,313.99 L186.86,316.03 L185.10,314.85 L183.34,316.03 L183.91,313.99 L182.25,312.67 L184.37,312.59Z" fill-opacity="0.5"/><path d="M184.00,313.60a1.1,1.1 0 1,0 2.2,0a1.1,1.1 0 1,0 -2.2,0Z"/><path d="M177.60,321.60 L178.33,323.59 L180.45,323.67 L178.79,324.99 L179.36,327.03 L177.60,325.85 L175.84,327.03 L176.41,324.99 L174.75,323.67 L176.87,323.59Z" fill-opacity="0.5"/><path d="M176.50,324.60a1.1,1.1 0 1,0 2.2,0a1.1,1.1 0 1,0 -2.2,0Z"/><path d="M154.50,322.00 L155.23,323.99 L157.35,324.07 L155.69,325.39 L156.26,327.43 L154.50,326.25 L152.74,327.43 L153.31,325.39 L151.65,324.07 L153.77,323.99Z" fill-opacity="0.5"/><path d="M153.40,325.00a1.1,1.1 0 1,0 2.2,0a1.1,1.1 0 1,0 -2.2,0Z"/><path d="M159.00,320.90 L159.73,322.89 L161.85,322.97 L160.19,324.29 L160.76,326.33 L159.00,325.15 L157.24,326.33 L157.81,324.29 L156.15,322.97 L158.27,322.89Z" fill-opacity="0.5"/><path d="M157.90,323.90a1.1,1.1 0 1,0 2.2,0a1.1,1.1 0 1,0 -2.2,0Z"/><path d="M163.80,325.70 L164.53,327.69 L166.65,327.77 L164.99,329.09 L165.56,331.13 L163.80,329.95 L162.04,331.13 L162.61,329.09 L160.95,327.77 L163.07,327.69Z" fill-opacity="0.5"/><path d="M162.70,328.70a1.1,1.1 0 1,0 2.2,0a1.1,1.1 0 1,0 -2.2,0Z"/><path d="M172.10,325.10 L172.83,327.09 L174.95,327.17 L173.29,328.49 L173.86,330.53 L172.10,329.35 L170.34,330.53 L170.91,328.49 L169.25,327.17 L171.37,327.09Z" fill-opacity="0.5"/><path d="M171.00,328.10a1.1,1.1 0 1,0 2.2,0a1.1,1.1 0 1,0 -2.2,0Z"/><path d="M170.70,330.50 L171.43,332.49 L173.55,332.57 L171.89,333.89 L172.46,335.93 L170.70,334.75 L168.94,335.93 L169.51,333.89 L167.85,332.57 L169.97,332.49Z" fill-opacity="0.5"/><path d="M169.60,333.50a1.1,1.1 0 1,0 2.2,0a1.1,1.1 0 1,0 -2.2,0Z"/><path d="M191.30,324.40 L192.03,326.39 L194.15,326.47 L192.49,327.79 L193.06,329.83 L191.30,328.65 L189.54,329.83 L190.11,327.79 L188.45,326.47 L190.57,326.39Z" fill-opacity="0.5"/><path d="M190.20,327.40a1.1,1.1 0 1,0 2.2,0a1.1,1.1 0 1,0 -2.2,0Z"/><path d="M185.10,329.20 L185.83,331.19 L187.95,331.27 L186.29,332.59 L186.86,334.63 L185.10,333.45 L183.34,334.63 L183.91,332.59 L182.25,331.27 L184.37,331.19Z" fill-opacity="0.5"/><path d="M184.00,332.20a1.1,1.1 0 1,0 2.2,0a1.1,1.1 0 1,0 -2.2,0Z"/><path d="M199.40,331.40 L200.13,333.39 L202.25,333.47 L200.59,334.79 L201.16,336.83 L199.40,335.65 L197.64,336.83 L198.21,334.79 L196.55,333.47 L198.67,333.39Z" fill-opacity="0.5"/><path d="M198.30,334.40a1.1,1.1 0 1,0 2.2,0a1.1,1.1 0 1,0 -2.2,0Z"/><path d="M163.00,338.30 L163.73,340.29 L165.85,340.37 L164.19,341.69 L164.76,343.73 L163.00,342.55 L161.24,343.73 L161.81,341.69 L160.15,340.37 L162.27,340.29Z" fill-opacity="0.5"/><path d="M161.90,341.30a1.1,1.1 0 1,0 2.2,0a1.1,1.1 0 1,0 -2.2,0Z"/><path d="M169.20,341.70 L169.93,343.69 L172.05,343.77 L170.39,345.09 L170.96,347.13 L169.20,345.95 L167.44,347.13 L168.01,345.09 L166.35,343.77 L168.47,343.69Z" fill-opacity="0.5"/><path d="M168.10,344.70a1.1,1.1 0 1,0 2.2,0a1.1,1.1 0 1,0 -2.2,0Z"/><path d="M188.40,344.50 L189.13,346.49 L191.25,346.57 L189.59,347.89 L190.16,349.93 L188.40,348.75 L186.64,349.93 L187.21,347.89 L185.55,346.57 L187.67,346.49Z" fill-opacity="0.5"/><path d="M187.30,347.50a1.1,1.1 0 1,0 2.2,0a1.1,1.1 0 1,0 -2.2,0Z"/><path d="M188.40,354.10 L189.13,356.09 L191.25,356.17 L189.59,357.49 L190.16,359.53 L188.40,358.35 L186.64,359.53 L187.21,357.49 L185.55,356.17 L187.67,356.09Z" fill-opacity="0.5"/><path d="M187.30,357.10a1.1,1.1 0 1,0 2.2,0a1.1,1.1 0 1,0 -2.2,0Z"/></g><g fill="#e6202a"><path d="M94.60,250.70 L95.33,252.69 L97.45,252.77 L95.79,254.09 L96.36,256.13 L94.60,254.95 L92.84,256.13 L93.41,254.09 L91.75,252.77 L93.87,252.69Z" fill-opacity="0.5"/><path d="M93.50,253.70a1.1,1.1 0 1,0 2.2,0a1.1,1.1 0 1,0 -2.2,0Z"/><path d="M89.80,262.40 L90.53,264.39 L92.65,264.47 L90.99,265.79 L91.56,267.83 L89.80,266.65 L88.04,267.83 L88.61,265.79 L86.95,264.47 L89.07,264.39Z" fill-opacity="0.5"/><path d="M88.70,265.40a1.1,1.1 0 1,0 2.2,0a1.1,1.1 0 1,0 -2.2,0Z"/><path d="M93.00,271.60 L93.73,273.59 L95.85,273.67 L94.19,274.99 L94.76,277.03 L93.00,275.85 L91.24,277.03 L91.81,274.99 L90.15,273.67 L92.27,273.59Z" fill-opacity="0.5"/><path d="M91.90,274.60a1.1,1.1 0 1,0 2.2,0a1.1,1.1 0 1,0 -2.2,0Z"/><path d="M104.20,280.90 L104.93,282.89 L107.05,282.97 L105.39,284.29 L105.96,286.33 L104.20,285.15 L102.44,286.33 L103.01,284.29 L101.35,282.97 L103.47,282.89Z" fill-opacity="0.5"/><path d="M103.10,283.90a1.1,1.1 0 1,0 2.2,0a1.1,1.1 0 1,0 -2.2,0Z"/><path d="M117.00,290.50 L117.73,292.49 L119.85,292.57 L118.19,293.89 L118.76,295.93 L117.00,294.75 L115.24,295.93 L115.81,293.89 L114.15,292.57 L116.27,292.49Z" fill-opacity="0.5"/><path d="M115.90,293.50a1.1,1.1 0 1,0 2.2,0a1.1,1.1 0 1,0 -2.2,0Z"/><path d="M117.00,294.70 L117.73,296.69 L119.85,296.77 L118.19,298.09 L118.76,300.13 L117.00,298.95 L115.24,300.13 L115.81,298.09 L114.15,296.77 L116.27,296.69Z" fill-opacity="0.5"/><path d="M115.90,297.70a1.1,1.1 0 1,0 2.2,0a1.1,1.1 0 1,0 -2.2,0Z"/><path d="M127.10,287.10 L127.83,289.09 L129.95,289.17 L128.29,290.49 L128.86,292.53 L127.10,291.35 L125.34,292.53 L125.91,290.49 L124.25,289.17 L126.37,289.09Z" fill-opacity="0.5"/><path d="M126.00,290.10a1.1,1.1 0 1,0 2.2,0a1.1,1.1 0 1,0 -2.2,0Z"/><path d="M129.80,294.70 L130.53,296.69 L132.65,296.77 L130.99,298.09 L131.56,300.13 L129.80,298.95 L128.04,300.13 L128.61,298.09 L126.95,296.77 L129.07,296.69Z" fill-opacity="0.5"/><path d="M128.70,297.70a1.1,1.1 0 1,0 2.2,0a1.1,1.1 0 1,0 -2.2,0Z"/><path d="M135.30,292.60 L136.03,294.59 L138.15,294.67 L136.49,295.99 L137.06,298.03 L135.30,296.85 L133.54,298.03 L134.11,295.99 L132.45,294.67 L134.57,294.59Z" fill-opacity="0.5"/><path d="M134.20,295.60a1.1,1.1 0 1,0 2.2,0a1.1,1.1 0 1,0 -2.2,0Z"/><path d="M141.50,298.10 L142.23,300.09 L144.35,300.17 L142.69,301.49 L143.26,303.53 L141.50,302.35 L139.74,303.53 L140.31,301.49 L138.65,300.17 L140.77,300.09Z" fill-opacity="0.5"/><path d="M140.40,301.10a1.1,1.1 0 1,0 2.2,0a1.1,1.1 0 1,0 -2.2,0Z"/><path d="M147.70,296.00 L148.43,297.99 L150.55,298.07 L148.89,299.39 L149.46,301.43 L147.70,300.25 L145.94,301.43 L146.51,299.39 L144.85,298.07 L146.97,297.99Z" fill-opacity="0.5"/><path d="M146.60,299.00a1.1,1.1 0 1,0 2.2,0a1.1,1.1 0 1,0 -2.2,0Z"/><path d="M147.70,297.40 L148.43,299.39 L150.55,299.47 L148.89,300.79 L149.46,302.83 L147.70,301.65 L145.94,302.83 L146.51,300.79 L144.85,299.47 L146.97,299.39Z" fill-opacity="0.5"/><path d="M146.60,300.40a1.1,1.1 0 1,0 2.2,0a1.1,1.1 0 1,0 -2.2,0Z"/><path d="M126.40,299.50 L127.13,301.49 L129.25,301.57 L127.59,302.89 L128.16,304.93 L126.40,303.75 L124.64,304.93 L125.21,302.89 L123.55,301.57 L125.67,301.49Z" fill-opacity="0.5"/><path d="M125.30,302.50a1.1,1.1 0 1,0 2.2,0a1.1,1.1 0 1,0 -2.2,0Z"/><path d="M138.00,300.10 L138.73,302.09 L140.85,302.17 L139.19,303.49 L139.76,305.53 L138.00,304.35 L136.24,305.53 L136.81,303.49 L135.15,302.17 L137.27,302.09Z" fill-opacity="0.5"/><path d="M136.90,303.10a1.1,1.1 0 1,0 2.2,0a1.1,1.1 0 1,0 -2.2,0Z"/><path d="M96.20,305.00 L96.93,306.99 L99.05,307.07 L97.39,308.39 L97.96,310.43 L96.20,309.25 L94.44,310.43 L95.01,308.39 L93.35,307.07 L95.47,306.99Z" fill-opacity="0.5"/><path d="M95.10,308.00a1.1,1.1 0 1,0 2.2,0a1.1,1.1 0 1,0 -2.2,0Z"/><path d="M122.30,305.60 L123.03,307.59 L125.15,307.67 L123.49,308.99 L124.06,311.03 L122.30,309.85 L120.54,311.03 L121.11,308.99 L119.45,307.67 L121.57,307.59Z" fill-opacity="0.5"/><path d="M121.20,308.60a1.1,1.1 0 1,0 2.2,0a1.1,1.1 0 1,0 -2.2,0Z"/><path d="M131.90,308.40 L132.63,310.39 L134.75,310.47 L133.09,311.79 L133.66,313.83 L131.90,312.65 L130.14,313.83 L130.71,311.79 L129.05,310.47 L131.17,310.39Z" fill-opacity="0.5"/><path d="M130.80,311.40a1.1,1.1 0 1,0 2.2,0a1.1,1.1 0 1,0 -2.2,0Z"/><path d="M147.70,305.60 L148.43,307.59 L150.55,307.67 L148.89,308.99 L149.46,311.03 L147.70,309.85 L145.94,311.03 L146.51,308.99 L144.85,307.67 L146.97,307.59Z" fill-opacity="0.5"/><path d="M146.60,308.60a1.1,1.1 0 1,0 2.2,0a1.1,1.1 0 1,0 -2.2,0Z"/><path d="M149.00,307.00 L149.73,308.99 L151.85,309.07 L150.19,310.39 L150.76,312.43 L149.00,311.25 L147.24,312.43 L147.81,310.39 L146.15,309.07 L148.27,308.99Z" fill-opacity="0.5"/><path d="M147.90,310.00a1.1,1.1 0 1,0 2.2,0a1.1,1.1 0 1,0 -2.2,0Z"/><path d="M125.70,311.10 L126.43,313.09 L128.55,313.17 L126.89,314.49 L127.46,316.53 L125.70,315.35 L123.94,316.53 L124.51,314.49 L122.85,313.17 L124.97,313.09Z" fill-opacity="0.5"/><path d="M124.60,314.10a1.1,1.1 0 1,0 2.2,0a1.1,1.1 0 1,0 -2.2,0Z"/><path d="M114.00,313.20 L114.73,315.19 L116.85,315.27 L115.19,316.59 L115.76,318.63 L114.00,317.45 L112.24,318.63 L112.81,316.59 L111.15,315.27 L113.27,315.19Z" fill-opacity="0.5"/><path d="M112.90,316.20a1.1,1.1 0 1,0 2.2,0a1.1,1.1 0 1,0 -2.2,0Z"/><path d="M140.80,311.80 L141.53,313.79 L143.65,313.87 L141.99,315.19 L142.56,317.23 L140.80,316.05 L139.04,317.23 L139.61,315.19 L137.95,313.87 L140.07,313.79Z" fill-opacity="0.5"/><path d="M139.70,314.80a1.1,1.1 0 1,0 2.2,0a1.1,1.1 0 1,0 -2.2,0Z"/><path d="M146.30,311.80 L147.03,313.79 L149.15,313.87 L147.49,315.19 L148.06,317.23 L146.30,316.05 L144.54,317.23 L145.11,315.19 L143.45,313.87 L145.57,313.79Z" fill-opacity="0.5"/><path d="M145.20,314.80a1.1,1.1 0 1,0 2.2,0a1.1,1.1 0 1,0 -2.2,0Z"/><path d="M155.60,292.80 L156.33,294.79 L158.45,294.87 L156.79,296.19 L157.36,298.23 L155.60,297.05 L153.84,298.23 L154.41,296.19 L152.75,294.87 L154.87,294.79Z" fill-opacity="0.5"/><path d="M154.50,295.80a1.1,1.1 0 1,0 2.2,0a1.1,1.1 0 1,0 -2.2,0Z"/><path d="M165.90,299.00 L166.63,300.99 L168.75,301.07 L167.09,302.39 L167.66,304.43 L165.90,303.25 L164.14,304.43 L164.71,302.39 L163.05,301.07 L165.17,300.99Z" fill-opacity="0.5"/><path d="M164.80,302.00a1.1,1.1 0 1,0 2.2,0a1.1,1.1 0 1,0 -2.2,0Z"/><path d="M154.20,301.70 L154.93,303.69 L157.05,303.77 L155.39,305.09 L155.96,307.13 L154.20,305.95 L152.44,307.13 L153.01,305.09 L151.35,303.77 L153.47,303.69Z" fill-opacity="0.5"/><path d="M153.10,304.70a1.1,1.1 0 1,0 2.2,0a1.1,1.1 0 1,0 -2.2,0Z"/><path d="M157.00,303.80 L157.73,305.79 L159.85,305.87 L158.19,307.19 L158.76,309.23 L157.00,308.05 L155.24,309.23 L155.81,307.19 L154.15,305.87 L156.27,305.79Z" fill-opacity="0.5"/><path d="M155.90,306.80a1.1,1.1 0 1,0 2.2,0a1.1,1.1 0 1,0 -2.2,0Z"/><path d="M167.30,305.10 L168.03,307.09 L170.15,307.17 L168.49,308.49 L169.06,310.53 L167.30,309.35 L165.54,310.53 L166.11,308.49 L164.45,307.17 L166.57,307.09Z" fill-opacity="0.5"/><path d="M166.20,308.10a1.1,1.1 0 1,0 2.2,0a1.1,1.1 0 1,0 -2.2,0Z"/><path d="M176.90,303.80 L177.63,305.79 L179.75,305.87 L178.09,307.19 L178.66,309.23 L176.90,308.05 L175.14,309.23 L175.71,307.19 L174.05,305.87 L176.17,305.79Z" fill-opacity="0.5"/><path d="M175.80,306.80a1.1,1.1 0 1,0 2.2,0a1.1,1.1 0 1,0 -2.2,0Z"/><path d="M182.40,303.80 L183.13,305.79 L185.25,305.87 L183.59,307.19 L184.16,309.23 L182.40,308.05 L180.64,309.23 L181.21,307.19 L179.55,305.87 L181.67,305.79Z" fill-opacity="0.5"/><path d="M181.30,306.80a1.1,1.1 0 1,0 2.2,0a1.1,1.1 0 1,0 -2.2,0Z"/><path d="M151.50,314.10 L152.23,316.09 L154.35,316.17 L152.69,317.49 L153.26,319.53 L151.50,318.35 L149.74,319.53 L150.31,317.49 L148.65,316.17 L150.77,316.09Z" fill-opacity="0.5"/><path d="M150.40,317.10a1.1,1.1 0 1,0 2.2,0a1.1,1.1 0 1,0 -2.2,0Z"/><path d="M157.70,310.00 L158.43,311.99 L160.55,312.07 L158.89,313.39 L159.46,315.43 L157.70,314.25 L155.94,315.43 L156.51,313.39 L154.85,312.07 L156.97,311.99Z" fill-opacity="0.5"/><path d="M156.60,313.00a1.1,1.1 0 1,0 2.2,0a1.1,1.1 0 1,0 -2.2,0Z"/><path d="M161.10,312.00 L161.83,313.99 L163.95,314.07 L162.29,315.39 L162.86,317.43 L161.10,316.25 L159.34,317.43 L159.91,315.39 L158.25,314.07 L160.37,313.99Z" fill-opacity="0.5"/><path d="M160.00,315.00a1.1,1.1 0 1,0 2.2,0a1.1,1.1 0 1,0 -2.2,0Z"/><path d="M178.30,314.10 L179.03,316.09 L181.15,316.17 L179.49,317.49 L180.06,319.53 L178.30,318.35 L176.54,319.53 L177.11,317.49 L175.45,316.17 L177.57,316.09Z" fill-opacity="0.5"/><path d="M177.20,317.10a1.1,1.1 0 1,0 2.2,0a1.1,1.1 0 1,0 -2.2,0Z"/><path d="M176.90,318.20 L177.63,320.19 L179.75,320.27 L178.09,321.59 L178.66,323.63 L176.90,322.45 L175.14,323.63 L175.71,321.59 L174.05,320.27 L176.17,320.19Z" fill-opacity="0.5"/><path d="M175.80,321.20a1.1,1.1 0 1,0 2.2,0a1.1,1.1 0 1,0 -2.2,0Z"/><path d="M167.30,320.90 L168.03,322.89 L170.15,322.97 L168.49,324.29 L169.06,326.33 L167.30,325.15 L165.54,326.33 L166.11,324.29 L164.45,322.97 L166.57,322.89Z" fill-opacity="0.5"/><path d="M166.20,323.90a1.1,1.1 0 1,0 2.2,0a1.1,1.1 0 1,0 -2.2,0Z"/><path d="M174.10,327.80 L174.83,329.79 L176.95,329.87 L175.29,331.19 L175.86,333.23 L174.10,332.05 L172.34,333.23 L172.91,331.19 L171.25,329.87 L173.37,329.79Z" fill-opacity="0.5"/><path d="M173.00,330.80a1.1,1.1 0 1,0 2.2,0a1.1,1.1 0 1,0 -2.2,0Z"/><path d="M178.90,326.40 L179.63,328.39 L181.75,328.47 L180.09,329.79 L180.66,331.83 L178.90,330.65 L177.14,331.83 L177.71,329.79 L176.05,328.47 L178.17,328.39Z" fill-opacity="0.5"/><path d="M177.80,329.40a1.1,1.1 0 1,0 2.2,0a1.1,1.1 0 1,0 -2.2,0Z"/><path d="M183.10,324.40 L183.83,326.39 L185.95,326.47 L184.29,327.79 L184.86,329.83 L183.10,328.65 L181.34,329.83 L181.91,327.79 L180.25,326.47 L182.37,326.39Z" fill-opacity="0.5"/><path d="M182.00,327.40a1.1,1.1 0 1,0 2.2,0a1.1,1.1 0 1,0 -2.2,0Z"/><path d="M167.30,330.50 L168.03,332.49 L170.15,332.57 L168.49,333.89 L169.06,335.93 L167.30,334.75 L165.54,335.93 L166.11,333.89 L164.45,332.57 L166.57,332.49Z" fill-opacity="0.5"/><path d="M166.20,333.50a1.1,1.1 0 1,0 2.2,0a1.1,1.1 0 1,0 -2.2,0Z"/><path d="M192.70,329.20 L193.43,331.19 L195.55,331.27 L193.89,332.59 L194.46,334.63 L192.70,333.45 L190.94,334.63 L191.51,332.59 L189.85,331.27 L191.97,331.19Z" fill-opacity="0.5"/><path d="M191.60,332.20a1.1,1.1 0 1,0 2.2,0a1.1,1.1 0 1,0 -2.2,0Z"/><path d="M152.70,343.80 L153.43,345.79 L155.55,345.87 L153.89,347.19 L154.46,349.23 L152.70,348.05 L150.94,349.23 L151.51,347.19 L149.85,345.87 L151.97,345.79Z" fill-opacity="0.5"/><path d="M151.60,346.80a1.1,1.1 0 1,0 2.2,0a1.1,1.1 0 1,0 -2.2,0Z"/><path d="M162.40,345.80 L163.13,347.79 L165.25,347.87 L163.59,349.19 L164.16,351.23 L162.40,350.05 L160.64,351.23 L161.21,349.19 L159.55,347.87 L161.67,347.79Z" fill-opacity="0.5"/><path d="M161.30,348.80a1.1,1.1 0 1,0 2.2,0a1.1,1.1 0 1,0 -2.2,0Z"/><path d="M196.70,350.00 L197.43,351.99 L199.55,352.07 L197.89,353.39 L198.46,355.43 L196.70,354.25 L194.94,355.43 L195.51,353.39 L193.85,352.07 L195.97,351.99Z" fill-opacity="0.5"/><path d="M195.60,353.00a1.1,1.1 0 1,0 2.2,0a1.1,1.1 0 1,0 -2.2,0Z"/><path d="M185.00,369.20 L185.73,371.19 L187.85,371.27 L186.19,372.59 L186.76,374.63 L185.00,373.45 L183.24,374.63 L183.81,372.59 L182.15,371.27 L184.27,371.19Z" fill-opacity="0.5"/><path d="M183.90,372.20a1.1,1.1 0 1,0 2.2,0a1.1,1.1 0 1,0 -2.2,0Z"/><path d="M191.20,373.30 L191.93,375.29 L194.05,375.37 L192.39,376.69 L192.96,378.73 L191.20,377.55 L189.44,378.73 L190.01,376.69 L188.35,375.37 L190.47,375.29Z" fill-opacity="0.5"/><path d="M190.10,376.30a1.1,1.1 0 1,0 2.2,0a1.1,1.1 0 1,0 -2.2,0Z"/><path d="M138.10,338.30 L138.83,340.29 L140.95,340.37 L139.29,341.69 L139.86,343.73 L138.10,342.55 L136.34,343.73 L136.91,341.69 L135.25,340.37 L137.37,340.29Z" fill-opacity="0.5"/><path d="M137.00,341.30a1.1,1.1 0 1,0 2.2,0a1.1,1.1 0 1,0 -2.2,0Z"/></g><text class="tk" transform="translate(39.60,408.80) scale(0.960,1)" text-anchor="middle">-60</text><text class="tk" transform="translate(71.90,408.80) scale(0.960,1)" text-anchor="middle">-40</text><text class="tk" transform="translate(104.20,408.80) scale(0.960,1)" text-anchor="middle">-20</text><text class="tk" transform="translate(136.50,408.80) scale(0.960,1)" text-anchor="middle">0</text><text class="tk" transform="translate(168.80,408.80) scale(0.960,1)" text-anchor="middle">20</text><text class="tk" transform="translate(201.10,408.80) scale(0.960,1)" text-anchor="middle">40</text><text class="tk" transform="translate(233.40,408.80) scale(0.960,1)" text-anchor="middle">60</text><text class="tk" transform="translate(35.20,401.80) scale(0.960,1)" text-anchor="end">-60</text><text class="tk" transform="translate(35.20,372.72) scale(0.960,1)" text-anchor="end">-40</text><text class="tk" transform="translate(35.20,343.63) scale(0.960,1)" text-anchor="end">-20</text><text class="tk" transform="translate(35.20,314.55) scale(0.960,1)" text-anchor="end">0</text><text class="tk" transform="translate(35.20,285.47) scale(0.960,1)" text-anchor="end">20</text><text class="tk" transform="translate(35.20,256.38) scale(0.960,1)" text-anchor="end">40</text><text class="tk" transform="translate(35.20,227.30) scale(0.960,1)" text-anchor="end">60</text><text class="ti" transform="translate(67.92,418.70) scale(0.763,1)">SSE</text><text class="ti" transform="translate(85.32,418.70) scale(0.876,1)">HEEQ</text><text class="ti" transform="translate(111.05,418.70) scale(1.003,1)">Latitude</text><text class="ti" transform="translate(147.35,418.70) scale(1.051,1)">from</text><text class="ti" transform="translate(169.45,418.70) scale(0.994,1)">STA/Deg</text><text class="pl" transform="translate(127.50,432.20) scale(0.930,1)" text-anchor="middle">(d)</text><text class="ti" transform="translate(14.10,377.91) rotate(-90) scale(0.936,1)">HEEQ</text><text class="ti" transform="translate(14.10,351.72) rotate(-90) scale(0.948,1)">Latitudinal</text><text class="ti" transform="translate(14.10,310.00) rotate(-90) scale(1.087,1)">Difference/Deg</text><text class="eq" transform="translate(152.90,243.70) scale(1.070,1)">y=-0.495x+2.582</text><text class="eq" transform="translate(152.90,258.00) scale(1.070,1)">R<tspan class="sup" dy="-4.0">2</tspan><tspan dy="4.0">=0.455</tspan></text><path d="M290.29,398.70V395.10M290.29,224.20V227.80M298.38,398.70V395.10M298.38,224.20V227.80M306.46,398.70V395.10M306.46,224.20V227.80M314.55,398.70V391.50M314.55,224.20V231.40M322.64,398.70V395.10M322.64,224.20V227.80M330.73,398.70V395.10M330.73,224.20V227.80M338.81,398.70V395.10M338.81,224.20V227.80M346.90,398.70V391.50M346.90,224.20V231.40M354.99,398.70V395.10M354.99,224.20V227.80M363.07,398.70V395.10M363.07,224.20V227.80M371.16,398.70V395.10M371.16,224.20V227.80M379.25,398.70V391.50M379.25,224.20V231.40M387.34,398.70V395.10M387.34,224.20V227.80M395.43,398.70V395.10M395.43,224.20V227.80M403.51,398.70V395.10M403.51,224.20V227.80M411.60,398.70V391.50M411.60,224.20V231.40M419.69,398.70V395.10M419.69,224.20V227.80M427.77,398.70V395.10M427.77,224.20V227.80M435.86,398.70V395.10M435.86,224.20V227.80M443.95,398.70V391.50M443.95,224.20V231.40M452.04,398.70V395.10M452.04,224.20V227.80M460.12,398.70V395.10M460.12,224.20V227.80M468.21,398.70V395.10M468.21,224.20V227.80M282.20,391.43H285.80M476.30,391.43H472.70M282.20,384.16H285.80M476.30,384.16H472.70M282.20,376.89H285.80M476.30,376.89H472.70M282.20,369.62H289.40M476.30,369.62H469.10M282.20,362.35H285.80M476.30,362.35H472.70M282.20,355.07H285.80M476.30,355.07H472.70M282.20,347.80H285.80M476.30,347.80H472.70M282.20,340.53H289.40M476.30,340.53H469.10M282.20,333.26H285.80M476.30,333.26H472.70M282.20,325.99H285.80M476.30,325.99H472.70M282.20,318.72H285.80M476.30,318.72H472.70M282.20,311.45H289.40M476.30,311.45H469.10M282.20,304.18H285.80M476.30,304.18H472.70M282.20,296.91H285.80M476.30,296.91H472.70M282.20,289.64H285.80M476.30,289.64H472.70M282.20,282.37H289.40M476.30,282.37H469.10M282.20,275.10H285.80M476.30,275.10H472.70M282.20,267.82H285.80M476.30,267.82H472.70M282.20,260.55H285.80M476.30,260.55H472.70M282.20,253.28H289.40M476.30,253.28H469.10M282.20,246.01H285.80M476.30,246.01H472.70M282.20,238.74H285.80M476.30,238.74H472.70M282.20,231.47H285.80M476.30,231.47H472.70" stroke="#707070" stroke-width="1.0" fill="none"/><rect x="282.20" y="224.20" width="194.10" height="174.50" stroke="#707070" stroke-width="1.0" fill="none"/><line x1="282.20" y1="268.13" x2="476.30" y2="351.19" stroke="#3c3c3c" stroke-width="0.9"/><g fill="#1a8a2c"><path d="M338.70,266.20 L339.43,268.19 L341.55,268.27 L339.89,269.59 L340.46,271.63 L338.70,270.45 L336.94,271.63 L337.51,269.59 L335.85,268.27 L337.97,268.19Z" fill-opacity="0.5"/><path d="M337.60,269.20a1.1,1.1 0 1,0 2.2,0a1.1,1.1 0 1,0 -2.2,0Z"/><path d="M331.90,287.50 L332.63,289.49 L334.75,289.57 L333.09,290.89 L333.66,292.93 L331.90,291.75 L330.14,292.93 L330.71,290.89 L329.05,289.57 L331.17,289.49Z" fill-opacity="0.5"/><path d="M330.80,290.50a1.1,1.1 0 1,0 2.2,0a1.1,1.1 0 1,0 -2.2,0Z"/><path d="M340.10,287.20 L340.83,289.19 L342.95,289.27 L341.29,290.59 L341.86,292.63 L340.10,291.45 L338.34,292.63 L338.91,290.59 L337.25,289.27 L339.37,289.19Z" fill-opacity="0.5"/><path d="M339.00,290.20a1.1,1.1 0 1,0 2.2,0a1.1,1.1 0 1,0 -2.2,0Z"/><path d="M338.70,291.60 L339.43,293.59 L341.55,293.67 L339.89,294.99 L340.46,297.03 L338.70,295.85 L336.94,297.03 L337.51,294.99 L335.85,293.67 L337.97,293.59Z" fill-opacity="0.5"/><path d="M337.60,294.60a1.1,1.1 0 1,0 2.2,0a1.1,1.1 0 1,0 -2.2,0Z"/><path d="M346.00,291.60 L346.73,293.59 L348.85,293.67 L347.19,294.99 L347.76,297.03 L346.00,295.85 L344.24,297.03 L344.81,294.99 L343.15,293.67 L345.27,293.59Z" fill-opacity="0.5"/><path d="M344.90,294.60a1.1,1.1 0 1,0 2.2,0a1.1,1.1 0 1,0 -2.2,0Z"/><path d="M348.30,290.90 L349.03,292.89 L351.15,292.97 L349.49,294.29 L350.06,296.33 L348.30,295.15 L346.54,296.33 L347.11,294.29 L345.45,292.97 L347.57,292.89Z" fill-opacity="0.5"/><path d="M347.20,293.90a1.1,1.1 0 1,0 2.2,0a1.1,1.1 0 1,0 -2.2,0Z"/><path d="M347.00,296.40 L347.73,298.39 L349.85,298.47 L348.19,299.79 L348.76,301.83 L347.00,300.65 L345.24,301.83 L345.81,299.79 L344.15,298.47 L346.27,298.39Z" fill-opacity="0.5"/><path d="M345.90,299.40a1.1,1.1 0 1,0 2.2,0a1.1,1.1 0 1,0 -2.2,0Z"/><path d="M341.20,301.90 L341.93,303.89 L344.05,303.97 L342.39,305.29 L342.96,307.33 L341.20,306.15 L339.44,307.33 L340.01,305.29 L338.35,303.97 L340.47,303.89Z" fill-opacity="0.5"/><path d="M340.10,304.90a1.1,1.1 0 1,0 2.2,0a1.1,1.1 0 1,0 -2.2,0Z"/><path d="M339.80,302.60 L340.53,304.59 L342.65,304.67 L340.99,305.99 L341.56,308.03 L339.80,306.85 L338.04,308.03 L338.61,305.99 L336.95,304.67 L339.07,304.59Z" fill-opacity="0.5"/><path d="M338.70,305.60a1.1,1.1 0 1,0 2.2,0a1.1,1.1 0 1,0 -2.2,0Z"/><path d="M346.70,301.90 L347.43,303.89 L349.55,303.97 L347.89,305.29 L348.46,307.33 L346.70,306.15 L344.94,307.33 L345.51,305.29 L343.85,303.97 L345.97,303.89Z" fill-opacity="0.5"/><path d="M345.60,304.90a1.1,1.1 0 1,0 2.2,0a1.1,1.1 0 1,0 -2.2,0Z"/><path d="M352.90,304.70 L353.63,306.69 L355.75,306.77 L354.09,308.09 L354.66,310.13 L352.90,308.95 L351.14,310.13 L351.71,308.09 L350.05,306.77 L352.17,306.69Z" fill-opacity="0.5"/><path d="M351.80,307.70a1.1,1.1 0 1,0 2.2,0a1.1,1.1 0 1,0 -2.2,0Z"/><path d="M355.60,299.90 L356.33,301.89 L358.45,301.97 L356.79,303.29 L357.36,305.33 L355.60,304.15 L353.84,305.33 L354.41,303.29 L352.75,301.97 L354.87,301.89Z" fill-opacity="0.5"/><path d="M354.50,302.90a1.1,1.1 0 1,0 2.2,0a1.1,1.1 0 1,0 -2.2,0Z"/><path d="M362.70,284.60 L363.43,286.59 L365.55,286.67 L363.89,287.99 L364.46,290.03 L362.70,288.85 L360.94,290.03 L361.51,287.99 L359.85,286.67 L361.97,286.59Z" fill-opacity="0.5"/><path d="M361.60,287.60a1.1,1.1 0 1,0 2.2,0a1.1,1.1 0 1,0 -2.2,0Z"/><path d="M367.70,283.80 L368.43,285.79 L370.55,285.87 L368.89,287.19 L369.46,289.23 L367.70,288.05 L365.94,289.23 L366.51,287.19 L364.85,285.87 L366.97,285.79Z" fill-opacity="0.5"/><path d="M366.60,286.80a1.1,1.1 0 1,0 2.2,0a1.1,1.1 0 1,0 -2.2,0Z"/><path d="M369.50,295.10 L370.23,297.09 L372.35,297.17 L370.69,298.49 L371.26,300.53 L369.50,299.35 L367.74,300.53 L368.31,298.49 L366.65,297.17 L368.77,297.09Z" fill-opacity="0.5"/><path d="M368.40,298.10a1.1,1.1 0 1,0 2.2,0a1.1,1.1 0 1,0 -2.2,0Z"/><path d="M375.00,289.70 L375.73,291.69 L377.85,291.77 L376.19,293.09 L376.76,295.13 L375.00,293.95 L373.24,295.13 L373.81,293.09 L372.15,291.77 L374.27,291.69Z" fill-opacity="0.5"/><path d="M373.90,292.70a1.1,1.1 0 1,0 2.2,0a1.1,1.1 0 1,0 -2.2,0Z"/><path d="M379.10,289.70 L379.83,291.69 L381.95,291.77 L380.29,293.09 L380.86,295.13 L379.10,293.95 L377.34,295.13 L377.91,293.09 L376.25,291.77 L378.37,291.69Z" fill-opacity="0.5"/><path d="M378.00,292.70a1.1,1.1 0 1,0 2.2,0a1.1,1.1 0 1,0 -2.2,0Z"/><path d="M383.90,295.80 L384.63,297.79 L386.75,297.87 L385.09,299.19 L385.66,301.23 L383.90,300.05 L382.14,301.23 L382.71,299.19 L381.05,297.87 L383.17,297.79Z" fill-opacity="0.5"/><path d="M382.80,298.80a1.1,1.1 0 1,0 2.2,0a1.1,1.1 0 1,0 -2.2,0Z"/><path d="M379.10,296.50 L379.83,298.49 L381.95,298.57 L380.29,299.89 L380.86,301.93 L379.10,300.75 L377.34,301.93 L377.91,299.89 L376.25,298.57 L378.37,298.49Z" fill-opacity="0.5"/><path d="M378.00,299.50a1.1,1.1 0 1,0 2.2,0a1.1,1.1 0 1,0 -2.2,0Z"/><path d="M370.90,299.30 L371.63,301.29 L373.75,301.37 L372.09,302.69 L372.66,304.73 L370.90,303.55 L369.14,304.73 L369.71,302.69 L368.05,301.37 L370.17,301.29Z" fill-opacity="0.5"/><path d="M369.80,302.30a1.1,1.1 0 1,0 2.2,0a1.1,1.1 0 1,0 -2.2,0Z"/><path d="M375.00,298.60 L375.73,300.59 L377.85,300.67 L376.19,301.99 L376.76,304.03 L375.00,302.85 L373.24,304.03 L373.81,301.99 L372.15,300.67 L374.27,300.59Z" fill-opacity="0.5"/><path d="M373.90,301.60a1.1,1.1 0 1,0 2.2,0a1.1,1.1 0 1,0 -2.2,0Z"/><path d="M391.50,299.30 L392.23,301.29 L394.35,301.37 L392.69,302.69 L393.26,304.73 L391.50,303.55 L389.74,304.73 L390.31,302.69 L388.65,301.37 L390.77,301.29Z" fill-opacity="0.5"/><path d="M390.40,302.30a1.1,1.1 0 1,0 2.2,0a1.1,1.1 0 1,0 -2.2,0Z"/><path d="M366.10,303.40 L366.83,305.39 L368.95,305.47 L367.29,306.79 L367.86,308.83 L366.10,307.65 L364.34,308.83 L364.91,306.79 L363.25,305.47 L365.37,305.39Z" fill-opacity="0.5"/><path d="M365.00,306.40a1.1,1.1 0 1,0 2.2,0a1.1,1.1 0 1,0 -2.2,0Z"/><path d="M376.40,306.10 L377.13,308.09 L379.25,308.17 L377.59,309.49 L378.16,311.53 L376.40,310.35 L374.64,311.53 L375.21,309.49 L373.55,308.17 L375.67,308.09Z" fill-opacity="0.5"/><path d="M375.30,309.10a1.1,1.1 0 1,0 2.2,0a1.1,1.1 0 1,0 -2.2,0Z"/><path d="M369.50,307.50 L370.23,309.49 L372.35,309.57 L370.69,310.89 L371.26,312.93 L369.50,311.75 L367.74,312.93 L368.31,310.89 L366.65,309.57 L368.77,309.49Z" fill-opacity="0.5"/><path d="M368.40,310.50a1.1,1.1 0 1,0 2.2,0a1.1,1.1 0 1,0 -2.2,0Z"/><path d="M373.60,309.60 L374.33,311.59 L376.45,311.67 L374.79,312.99 L375.36,315.03 L373.60,313.85 L371.84,315.03 L372.41,312.99 L370.75,311.67 L372.87,311.59Z" fill-opacity="0.5"/><path d="M372.50,312.60a1.1,1.1 0 1,0 2.2,0a1.1,1.1 0 1,0 -2.2,0Z"/><path d="M377.80,308.90 L378.53,310.89 L380.65,310.97 L378.99,312.29 L379.56,314.33 L377.80,313.15 L376.04,314.33 L376.61,312.29 L374.95,310.97 L377.07,310.89Z" fill-opacity="0.5"/><path d="M376.70,311.90a1.1,1.1 0 1,0 2.2,0a1.1,1.1 0 1,0 -2.2,0Z"/><path d="M374.30,314.40 L375.03,316.39 L377.15,316.47 L375.49,317.79 L376.06,319.83 L374.30,318.65 L372.54,319.83 L373.11,317.79 L371.45,316.47 L373.57,316.39Z" fill-opacity="0.5"/><path d="M373.20,317.40a1.1,1.1 0 1,0 2.2,0a1.1,1.1 0 1,0 -2.2,0Z"/><path d="M383.90,315.10 L384.63,317.09 L386.75,317.17 L385.09,318.49 L385.66,320.53 L383.90,319.35 L382.14,320.53 L382.71,318.49 L381.05,317.17 L383.17,317.09Z" fill-opacity="0.5"/><path d="M382.80,318.10a1.1,1.1 0 1,0 2.2,0a1.1,1.1 0 1,0 -2.2,0Z"/><path d="M392.20,314.40 L392.93,316.39 L395.05,316.47 L393.39,317.79 L393.96,319.83 L392.20,318.65 L390.44,319.83 L391.01,317.79 L389.35,316.47 L391.47,316.39Z" fill-opacity="0.5"/><path d="M391.10,317.40a1.1,1.1 0 1,0 2.2,0a1.1,1.1 0 1,0 -2.2,0Z"/><path d="M397.00,305.40 L397.73,307.39 L399.85,307.47 L398.19,308.79 L398.76,310.83 L397.00,309.65 L395.24,310.83 L395.81,308.79 L394.15,307.47 L396.27,307.39Z" fill-opacity="0.5"/><path d="M395.90,308.40a1.1,1.1 0 1,0 2.2,0a1.1,1.1 0 1,0 -2.2,0Z"/><path d="M368.10,317.80 L368.83,319.79 L370.95,319.87 L369.29,321.19 L369.86,323.23 L368.10,322.05 L366.34,323.23 L366.91,321.19 L365.25,319.87 L367.37,319.79Z" fill-opacity="0.5"/><path d="M367.00,320.80a1.1,1.1 0 1,0 2.2,0a1.1,1.1 0 1,0 -2.2,0Z"/><path d="M370.90,318.90 L371.63,320.89 L373.75,320.97 L372.09,322.29 L372.66,324.33 L370.90,323.15 L369.14,324.33 L369.71,322.29 L368.05,320.97 L370.17,320.89Z" fill-opacity="0.5"/><path d="M369.80,321.90a1.1,1.1 0 1,0 2.2,0a1.1,1.1 0 1,0 -2.2,0Z"/><path d="M362.70,321.90 L363.43,323.89 L365.55,323.97 L363.89,325.29 L364.46,327.33 L362.70,326.15 L360.94,327.33 L361.51,325.29 L359.85,323.97 L361.97,323.89Z" fill-opacity="0.5"/><path d="M361.60,324.90a1.1,1.1 0 1,0 2.2,0a1.1,1.1 0 1,0 -2.2,0Z"/><path d="M388.70,319.90 L389.43,321.89 L391.55,321.97 L389.89,323.29 L390.46,325.33 L388.70,324.15 L386.94,325.33 L387.51,323.29 L385.85,321.97 L387.97,321.89Z" fill-opacity="0.5"/><path d="M387.60,322.90a1.1,1.1 0 1,0 2.2,0a1.1,1.1 0 1,0 -2.2,0Z"/><path d="M388.70,323.30 L389.43,325.29 L391.55,325.37 L389.89,326.69 L390.46,328.73 L388.70,327.55 L386.94,328.73 L387.51,326.69 L385.85,325.37 L387.97,325.29Z" fill-opacity="0.5"/><path d="M387.60,326.30a1.1,1.1 0 1,0 2.2,0a1.1,1.1 0 1,0 -2.2,0Z"/><path d="M394.90,319.90 L395.63,321.89 L397.75,321.97 L396.09,323.29 L396.66,325.33 L394.90,324.15 L393.14,325.33 L393.71,323.29 L392.05,321.97 L394.17,321.89Z" fill-opacity="0.5"/><path d="M393.80,322.90a1.1,1.1 0 1,0 2.2,0a1.1,1.1 0 1,0 -2.2,0Z"/><path d="M396.30,322.60 L397.03,324.59 L399.15,324.67 L397.49,325.99 L398.06,328.03 L396.30,326.85 L394.54,328.03 L395.11,325.99 L393.45,324.67 L395.57,324.59Z" fill-opacity="0.5"/><path d="M395.20,325.60a1.1,1.1 0 1,0 2.2,0a1.1,1.1 0 1,0 -2.2,0Z"/><path d="M381.90,326.00 L382.63,327.99 L384.75,328.07 L383.09,329.39 L383.66,331.43 L381.90,330.25 L380.14,331.43 L380.71,329.39 L379.05,328.07 L381.17,327.99Z" fill-opacity="0.5"/><path d="M380.80,329.00a1.1,1.1 0 1,0 2.2,0a1.1,1.1 0 1,0 -2.2,0Z"/><path d="M388.40,299.80 L389.13,301.79 L391.25,301.87 L389.59,303.19 L390.16,305.23 L388.40,304.05 L386.64,305.23 L387.21,303.19 L385.55,301.87 L387.67,301.79Z" fill-opacity="0.5"/><path d="M387.30,302.80a1.1,1.1 0 1,0 2.2,0a1.1,1.1 0 1,0 -2.2,0Z"/><path d="M412.50,299.20 L413.23,301.19 L415.35,301.27 L413.69,302.59 L414.26,304.63 L412.50,303.45 L410.74,304.63 L411.31,302.59 L409.65,301.27 L411.77,301.19Z" fill-opacity="0.5"/><path d="M411.40,302.20a1.1,1.1 0 1,0 2.2,0a1.1,1.1 0 1,0 -2.2,0Z"/><path d="M424.10,303.30 L424.83,305.29 L426.95,305.37 L425.29,306.69 L425.86,308.73 L424.10,307.55 L422.34,308.73 L422.91,306.69 L421.25,305.37 L423.37,305.29Z" fill-opacity="0.5"/><path d="M423.00,306.30a1.1,1.1 0 1,0 2.2,0a1.1,1.1 0 1,0 -2.2,0Z"/><path d="M401.50,306.00 L402.23,307.99 L404.35,308.07 L402.69,309.39 L403.26,311.43 L401.50,310.25 L399.74,311.43 L400.31,309.39 L398.65,308.07 L400.77,307.99Z" fill-opacity="0.5"/><path d="M400.40,309.00a1.1,1.1 0 1,0 2.2,0a1.1,1.1 0 1,0 -2.2,0Z"/><path d="M404.90,304.70 L405.63,306.69 L407.75,306.77 L406.09,308.09 L406.66,310.13 L404.90,308.95 L403.14,310.13 L403.71,308.09 L402.05,306.77 L404.17,306.69Z" fill-opacity="0.5"/><path d="M403.80,307.70a1.1,1.1 0 1,0 2.2,0a1.1,1.1 0 1,0 -2.2,0Z"/><path d="M409.70,315.00 L410.43,316.99 L412.55,317.07 L410.89,318.39 L411.46,320.43 L409.70,319.25 L407.94,320.43 L408.51,318.39 L406.85,317.07 L408.97,316.99Z" fill-opacity="0.5"/><path d="M408.60,318.00a1.1,1.1 0 1,0 2.2,0a1.1,1.1 0 1,0 -2.2,0Z"/><path d="M415.90,311.50 L416.63,313.49 L418.75,313.57 L417.09,314.89 L417.66,316.93 L415.90,315.75 L414.14,316.93 L414.71,314.89 L413.05,313.57 L415.17,313.49Z" fill-opacity="0.5"/><path d="M414.80,314.50a1.1,1.1 0 1,0 2.2,0a1.1,1.1 0 1,0 -2.2,0Z"/><path d="M418.60,314.30 L419.33,316.29 L421.45,316.37 L419.79,317.69 L420.36,319.73 L418.60,318.55 L416.84,319.73 L417.41,317.69 L415.75,316.37 L417.87,316.29Z" fill-opacity="0.5"/><path d="M417.50,317.30a1.1,1.1 0 1,0 2.2,0a1.1,1.1 0 1,0 -2.2,0Z"/><path d="M410.40,317.00 L411.13,318.99 L413.25,319.07 L411.59,320.39 L412.16,322.43 L410.40,321.25 L408.64,322.43 L409.21,320.39 L407.55,319.07 L409.67,318.99Z" fill-opacity="0.5"/><path d="M409.30,320.00a1.1,1.1 0 1,0 2.2,0a1.1,1.1 0 1,0 -2.2,0Z"/><path d="M422.10,317.70 L422.83,319.69 L424.95,319.77 L423.29,321.09 L423.86,323.13 L422.10,321.95 L420.34,323.13 L420.91,321.09 L419.25,319.77 L421.37,319.69Z" fill-opacity="0.5"/><path d="M421.00,320.70a1.1,1.1 0 1,0 2.2,0a1.1,1.1 0 1,0 -2.2,0Z"/><path d="M433.70,317.70 L434.43,319.69 L436.55,319.77 L434.89,321.09 L435.46,323.13 L433.70,321.95 L431.94,323.13 L432.51,321.09 L430.85,319.77 L432.97,319.69Z" fill-opacity="0.5"/><path d="M432.60,320.70a1.1,1.1 0 1,0 2.2,0a1.1,1.1 0 1,0 -2.2,0Z"/><path d="M403.50,328.00 L404.23,329.99 L406.35,330.07 L404.69,331.39 L405.26,333.43 L403.50,332.25 L401.74,333.43 L402.31,331.39 L400.65,330.07 L402.77,329.99Z" fill-opacity="0.5"/><path d="M402.40,331.00a1.1,1.1 0 1,0 2.2,0a1.1,1.1 0 1,0 -2.2,0Z"/><path d="M427.60,329.40 L428.33,331.39 L430.45,331.47 L428.79,332.79 L429.36,334.83 L427.60,333.65 L425.84,334.83 L426.41,332.79 L424.75,331.47 L426.87,331.39Z" fill-opacity="0.5"/><path d="M426.50,332.40a1.1,1.1 0 1,0 2.2,0a1.1,1.1 0 1,0 -2.2,0Z"/><path d="M436.50,326.60 L437.23,328.59 L439.35,328.67 L437.69,329.99 L438.26,332.03 L436.50,330.85 L434.74,332.03 L435.31,329.99 L433.65,328.67 L435.77,328.59Z" fill-opacity="0.5"/><path d="M435.40,329.60a1.1,1.1 0 1,0 2.2,0a1.1,1.1 0 1,0 -2.2,0Z"/><path d="M411.80,329.40 L412.53,331.39 L414.65,331.47 L412.99,332.79 L413.56,334.83 L411.80,333.65 L410.04,334.83 L410.61,332.79 L408.95,331.47 L411.07,331.39Z" fill-opacity="0.5"/><path d="M410.70,332.40a1.1,1.1 0 1,0 2.2,0a1.1,1.1 0 1,0 -2.2,0Z"/><path d="M412.50,333.50 L413.23,335.49 L415.35,335.57 L413.69,336.89 L414.26,338.93 L412.50,337.75 L410.74,338.93 L411.31,336.89 L409.65,335.57 L411.77,335.49Z" fill-opacity="0.5"/><path d="M411.40,336.50a1.1,1.1 0 1,0 2.2,0a1.1,1.1 0 1,0 -2.2,0Z"/><path d="M409.00,334.90 L409.73,336.89 L411.85,336.97 L410.19,338.29 L410.76,340.33 L409.00,339.15 L407.24,340.33 L407.81,338.29 L406.15,336.97 L408.27,336.89Z" fill-opacity="0.5"/><path d="M407.90,337.90a1.1,1.1 0 1,0 2.2,0a1.1,1.1 0 1,0 -2.2,0Z"/><path d="M401.50,333.50 L402.23,335.49 L404.35,335.57 L402.69,336.89 L403.26,338.93 L401.50,337.75 L399.74,338.93 L400.31,336.89 L398.65,335.57 L400.77,335.49Z" fill-opacity="0.5"/><path d="M400.40,336.50a1.1,1.1 0 1,0 2.2,0a1.1,1.1 0 1,0 -2.2,0Z"/><path d="M404.90,336.20 L405.63,338.19 L407.75,338.27 L406.09,339.59 L406.66,341.63 L404.90,340.45 L403.14,341.63 L403.71,339.59 L402.05,338.27 L404.17,338.19Z" fill-opacity="0.5"/><path d="M403.80,339.20a1.1,1.1 0 1,0 2.2,0a1.1,1.1 0 1,0 -2.2,0Z"/><path d="M404.90,339.00 L405.63,340.99 L407.75,341.07 L406.09,342.39 L406.66,344.43 L404.90,343.25 L403.14,344.43 L403.71,342.39 L402.05,341.07 L404.17,340.99Z" fill-opacity="0.5"/><path d="M403.80,342.00a1.1,1.1 0 1,0 2.2,0a1.1,1.1 0 1,0 -2.2,0Z"/><path d="M437.20,332.80 L437.93,334.79 L440.05,334.87 L438.39,336.19 L438.96,338.23 L437.20,337.05 L435.44,338.23 L436.01,336.19 L434.35,334.87 L436.47,334.79Z" fill-opacity="0.5"/><path d="M436.10,335.80a1.1,1.1 0 1,0 2.2,0a1.1,1.1 0 1,0 -2.2,0Z"/><path d="M425.50,340.40 L426.23,342.39 L428.35,342.47 L426.69,343.79 L427.26,345.83 L425.50,344.65 L423.74,345.83 L424.31,343.79 L422.65,342.47 L424.77,342.39Z" fill-opacity="0.5"/><path d="M424.40,343.40a1.1,1.1 0 1,0 2.2,0a1.1,1.1 0 1,0 -2.2,0Z"/><path d="M382.10,326.80 L382.83,328.79 L384.95,328.87 L383.29,330.19 L383.86,332.23 L382.10,331.05 L380.34,332.23 L380.91,330.19 L379.25,328.87 L381.37,328.79Z" fill-opacity="0.5"/><path d="M381.00,329.80a1.1,1.1 0 1,0 2.2,0a1.1,1.1 0 1,0 -2.2,0Z"/><path d="M384.10,332.30 L384.83,334.29 L386.95,334.37 L385.29,335.69 L385.86,337.73 L384.10,336.55 L382.34,337.73 L382.91,335.69 L381.25,334.37 L383.37,334.29Z" fill-opacity="0.5"/><path d="M383.00,335.30a1.1,1.1 0 1,0 2.2,0a1.1,1.1 0 1,0 -2.2,0Z"/><path d="M390.30,328.20 L391.03,330.19 L393.15,330.27 L391.49,331.59 L392.06,333.63 L390.30,332.45 L388.54,333.63 L389.11,331.59 L387.45,330.27 L389.57,330.19Z" fill-opacity="0.5"/><path d="M389.20,331.20a1.1,1.1 0 1,0 2.2,0a1.1,1.1 0 1,0 -2.2,0Z"/><path d="M395.80,323.10 L396.53,325.09 L398.65,325.17 L396.99,326.49 L397.56,328.53 L395.80,327.35 L394.04,328.53 L394.61,326.49 L392.95,325.17 L395.07,325.09Z" fill-opacity="0.5"/><path d="M394.70,326.10a1.1,1.1 0 1,0 2.2,0a1.1,1.1 0 1,0 -2.2,0Z"/><path d="M427.40,330.20 L428.13,332.19 L430.25,332.27 L428.59,333.59 L429.16,335.63 L427.40,334.45 L425.64,335.63 L426.21,333.59 L424.55,332.27 L426.67,332.19Z" fill-opacity="0.5"/><path d="M426.30,333.20a1.1,1.1 0 1,0 2.2,0a1.1,1.1 0 1,0 -2.2,0Z"/><path d="M435.60,350.80 L436.33,352.79 L438.45,352.87 L436.79,354.19 L437.36,356.23 L435.60,355.05 L433.84,356.23 L434.41,354.19 L432.75,352.87 L434.87,352.79Z" fill-opacity="0.5"/><path d="M434.50,353.80a1.1,1.1 0 1,0 2.2,0a1.1,1.1 0 1,0 -2.2,0Z"/></g><g fill="#e6202a"><path d="M330.50,267.60 L331.23,269.59 L333.35,269.67 L331.69,270.99 L332.26,273.03 L330.50,271.85 L328.74,273.03 L329.31,270.99 L327.65,269.67 L329.77,269.59Z" fill-opacity="0.5"/><path d="M329.40,270.60a1.1,1.1 0 1,0 2.2,0a1.1,1.1 0 1,0 -2.2,0Z"/><path d="M332.50,267.60 L333.23,269.59 L335.35,269.67 L333.69,270.99 L334.26,273.03 L332.50,271.85 L330.74,273.03 L331.31,270.99 L329.65,269.67 L331.77,269.59Z" fill-opacity="0.5"/><path d="M331.40,270.60a1.1,1.1 0 1,0 2.2,0a1.1,1.1 0 1,0 -2.2,0Z"/><path d="M345.00,274.20 L345.73,276.19 L347.85,276.27 L346.19,277.59 L346.76,279.63 L345.00,278.45 L343.24,279.63 L343.81,277.59 L342.15,276.27 L344.27,276.19Z" fill-opacity="0.5"/><path d="M343.90,277.20a1.1,1.1 0 1,0 2.2,0a1.1,1.1 0 1,0 -2.2,0Z"/><path d="M330.50,297.50 L331.23,299.49 L333.35,299.57 L331.69,300.89 L332.26,302.93 L330.50,301.75 L328.74,302.93 L329.31,300.89 L327.65,299.57 L329.77,299.49Z" fill-opacity="0.5"/><path d="M329.40,300.50a1.1,1.1 0 1,0 2.2,0a1.1,1.1 0 1,0 -2.2,0Z"/><path d="M338.70,297.80 L339.43,299.79 L341.55,299.87 L339.89,301.19 L340.46,303.23 L338.70,302.05 L336.94,303.23 L337.51,301.19 L335.85,299.87 L337.97,299.79Z" fill-opacity="0.5"/><path d="M337.60,300.80a1.1,1.1 0 1,0 2.2,0a1.1,1.1 0 1,0 -2.2,0Z"/><path d="M359.00,295.10 L359.73,297.09 L361.85,297.17 L360.19,298.49 L360.76,300.53 L359.00,299.35 L357.24,300.53 L357.81,298.49 L356.15,297.17 L358.27,297.09Z" fill-opacity="0.5"/><path d="M357.90,298.10a1.1,1.1 0 1,0 2.2,0a1.1,1.1 0 1,0 -2.2,0Z"/><path d="M362.70,273.90 L363.43,275.89 L365.55,275.97 L363.89,277.29 L364.46,279.33 L362.70,278.15 L360.94,279.33 L361.51,277.29 L359.85,275.97 L361.97,275.89Z" fill-opacity="0.5"/><path d="M361.60,276.90a1.1,1.1 0 1,0 2.2,0a1.1,1.1 0 1,0 -2.2,0Z"/><path d="M388.10,286.20 L388.83,288.19 L390.95,288.27 L389.29,289.59 L389.86,291.63 L388.10,290.45 L386.34,291.63 L386.91,289.59 L385.25,288.27 L387.37,288.19Z" fill-opacity="0.5"/><path d="M387.00,289.20a1.1,1.1 0 1,0 2.2,0a1.1,1.1 0 1,0 -2.2,0Z"/><path d="M392.20,287.60 L392.93,289.59 L395.05,289.67 L393.39,290.99 L393.96,293.03 L392.20,291.85 L390.44,293.03 L391.01,290.99 L389.35,289.67 L391.47,289.59Z" fill-opacity="0.5"/><path d="M391.10,290.60a1.1,1.1 0 1,0 2.2,0a1.1,1.1 0 1,0 -2.2,0Z"/><path d="M390.50,295.10 L391.23,297.09 L393.35,297.17 L391.69,298.49 L392.26,300.53 L390.50,299.35 L388.74,300.53 L389.31,298.49 L387.65,297.17 L389.77,297.09Z" fill-opacity="0.5"/><path d="M389.40,298.10a1.1,1.1 0 1,0 2.2,0a1.1,1.1 0 1,0 -2.2,0Z"/><path d="M387.40,296.50 L388.13,298.49 L390.25,298.57 L388.59,299.89 L389.16,301.93 L387.40,300.75 L385.64,301.93 L386.21,299.89 L384.55,298.57 L386.67,298.49Z" fill-opacity="0.5"/><path d="M386.30,299.50a1.1,1.1 0 1,0 2.2,0a1.1,1.1 0 1,0 -2.2,0Z"/><path d="M381.90,299.30 L382.63,301.29 L384.75,301.37 L383.09,302.69 L383.66,304.73 L381.90,303.55 L380.14,304.73 L380.71,302.69 L379.05,301.37 L381.17,301.29Z" fill-opacity="0.5"/><path d="M380.80,302.30a1.1,1.1 0 1,0 2.2,0a1.1,1.1 0 1,0 -2.2,0Z"/><path d="M383.30,302.00 L384.03,303.99 L386.15,304.07 L384.49,305.39 L385.06,307.43 L383.30,306.25 L381.54,307.43 L382.11,305.39 L380.45,304.07 L382.57,303.99Z" fill-opacity="0.5"/><path d="M382.20,305.00a1.1,1.1 0 1,0 2.2,0a1.1,1.1 0 1,0 -2.2,0Z"/><path d="M375.70,303.40 L376.43,305.39 L378.55,305.47 L376.89,306.79 L377.46,308.83 L375.70,307.65 L373.94,308.83 L374.51,306.79 L372.85,305.47 L374.97,305.39Z" fill-opacity="0.5"/><path d="M374.60,306.40a1.1,1.1 0 1,0 2.2,0a1.1,1.1 0 1,0 -2.2,0Z"/><path d="M370.90,305.40 L371.63,307.39 L373.75,307.47 L372.09,308.79 L372.66,310.83 L370.90,309.65 L369.14,310.83 L369.71,308.79 L368.05,307.47 L370.17,307.39Z" fill-opacity="0.5"/><path d="M369.80,308.40a1.1,1.1 0 1,0 2.2,0a1.1,1.1 0 1,0 -2.2,0Z"/><path d="M383.90,304.80 L384.63,306.79 L386.75,306.87 L385.09,308.19 L385.66,310.23 L383.90,309.05 L382.14,310.23 L382.71,308.19 L381.05,306.87 L383.17,306.79Z" fill-opacity="0.5"/><path d="M382.80,307.80a1.1,1.1 0 1,0 2.2,0a1.1,1.1 0 1,0 -2.2,0Z"/><path d="M368.80,310.90 L369.53,312.89 L371.65,312.97 L369.99,314.29 L370.56,316.33 L368.80,315.15 L367.04,316.33 L367.61,314.29 L365.95,312.97 L368.07,312.89Z" fill-opacity="0.5"/><path d="M367.70,313.90a1.1,1.1 0 1,0 2.2,0a1.1,1.1 0 1,0 -2.2,0Z"/><path d="M387.40,308.20 L388.13,310.19 L390.25,310.27 L388.59,311.59 L389.16,313.63 L387.40,312.45 L385.64,313.63 L386.21,311.59 L384.55,310.27 L386.67,310.19Z" fill-opacity="0.5"/><path d="M386.30,311.20a1.1,1.1 0 1,0 2.2,0a1.1,1.1 0 1,0 -2.2,0Z"/><path d="M383.90,312.30 L384.63,314.29 L386.75,314.37 L385.09,315.69 L385.66,317.73 L383.90,316.55 L382.14,317.73 L382.71,315.69 L381.05,314.37 L383.17,314.29Z" fill-opacity="0.5"/><path d="M382.80,315.30a1.1,1.1 0 1,0 2.2,0a1.1,1.1 0 1,0 -2.2,0Z"/><path d="M394.20,308.20 L394.93,310.19 L397.05,310.27 L395.39,311.59 L395.96,313.63 L394.20,312.45 L392.44,313.63 L393.01,311.59 L391.35,310.27 L393.47,310.19Z" fill-opacity="0.5"/><path d="M393.10,311.20a1.1,1.1 0 1,0 2.2,0a1.1,1.1 0 1,0 -2.2,0Z"/><path d="M395.60,310.90 L396.33,312.89 L398.45,312.97 L396.79,314.29 L397.36,316.33 L395.60,315.15 L393.84,316.33 L394.41,314.29 L392.75,312.97 L394.87,312.89Z" fill-opacity="0.5"/><path d="M394.50,313.90a1.1,1.1 0 1,0 2.2,0a1.1,1.1 0 1,0 -2.2,0Z"/><path d="M364.70,315.70 L365.43,317.69 L367.55,317.77 L365.89,319.09 L366.46,321.13 L364.70,319.95 L362.94,321.13 L363.51,319.09 L361.85,317.77 L363.97,317.69Z" fill-opacity="0.5"/><path d="M363.60,318.70a1.1,1.1 0 1,0 2.2,0a1.1,1.1 0 1,0 -2.2,0Z"/><path d="M364.70,323.30 L365.43,325.29 L367.55,325.37 L365.89,326.69 L366.46,328.73 L364.70,327.55 L362.94,328.73 L363.51,326.69 L361.85,325.37 L363.97,325.29Z" fill-opacity="0.5"/><path d="M363.60,326.30a1.1,1.1 0 1,0 2.2,0a1.1,1.1 0 1,0 -2.2,0Z"/><path d="M411.10,302.60 L411.83,304.59 L413.95,304.67 L412.29,305.99 L412.86,308.03 L411.10,306.85 L409.34,308.03 L409.91,305.99 L408.25,304.67 L410.37,304.59Z" fill-opacity="0.5"/><path d="M410.00,305.60a1.1,1.1 0 1,0 2.2,0a1.1,1.1 0 1,0 -2.2,0Z"/><path d="M413.80,306.00 L414.53,307.99 L416.65,308.07 L414.99,309.39 L415.56,311.43 L413.80,310.25 L412.04,311.43 L412.61,309.39 L410.95,308.07 L413.07,307.99Z" fill-opacity="0.5"/><path d="M412.70,309.00a1.1,1.1 0 1,0 2.2,0a1.1,1.1 0 1,0 -2.2,0Z"/><path d="M396.00,311.50 L396.73,313.49 L398.85,313.57 L397.19,314.89 L397.76,316.93 L396.00,315.75 L394.24,316.93 L394.81,314.89 L393.15,313.57 L395.27,313.49Z" fill-opacity="0.5"/><path d="M394.90,314.50a1.1,1.1 0 1,0 2.2,0a1.1,1.1 0 1,0 -2.2,0Z"/><path d="M398.70,311.50 L399.43,313.49 L401.55,313.57 L399.89,314.89 L400.46,316.93 L398.70,315.75 L396.94,316.93 L397.51,314.89 L395.85,313.57 L397.97,313.49Z" fill-opacity="0.5"/><path d="M397.60,314.50a1.1,1.1 0 1,0 2.2,0a1.1,1.1 0 1,0 -2.2,0Z"/><path d="M402.20,313.60 L402.93,315.59 L405.05,315.67 L403.39,316.99 L403.96,319.03 L402.20,317.85 L400.44,319.03 L401.01,316.99 L399.35,315.67 L401.47,315.59Z" fill-opacity="0.5"/><path d="M401.10,316.60a1.1,1.1 0 1,0 2.2,0a1.1,1.1 0 1,0 -2.2,0Z"/><path d="M406.30,315.00 L407.03,316.99 L409.15,317.07 L407.49,318.39 L408.06,320.43 L406.30,319.25 L404.54,320.43 L405.11,318.39 L403.45,317.07 L405.57,316.99Z" fill-opacity="0.5"/><path d="M405.20,318.00a1.1,1.1 0 1,0 2.2,0a1.1,1.1 0 1,0 -2.2,0Z"/><path d="M411.10,311.50 L411.83,313.49 L413.95,313.57 L412.29,314.89 L412.86,316.93 L411.10,315.75 L409.34,316.93 L409.91,314.89 L408.25,313.57 L410.37,313.49Z" fill-opacity="0.5"/><path d="M410.00,314.50a1.1,1.1 0 1,0 2.2,0a1.1,1.1 0 1,0 -2.2,0Z"/><path d="M427.60,310.80 L428.33,312.79 L430.45,312.87 L428.79,314.19 L429.36,316.23 L427.60,315.05 L425.84,316.23 L426.41,314.19 L424.75,312.87 L426.87,312.79Z" fill-opacity="0.5"/><path d="M426.50,313.80a1.1,1.1 0 1,0 2.2,0a1.1,1.1 0 1,0 -2.2,0Z"/><path d="M400.80,320.40 L401.53,322.39 L403.65,322.47 L401.99,323.79 L402.56,325.83 L400.80,324.65 L399.04,325.83 L399.61,323.79 L397.95,322.47 L400.07,322.39Z" fill-opacity="0.5"/><path d="M399.70,323.40a1.1,1.1 0 1,0 2.2,0a1.1,1.1 0 1,0 -2.2,0Z"/><path d="M407.00,319.10 L407.73,321.09 L409.85,321.17 L408.19,322.49 L408.76,324.53 L407.00,323.35 L405.24,324.53 L405.81,322.49 L404.15,321.17 L406.27,321.09Z" fill-opacity="0.5"/><path d="M405.90,322.10a1.1,1.1 0 1,0 2.2,0a1.1,1.1 0 1,0 -2.2,0Z"/><path d="M418.00,319.10 L418.73,321.09 L420.85,321.17 L419.19,322.49 L419.76,324.53 L418.00,323.35 L416.24,324.53 L416.81,322.49 L415.15,321.17 L417.27,321.09Z" fill-opacity="0.5"/><path d="M416.90,322.10a1.1,1.1 0 1,0 2.2,0a1.1,1.1 0 1,0 -2.2,0Z"/><path d="M428.90,319.80 L429.63,321.79 L431.75,321.87 L430.09,323.19 L430.66,325.23 L428.90,324.05 L427.14,325.23 L427.71,323.19 L426.05,321.87 L428.17,321.79Z" fill-opacity="0.5"/><path d="M427.80,322.80a1.1,1.1 0 1,0 2.2,0a1.1,1.1 0 1,0 -2.2,0Z"/><path d="M407.70,325.30 L408.43,327.29 L410.55,327.37 L408.89,328.69 L409.46,330.73 L407.70,329.55 L405.94,330.73 L406.51,328.69 L404.85,327.37 L406.97,327.29Z" fill-opacity="0.5"/><path d="M406.60,328.30a1.1,1.1 0 1,0 2.2,0a1.1,1.1 0 1,0 -2.2,0Z"/><path d="M419.30,325.30 L420.03,327.29 L422.15,327.37 L420.49,328.69 L421.06,330.73 L419.30,329.55 L417.54,330.73 L418.11,328.69 L416.45,327.37 L418.57,327.29Z" fill-opacity="0.5"/><path d="M418.20,328.30a1.1,1.1 0 1,0 2.2,0a1.1,1.1 0 1,0 -2.2,0Z"/><path d="M426.20,326.00 L426.93,327.99 L429.05,328.07 L427.39,329.39 L427.96,331.43 L426.20,330.25 L424.44,331.43 L425.01,329.39 L423.35,328.07 L425.47,327.99Z" fill-opacity="0.5"/><path d="M425.10,329.00a1.1,1.1 0 1,0 2.2,0a1.1,1.1 0 1,0 -2.2,0Z"/><path d="M425.50,328.70 L426.23,330.69 L428.35,330.77 L426.69,332.09 L427.26,334.13 L425.50,332.95 L423.74,334.13 L424.31,332.09 L422.65,330.77 L424.77,330.69Z" fill-opacity="0.5"/><path d="M424.40,331.70a1.1,1.1 0 1,0 2.2,0a1.1,1.1 0 1,0 -2.2,0Z"/><path d="M433.70,326.00 L434.43,327.99 L436.55,328.07 L434.89,329.39 L435.46,331.43 L433.70,330.25 L431.94,331.43 L432.51,329.39 L430.85,328.07 L432.97,327.99Z" fill-opacity="0.5"/><path d="M432.60,329.00a1.1,1.1 0 1,0 2.2,0a1.1,1.1 0 1,0 -2.2,0Z"/><path d="M391.90,332.80 L392.63,334.79 L394.75,334.87 L393.09,336.19 L393.66,338.23 L391.90,337.05 L390.14,338.23 L390.71,336.19 L389.05,334.87 L391.17,334.79Z" fill-opacity="0.5"/><path d="M390.80,335.80a1.1,1.1 0 1,0 2.2,0a1.1,1.1 0 1,0 -2.2,0Z"/><path d="M418.00,337.60 L418.73,339.59 L420.85,339.67 L419.19,340.99 L419.76,343.03 L418.00,341.85 L416.24,343.03 L416.81,340.99 L415.15,339.67 L417.27,339.59Z" fill-opacity="0.5"/><path d="M416.90,340.60a1.1,1.1 0 1,0 2.2,0a1.1,1.1 0 1,0 -2.2,0Z"/><path d="M384.10,330.20 L384.83,332.19 L386.95,332.27 L385.29,333.59 L385.86,335.63 L384.10,334.45 L382.34,335.63 L382.91,333.59 L381.25,332.27 L383.37,332.19Z" fill-opacity="0.5"/><path d="M383.00,333.20a1.1,1.1 0 1,0 2.2,0a1.1,1.1 0 1,0 -2.2,0Z"/><path d="M408.10,324.70 L408.83,326.69 L410.95,326.77 L409.29,328.09 L409.86,330.13 L408.10,328.95 L406.34,330.13 L406.91,328.09 L405.25,326.77 L407.37,326.69Z" fill-opacity="0.5"/><path d="M407.00,327.70a1.1,1.1 0 1,0 2.2,0a1.1,1.1 0 1,0 -2.2,0Z"/><path d="M417.80,337.80 L418.53,339.79 L420.65,339.87 L418.99,341.19 L419.56,343.23 L417.80,342.05 L416.04,343.23 L416.61,341.19 L414.95,339.87 L417.07,339.79Z" fill-opacity="0.5"/><path d="M416.70,340.80a1.1,1.1 0 1,0 2.2,0a1.1,1.1 0 1,0 -2.2,0Z"/><path d="M426.70,329.60 L427.43,331.59 L429.55,331.67 L427.89,332.99 L428.46,335.03 L426.70,333.85 L424.94,335.03 L425.51,332.99 L423.85,331.67 L425.97,331.59Z" fill-opacity="0.5"/><path d="M425.60,332.60a1.1,1.1 0 1,0 2.2,0a1.1,1.1 0 1,0 -2.2,0Z"/><path d="M434.20,326.10 L434.93,328.09 L437.05,328.17 L435.39,329.49 L435.96,331.53 L434.20,330.35 L432.44,331.53 L433.01,329.49 L431.35,328.17 L433.47,328.09Z" fill-opacity="0.5"/><path d="M433.10,329.10a1.1,1.1 0 1,0 2.2,0a1.1,1.1 0 1,0 -2.2,0Z"/><path d="M409.50,351.90 L410.23,353.89 L412.35,353.97 L410.69,355.29 L411.26,357.33 L409.50,356.15 L407.74,357.33 L408.31,355.29 L406.65,353.97 L408.77,353.89Z" fill-opacity="0.5"/><path d="M408.40,354.90a1.1,1.1 0 1,0 2.2,0a1.1,1.1 0 1,0 -2.2,0Z"/><path d="M440.40,351.90 L441.13,353.89 L443.25,353.97 L441.59,355.29 L442.16,357.33 L440.40,356.15 L438.64,357.33 L439.21,355.29 L437.55,353.97 L439.67,353.89Z" fill-opacity="0.5"/><path d="M439.30,354.90a1.1,1.1 0 1,0 2.2,0a1.1,1.1 0 1,0 -2.2,0Z"/><path d="M432.20,356.60 L432.93,358.59 L435.05,358.67 L433.39,359.99 L433.96,362.03 L432.20,360.85 L430.44,362.03 L431.01,359.99 L429.35,358.67 L431.47,358.59Z" fill-opacity="0.5"/><path d="M431.10,359.60a1.1,1.1 0 1,0 2.2,0a1.1,1.1 0 1,0 -2.2,0Z"/><path d="M419.40,359.10 L420.13,361.09 L422.25,361.17 L420.59,362.49 L421.16,364.53 L419.40,363.35 L417.64,364.53 L418.21,362.49 L416.55,361.17 L418.67,361.09Z" fill-opacity="0.5"/><path d="M418.30,362.10a1.1,1.1 0 1,0 2.2,0a1.1,1.1 0 1,0 -2.2,0Z"/></g><text class="tk" transform="translate(282.20,408.80) scale(0.960,1)" text-anchor="middle">-60</text><text class="tk" transform="translate(314.55,408.80) scale(0.960,1)" text-anchor="middle">-40</text><text class="tk" transform="translate(346.90,408.80) scale(0.960,1)" text-anchor="middle">-20</text><text class="tk" transform="translate(379.25,408.80) scale(0.960,1)" text-anchor="middle">0</text><text class="tk" transform="translate(411.60,408.80) scale(0.960,1)" text-anchor="middle">20</text><text class="tk" transform="translate(443.95,408.80) scale(0.960,1)" text-anchor="middle">40</text><text class="tk" transform="translate(476.30,408.80) scale(0.960,1)" text-anchor="middle">60</text><text class="tk" transform="translate(277.80,401.80) scale(0.960,1)" text-anchor="end">-60</text><text class="tk" transform="translate(277.80,372.72) scale(0.960,1)" text-anchor="end">-40</text><text class="tk" transform="translate(277.80,343.63) scale(0.960,1)" text-anchor="end">-20</text><text class="tk" transform="translate(277.80,314.55) scale(0.960,1)" text-anchor="end">0</text><text class="tk" transform="translate(277.80,285.47) scale(0.960,1)" text-anchor="end">20</text><text class="tk" transform="translate(277.80,256.38) scale(0.960,1)" text-anchor="end">40</text><text class="tk" transform="translate(277.80,227.30) scale(0.960,1)" text-anchor="end">60</text><text class="ti" transform="translate(310.52,418.70) scale(0.763,1)">SSE</text><text class="ti" transform="translate(327.92,418.70) scale(0.876,1)">HEEQ</text><text class="ti" transform="translate(353.65,418.70) scale(1.003,1)">Latitude</text><text class="ti" transform="translate(389.95,418.70) scale(1.051,1)">from</text><text class="ti" transform="translate(412.06,418.70) scale(0.964,1)">STB/Deg</text><text class="pl" transform="translate(370.25,432.20) scale(0.930,1)" text-anchor="middle">(e)</text><text class="ti" transform="translate(256.70,377.91) rotate(-90) scale(0.936,1)">HEEQ</text><text class="ti" transform="translate(256.70,351.72) rotate(-90) scale(0.948,1)">Latitudinal</text><text class="ti" transform="translate(256.70,310.00) rotate(-90) scale(1.087,1)">Difference/Deg</text><text class="eq" transform="translate(395.50,243.70) scale(1.070,1)">y=-0.476x+1.229</text><text class="eq" transform="translate(395.50,258.00) scale(1.070,1)">R<tspan class="sup" dy="-4.0">2</tspan><tspan dy="4.0">=0.480</tspan></text><path d="M532.87,398.70V395.10M532.87,224.20V227.80M540.93,398.70V395.10M540.93,224.20V227.80M549.00,398.70V395.10M549.00,224.20V227.80M557.07,398.70V391.50M557.07,224.20V231.40M565.13,398.70V395.10M565.13,224.20V227.80M573.20,398.70V395.10M573.20,224.20V227.80M581.27,398.70V395.10M581.27,224.20V227.80M589.33,398.70V391.50M589.33,224.20V231.40M597.40,398.70V395.10M597.40,224.20V227.80M605.47,398.70V395.10M605.47,224.20V227.80M613.53,398.70V395.10M613.53,224.20V227.80M621.60,398.70V391.50M621.60,224.20V231.40M629.67,398.70V395.10M629.67,224.20V227.80M637.73,398.70V395.10M637.73,224.20V227.80M645.80,398.70V395.10M645.80,224.20V227.80M653.87,398.70V391.50M653.87,224.20V231.40M661.93,398.70V395.10M661.93,224.20V227.80M670.00,398.70V395.10M670.00,224.20V227.80M678.07,398.70V395.10M678.07,224.20V227.80M686.13,398.70V391.50M686.13,224.20V231.40M694.20,398.70V395.10M694.20,224.20V227.80M702.27,398.70V395.10M702.27,224.20V227.80M710.33,398.70V395.10M710.33,224.20V227.80M524.80,391.43H528.40M718.40,391.43H714.80M524.80,384.16H528.40M718.40,384.16H714.80M524.80,376.89H528.40M718.40,376.89H714.80M524.80,369.62H532.00M718.40,369.62H711.20M524.80,362.35H528.40M718.40,362.35H714.80M524.80,355.07H528.40M718.40,355.07H714.80M524.80,347.80H528.40M718.40,347.80H714.80M524.80,340.53H532.00M718.40,340.53H711.20M524.80,333.26H528.40M718.40,333.26H714.80M524.80,325.99H528.40M718.40,325.99H714.80M524.80,318.72H528.40M718.40,318.72H714.80M524.80,311.45H532.00M718.40,311.45H711.20M524.80,304.18H528.40M718.40,304.18H714.80M524.80,296.91H528.40M718.40,296.91H714.80M524.80,289.64H528.40M718.40,289.64H714.80M524.80,282.37H532.00M718.40,282.37H711.20M524.80,275.10H528.40M718.40,275.10H714.80M524.80,267.82H528.40M718.40,267.82H714.80M524.80,260.55H528.40M718.40,260.55H714.80M524.80,253.28H532.00M718.40,253.28H711.20M524.80,246.01H528.40M718.40,246.01H714.80M524.80,238.74H528.40M718.40,238.74H714.80M524.80,231.47H528.40M718.40,231.47H714.80" stroke="#707070" stroke-width="1.0" fill="none"/><rect x="524.80" y="224.20" width="193.60" height="174.50" stroke="#707070" stroke-width="1.0" fill="none"/><line x1="524.80" y1="270.96" x2="718.40" y2="347.56" stroke="#3c3c3c" stroke-width="0.9"/><g fill="#1a8a2c"><path d="M574.40,283.30 L575.13,285.29 L577.25,285.37 L575.59,286.69 L576.16,288.73 L574.40,287.55 L572.64,288.73 L573.21,286.69 L571.55,285.37 L573.67,285.29Z" fill-opacity="0.5"/><path d="M573.30,286.30a1.1,1.1 0 1,0 2.2,0a1.1,1.1 0 1,0 -2.2,0Z"/><path d="M577.80,283.30 L578.53,285.29 L580.65,285.37 L578.99,286.69 L579.56,288.73 L577.80,287.55 L576.04,288.73 L576.61,286.69 L574.95,285.37 L577.07,285.29Z" fill-opacity="0.5"/><path d="M576.70,286.30a1.1,1.1 0 1,0 2.2,0a1.1,1.1 0 1,0 -2.2,0Z"/><path d="M577.80,288.80 L578.53,290.79 L580.65,290.87 L578.99,292.19 L579.56,294.23 L577.80,293.05 L576.04,294.23 L576.61,292.19 L574.95,290.87 L577.07,290.79Z" fill-opacity="0.5"/><path d="M576.70,291.80a1.1,1.1 0 1,0 2.2,0a1.1,1.1 0 1,0 -2.2,0Z"/><path d="M583.60,288.40 L584.33,290.39 L586.45,290.47 L584.79,291.79 L585.36,293.83 L583.60,292.65 L581.84,293.83 L582.41,291.79 L580.75,290.47 L582.87,290.39Z" fill-opacity="0.5"/><path d="M582.50,291.40a1.1,1.1 0 1,0 2.2,0a1.1,1.1 0 1,0 -2.2,0Z"/><path d="M590.20,290.20 L590.93,292.19 L593.05,292.27 L591.39,293.59 L591.96,295.63 L590.20,294.45 L588.44,295.63 L589.01,293.59 L587.35,292.27 L589.47,292.19Z" fill-opacity="0.5"/><path d="M589.10,293.20a1.1,1.1 0 1,0 2.2,0a1.1,1.1 0 1,0 -2.2,0Z"/><path d="M607.40,287.00 L608.13,288.99 L610.25,289.07 L608.59,290.39 L609.16,292.43 L607.40,291.25 L605.64,292.43 L606.21,290.39 L604.55,289.07 L606.67,288.99Z" fill-opacity="0.5"/><path d="M606.30,290.00a1.1,1.1 0 1,0 2.2,0a1.1,1.1 0 1,0 -2.2,0Z"/><path d="M603.90,291.10 L604.63,293.09 L606.75,293.17 L605.09,294.49 L605.66,296.53 L603.90,295.35 L602.14,296.53 L602.71,294.49 L601.05,293.17 L603.17,293.09Z" fill-opacity="0.5"/><path d="M602.80,294.10a1.1,1.1 0 1,0 2.2,0a1.1,1.1 0 1,0 -2.2,0Z"/><path d="M618.80,290.20 L619.53,292.19 L621.65,292.27 L619.99,293.59 L620.56,295.63 L618.80,294.45 L617.04,295.63 L617.61,293.59 L615.95,292.27 L618.07,292.19Z" fill-opacity="0.5"/><path d="M617.70,293.20a1.1,1.1 0 1,0 2.2,0a1.1,1.1 0 1,0 -2.2,0Z"/><path d="M612.20,296.20 L612.93,298.19 L615.05,298.27 L613.39,299.59 L613.96,301.63 L612.20,300.45 L610.44,301.63 L611.01,299.59 L609.35,298.27 L611.47,298.19Z" fill-opacity="0.5"/><path d="M611.10,299.20a1.1,1.1 0 1,0 2.2,0a1.1,1.1 0 1,0 -2.2,0Z"/><path d="M577.80,299.00 L578.53,300.99 L580.65,301.07 L578.99,302.39 L579.56,304.43 L577.80,303.25 L576.04,304.43 L576.61,302.39 L574.95,301.07 L577.07,300.99Z" fill-opacity="0.5"/><path d="M576.70,302.00a1.1,1.1 0 1,0 2.2,0a1.1,1.1 0 1,0 -2.2,0Z"/><path d="M586.80,298.70 L587.53,300.69 L589.65,300.77 L587.99,302.09 L588.56,304.13 L586.80,302.95 L585.04,304.13 L585.61,302.09 L583.95,300.77 L586.07,300.69Z" fill-opacity="0.5"/><path d="M585.70,301.70a1.1,1.1 0 1,0 2.2,0a1.1,1.1 0 1,0 -2.2,0Z"/><path d="M601.20,300.10 L601.93,302.09 L604.05,302.17 L602.39,303.49 L602.96,305.53 L601.20,304.35 L599.44,305.53 L600.01,303.49 L598.35,302.17 L600.47,302.09Z" fill-opacity="0.5"/><path d="M600.10,303.10a1.1,1.1 0 1,0 2.2,0a1.1,1.1 0 1,0 -2.2,0Z"/><path d="M602.60,303.50 L603.33,305.49 L605.45,305.57 L603.79,306.89 L604.36,308.93 L602.60,307.75 L600.84,308.93 L601.41,306.89 L599.75,305.57 L601.87,305.49Z" fill-opacity="0.5"/><path d="M601.50,306.50a1.1,1.1 0 1,0 2.2,0a1.1,1.1 0 1,0 -2.2,0Z"/><path d="M607.40,301.40 L608.13,303.39 L610.25,303.47 L608.59,304.79 L609.16,306.83 L607.40,305.65 L605.64,306.83 L606.21,304.79 L604.55,303.47 L606.67,303.39Z" fill-opacity="0.5"/><path d="M606.30,304.40a1.1,1.1 0 1,0 2.2,0a1.1,1.1 0 1,0 -2.2,0Z"/><path d="M587.50,303.90 L588.23,305.89 L590.35,305.97 L588.69,307.29 L589.26,309.33 L587.50,308.15 L585.74,309.33 L586.31,307.29 L584.65,305.97 L586.77,305.89Z" fill-opacity="0.5"/><path d="M586.40,306.90a1.1,1.1 0 1,0 2.2,0a1.1,1.1 0 1,0 -2.2,0Z"/><path d="M596.40,306.90 L597.13,308.89 L599.25,308.97 L597.59,310.29 L598.16,312.33 L596.40,311.15 L594.64,312.33 L595.21,310.29 L593.55,308.97 L595.67,308.89Z" fill-opacity="0.5"/><path d="M595.30,309.90a1.1,1.1 0 1,0 2.2,0a1.1,1.1 0 1,0 -2.2,0Z"/><path d="M595.00,308.00 L595.73,309.99 L597.85,310.07 L596.19,311.39 L596.76,313.43 L595.00,312.25 L593.24,313.43 L593.81,311.39 L592.15,310.07 L594.27,309.99Z" fill-opacity="0.5"/><path d="M593.90,311.00a1.1,1.1 0 1,0 2.2,0a1.1,1.1 0 1,0 -2.2,0Z"/><path d="M612.20,304.90 L612.93,306.89 L615.05,306.97 L613.39,308.29 L613.96,310.33 L612.20,309.15 L610.44,310.33 L611.01,308.29 L609.35,306.97 L611.47,306.89Z" fill-opacity="0.5"/><path d="M611.10,307.90a1.1,1.1 0 1,0 2.2,0a1.1,1.1 0 1,0 -2.2,0Z"/><path d="M628.10,291.70 L628.83,293.69 L630.95,293.77 L629.29,295.09 L629.86,297.13 L628.10,295.95 L626.34,297.13 L626.91,295.09 L625.25,293.77 L627.37,293.69Z" fill-opacity="0.5"/><path d="M627.00,294.70a1.1,1.1 0 1,0 2.2,0a1.1,1.1 0 1,0 -2.2,0Z"/><path d="M622.00,294.50 L622.73,296.49 L624.85,296.57 L623.19,297.89 L623.76,299.93 L622.00,298.75 L620.24,299.93 L620.81,297.89 L619.15,296.57 L621.27,296.49Z" fill-opacity="0.5"/><path d="M620.90,297.50a1.1,1.1 0 1,0 2.2,0a1.1,1.1 0 1,0 -2.2,0Z"/><path d="M626.80,295.80 L627.53,297.79 L629.65,297.87 L627.99,299.19 L628.56,301.23 L626.80,300.05 L625.04,301.23 L625.61,299.19 L623.95,297.87 L626.07,297.79Z" fill-opacity="0.5"/><path d="M625.70,298.80a1.1,1.1 0 1,0 2.2,0a1.1,1.1 0 1,0 -2.2,0Z"/><path d="M630.90,298.60 L631.63,300.59 L633.75,300.67 L632.09,301.99 L632.66,304.03 L630.90,302.85 L629.14,304.03 L629.71,301.99 L628.05,300.67 L630.17,300.59Z" fill-opacity="0.5"/><path d="M629.80,301.60a1.1,1.1 0 1,0 2.2,0a1.1,1.1 0 1,0 -2.2,0Z"/><path d="M650.80,298.60 L651.53,300.59 L653.65,300.67 L651.99,301.99 L652.56,304.03 L650.80,302.85 L649.04,304.03 L649.61,301.99 L647.95,300.67 L650.07,300.59Z" fill-opacity="0.5"/><path d="M649.70,301.60a1.1,1.1 0 1,0 2.2,0a1.1,1.1 0 1,0 -2.2,0Z"/><path d="M654.90,298.30 L655.63,300.29 L657.75,300.37 L656.09,301.69 L656.66,303.73 L654.90,302.55 L653.14,303.73 L653.71,301.69 L652.05,300.37 L654.17,300.29Z" fill-opacity="0.5"/><path d="M653.80,301.30a1.1,1.1 0 1,0 2.2,0a1.1,1.1 0 1,0 -2.2,0Z"/><path d="M601.40,304.10 L602.13,306.09 L604.25,306.17 L602.59,307.49 L603.16,309.53 L601.40,308.35 L599.64,309.53 L600.21,307.49 L598.55,306.17 L600.67,306.09Z" fill-opacity="0.5"/><path d="M600.30,307.10a1.1,1.1 0 1,0 2.2,0a1.1,1.1 0 1,0 -2.2,0Z"/><path d="M625.40,304.10 L626.13,306.09 L628.25,306.17 L626.59,307.49 L627.16,309.53 L625.40,308.35 L623.64,309.53 L624.21,307.49 L622.55,306.17 L624.67,306.09Z" fill-opacity="0.5"/><path d="M624.30,307.10a1.1,1.1 0 1,0 2.2,0a1.1,1.1 0 1,0 -2.2,0Z"/><path d="M618.50,310.30 L619.23,312.29 L621.35,312.37 L619.69,313.69 L620.26,315.73 L618.50,314.55 L616.74,315.73 L617.31,313.69 L615.65,312.37 L617.77,312.29Z" fill-opacity="0.5"/><path d="M617.40,313.30a1.1,1.1 0 1,0 2.2,0a1.1,1.1 0 1,0 -2.2,0Z"/><path d="M644.60,306.10 L645.33,308.09 L647.45,308.17 L645.79,309.49 L646.36,311.53 L644.60,310.35 L642.84,311.53 L643.41,309.49 L641.75,308.17 L643.87,308.09Z" fill-opacity="0.5"/><path d="M643.50,309.10a1.1,1.1 0 1,0 2.2,0a1.1,1.1 0 1,0 -2.2,0Z"/><path d="M649.40,304.10 L650.13,306.09 L652.25,306.17 L650.59,307.49 L651.16,309.53 L649.40,308.35 L647.64,309.53 L648.21,307.49 L646.55,306.17 L648.67,306.09Z" fill-opacity="0.5"/><path d="M648.30,307.10a1.1,1.1 0 1,0 2.2,0a1.1,1.1 0 1,0 -2.2,0Z"/><path d="M657.70,308.20 L658.43,310.19 L660.55,310.27 L658.89,311.59 L659.46,313.63 L657.70,312.45 L655.94,313.63 L656.51,311.59 L654.85,310.27 L656.97,310.19Z" fill-opacity="0.5"/><path d="M656.60,311.20a1.1,1.1 0 1,0 2.2,0a1.1,1.1 0 1,0 -2.2,0Z"/><path d="M604.80,312.30 L605.53,314.29 L607.65,314.37 L605.99,315.69 L606.56,317.73 L604.80,316.55 L603.04,317.73 L603.61,315.69 L601.95,314.37 L604.07,314.29Z" fill-opacity="0.5"/><path d="M603.70,315.30a1.1,1.1 0 1,0 2.2,0a1.1,1.1 0 1,0 -2.2,0Z"/><path d="M614.40,313.00 L615.13,314.99 L617.25,315.07 L615.59,316.39 L616.16,318.43 L614.40,317.25 L612.64,318.43 L613.21,316.39 L611.55,315.07 L613.67,314.99Z" fill-opacity="0.5"/><path d="M613.30,316.00a1.1,1.1 0 1,0 2.2,0a1.1,1.1 0 1,0 -2.2,0Z"/><path d="M620.60,312.30 L621.33,314.29 L623.45,314.37 L621.79,315.69 L622.36,317.73 L620.60,316.55 L618.84,317.73 L619.41,315.69 L617.75,314.37 L619.87,314.29Z" fill-opacity="0.5"/><path d="M619.50,315.30a1.1,1.1 0 1,0 2.2,0a1.1,1.1 0 1,0 -2.2,0Z"/><path d="M609.60,315.70 L610.33,317.69 L612.45,317.77 L610.79,319.09 L611.36,321.13 L609.60,319.95 L607.84,321.13 L608.41,319.09 L606.75,317.77 L608.87,317.69Z" fill-opacity="0.5"/><path d="M608.50,318.70a1.1,1.1 0 1,0 2.2,0a1.1,1.1 0 1,0 -2.2,0Z"/><path d="M629.50,315.10 L630.23,317.09 L632.35,317.17 L630.69,318.49 L631.26,320.53 L629.50,319.35 L627.74,320.53 L628.31,318.49 L626.65,317.17 L628.77,317.09Z" fill-opacity="0.5"/><path d="M628.40,318.10a1.1,1.1 0 1,0 2.2,0a1.1,1.1 0 1,0 -2.2,0Z"/><path d="M627.50,318.50 L628.23,320.49 L630.35,320.57 L628.69,321.89 L629.26,323.93 L627.50,322.75 L625.74,323.93 L626.31,321.89 L624.65,320.57 L626.77,320.49Z" fill-opacity="0.5"/><path d="M626.40,321.50a1.1,1.1 0 1,0 2.2,0a1.1,1.1 0 1,0 -2.2,0Z"/><path d="M633.00,319.90 L633.73,321.89 L635.85,321.97 L634.19,323.29 L634.76,325.33 L633.00,324.15 L631.24,325.33 L631.81,323.29 L630.15,321.97 L632.27,321.89Z" fill-opacity="0.5"/><path d="M631.90,322.90a1.1,1.1 0 1,0 2.2,0a1.1,1.1 0 1,0 -2.2,0Z"/><path d="M626.10,321.90 L626.83,323.89 L628.95,323.97 L627.29,325.29 L627.86,327.33 L626.10,326.15 L624.34,327.33 L624.91,325.29 L623.25,323.97 L625.37,323.89Z" fill-opacity="0.5"/><path d="M625.00,324.90a1.1,1.1 0 1,0 2.2,0a1.1,1.1 0 1,0 -2.2,0Z"/><path d="M604.80,321.20 L605.53,323.19 L607.65,323.27 L605.99,324.59 L606.56,326.63 L604.80,325.45 L603.04,326.63 L603.61,324.59 L601.95,323.27 L604.07,323.19Z" fill-opacity="0.5"/><path d="M603.70,324.20a1.1,1.1 0 1,0 2.2,0a1.1,1.1 0 1,0 -2.2,0Z"/><path d="M631.60,323.30 L632.33,325.29 L634.45,325.37 L632.79,326.69 L633.36,328.73 L631.60,327.55 L629.84,328.73 L630.41,326.69 L628.75,325.37 L630.87,325.29Z" fill-opacity="0.5"/><path d="M630.50,326.30a1.1,1.1 0 1,0 2.2,0a1.1,1.1 0 1,0 -2.2,0Z"/><path d="M648.10,322.60 L648.83,324.59 L650.95,324.67 L649.29,325.99 L649.86,328.03 L648.10,326.85 L646.34,328.03 L646.91,325.99 L645.25,324.67 L647.37,324.59Z" fill-opacity="0.5"/><path d="M647.00,325.60a1.1,1.1 0 1,0 2.2,0a1.1,1.1 0 1,0 -2.2,0Z"/><path d="M654.90,323.30 L655.63,325.29 L657.75,325.37 L656.09,326.69 L656.66,328.73 L654.90,327.55 L653.14,328.73 L653.71,326.69 L652.05,325.37 L654.17,325.29Z" fill-opacity="0.5"/><path d="M653.80,326.30a1.1,1.1 0 1,0 2.2,0a1.1,1.1 0 1,0 -2.2,0Z"/><path d="M622.00,324.70 L622.73,326.69 L624.85,326.77 L623.19,328.09 L623.76,330.13 L622.00,328.95 L620.24,330.13 L620.81,328.09 L619.15,326.77 L621.27,326.69Z" fill-opacity="0.5"/><path d="M620.90,327.70a1.1,1.1 0 1,0 2.2,0a1.1,1.1 0 1,0 -2.2,0Z"/><path d="M642.60,325.40 L643.33,327.39 L645.45,327.47 L643.79,328.79 L644.36,330.83 L642.60,329.65 L640.84,330.83 L641.41,328.79 L639.75,327.47 L641.87,327.39Z" fill-opacity="0.5"/><path d="M641.50,328.40a1.1,1.1 0 1,0 2.2,0a1.1,1.1 0 1,0 -2.2,0Z"/><path d="M665.70,302.60 L666.43,304.59 L668.55,304.67 L666.89,305.99 L667.46,308.03 L665.70,306.85 L663.94,308.03 L664.51,305.99 L662.85,304.67 L664.97,304.59Z" fill-opacity="0.5"/><path d="M664.60,305.60a1.1,1.1 0 1,0 2.2,0a1.1,1.1 0 1,0 -2.2,0Z"/><path d="M671.30,313.00 L672.03,314.99 L674.15,315.07 L672.49,316.39 L673.06,318.43 L671.30,317.25 L669.54,318.43 L670.11,316.39 L668.45,315.07 L670.57,314.99Z" fill-opacity="0.5"/><path d="M670.20,316.00a1.1,1.1 0 1,0 2.2,0a1.1,1.1 0 1,0 -2.2,0Z"/><path d="M676.90,325.00 L677.63,326.99 L679.75,327.07 L678.09,328.39 L678.66,330.43 L676.90,329.25 L675.14,330.43 L675.71,328.39 L674.05,327.07 L676.17,326.99Z" fill-opacity="0.5"/><path d="M675.80,328.00a1.1,1.1 0 1,0 2.2,0a1.1,1.1 0 1,0 -2.2,0Z"/><path d="M681.70,329.00 L682.43,330.99 L684.55,331.07 L682.89,332.39 L683.46,334.43 L681.70,333.25 L679.94,334.43 L680.51,332.39 L678.85,331.07 L680.97,330.99Z" fill-opacity="0.5"/><path d="M680.60,332.00a1.1,1.1 0 1,0 2.2,0a1.1,1.1 0 1,0 -2.2,0Z"/><path d="M660.00,314.60 L660.73,316.59 L662.85,316.67 L661.19,317.99 L661.76,320.03 L660.00,318.85 L658.24,320.03 L658.81,317.99 L657.15,316.67 L659.27,316.59Z" fill-opacity="0.5"/><path d="M658.90,317.60a1.1,1.1 0 1,0 2.2,0a1.1,1.1 0 1,0 -2.2,0Z"/><path d="M651.20,305.80 L651.93,307.79 L654.05,307.87 L652.39,309.19 L652.96,311.23 L651.20,310.05 L649.44,311.23 L650.01,309.19 L648.35,307.87 L650.47,307.79Z" fill-opacity="0.5"/><path d="M650.10,308.80a1.1,1.1 0 1,0 2.2,0a1.1,1.1 0 1,0 -2.2,0Z"/><path d="M644.80,305.80 L645.53,307.79 L647.65,307.87 L645.99,309.19 L646.56,311.23 L644.80,310.05 L643.04,311.23 L643.61,309.19 L641.95,307.87 L644.07,307.79Z" fill-opacity="0.5"/><path d="M643.70,308.80a1.1,1.1 0 1,0 2.2,0a1.1,1.1 0 1,0 -2.2,0Z"/><path d="M652.80,313.80 L653.53,315.79 L655.65,315.87 L653.99,317.19 L654.56,319.23 L652.80,318.05 L651.04,319.23 L651.61,317.19 L649.95,315.87 L652.07,315.79Z" fill-opacity="0.5"/><path d="M651.70,316.80a1.1,1.1 0 1,0 2.2,0a1.1,1.1 0 1,0 -2.2,0Z"/><path d="M657.60,319.40 L658.33,321.39 L660.45,321.47 L658.79,322.79 L659.36,324.83 L657.60,323.65 L655.84,324.83 L656.41,322.79 L654.75,321.47 L656.87,321.39Z" fill-opacity="0.5"/><path d="M656.50,322.40a1.1,1.1 0 1,0 2.2,0a1.1,1.1 0 1,0 -2.2,0Z"/><path d="M648.80,324.20 L649.53,326.19 L651.65,326.27 L649.99,327.59 L650.56,329.63 L648.80,328.45 L647.04,329.63 L647.61,327.59 L645.95,326.27 L648.07,326.19Z" fill-opacity="0.5"/><path d="M647.70,327.20a1.1,1.1 0 1,0 2.2,0a1.1,1.1 0 1,0 -2.2,0Z"/><path d="M645.60,321.80 L646.33,323.79 L648.45,323.87 L646.79,325.19 L647.36,327.23 L645.60,326.05 L643.84,327.23 L644.41,325.19 L642.75,323.87 L644.87,323.79Z" fill-opacity="0.5"/><path d="M644.50,324.80a1.1,1.1 0 1,0 2.2,0a1.1,1.1 0 1,0 -2.2,0Z"/><path d="M642.40,325.80 L643.13,327.79 L645.25,327.87 L643.59,329.19 L644.16,331.23 L642.40,330.05 L640.64,331.23 L641.21,329.19 L639.55,327.87 L641.67,327.79Z" fill-opacity="0.5"/><path d="M641.30,328.80a1.1,1.1 0 1,0 2.2,0a1.1,1.1 0 1,0 -2.2,0Z"/><path d="M633.60,321.00 L634.33,322.99 L636.45,323.07 L634.79,324.39 L635.36,326.43 L633.60,325.25 L631.84,326.43 L632.41,324.39 L630.75,323.07 L632.87,322.99Z" fill-opacity="0.5"/><path d="M632.50,324.00a1.1,1.1 0 1,0 2.2,0a1.1,1.1 0 1,0 -2.2,0Z"/><path d="M628.00,317.80 L628.73,319.79 L630.85,319.87 L629.19,321.19 L629.76,323.23 L628.00,322.05 L626.24,323.23 L626.81,321.19 L625.15,319.87 L627.27,319.79Z" fill-opacity="0.5"/><path d="M626.90,320.80a1.1,1.1 0 1,0 2.2,0a1.1,1.1 0 1,0 -2.2,0Z"/><path d="M627.20,321.80 L627.93,323.79 L630.05,323.87 L628.39,325.19 L628.96,327.23 L627.20,326.05 L625.44,327.23 L626.01,325.19 L624.35,323.87 L626.47,323.79Z" fill-opacity="0.5"/><path d="M626.10,324.80a1.1,1.1 0 1,0 2.2,0a1.1,1.1 0 1,0 -2.2,0Z"/><path d="M620.80,324.20 L621.53,326.19 L623.65,326.27 L621.99,327.59 L622.56,329.63 L620.80,328.45 L619.04,329.63 L619.61,327.59 L617.95,326.27 L620.07,326.19Z" fill-opacity="0.5"/><path d="M619.70,327.20a1.1,1.1 0 1,0 2.2,0a1.1,1.1 0 1,0 -2.2,0Z"/><path d="M647.20,339.00 L647.93,340.99 L650.05,341.07 L648.39,342.39 L648.96,344.43 L647.20,343.25 L645.44,344.43 L646.01,342.39 L644.35,341.07 L646.47,340.99Z" fill-opacity="0.5"/><path d="M646.10,342.00a1.1,1.1 0 1,0 2.2,0a1.1,1.1 0 1,0 -2.2,0Z"/><path d="M650.40,339.00 L651.13,340.99 L653.25,341.07 L651.59,342.39 L652.16,344.43 L650.40,343.25 L648.64,344.43 L649.21,342.39 L647.55,341.07 L649.67,340.99Z" fill-opacity="0.5"/><path d="M649.30,342.00a1.1,1.1 0 1,0 2.2,0a1.1,1.1 0 1,0 -2.2,0Z"/><path d="M666.50,340.60 L667.23,342.59 L669.35,342.67 L667.69,343.99 L668.26,346.03 L666.50,344.85 L664.74,346.03 L665.31,343.99 L663.65,342.67 L665.77,342.59Z" fill-opacity="0.5"/><path d="M665.40,343.60a1.1,1.1 0 1,0 2.2,0a1.1,1.1 0 1,0 -2.2,0Z"/><path d="M670.90,342.70 L671.63,344.69 L673.75,344.77 L672.09,346.09 L672.66,348.13 L670.90,346.95 L669.14,348.13 L669.71,346.09 L668.05,344.77 L670.17,344.69Z" fill-opacity="0.5"/><path d="M669.80,345.70a1.1,1.1 0 1,0 2.2,0a1.1,1.1 0 1,0 -2.2,0Z"/><path d="M662.40,344.70 L663.13,346.69 L665.25,346.77 L663.59,348.09 L664.16,350.13 L662.40,348.95 L660.64,350.13 L661.21,348.09 L659.55,346.77 L661.67,346.69Z" fill-opacity="0.5"/><path d="M661.30,347.70a1.1,1.1 0 1,0 2.2,0a1.1,1.1 0 1,0 -2.2,0Z"/></g><g fill="#e6202a"><path d="M592.30,262.30 L593.03,264.29 L595.15,264.37 L593.49,265.69 L594.06,267.73 L592.30,266.55 L590.54,267.73 L591.11,265.69 L589.45,264.37 L591.57,264.29Z" fill-opacity="0.5"/><path d="M591.20,265.30a1.1,1.1 0 1,0 2.2,0a1.1,1.1 0 1,0 -2.2,0Z"/><path d="M575.40,269.40 L576.13,271.39 L578.25,271.47 L576.59,272.79 L577.16,274.83 L575.40,273.65 L573.64,274.83 L574.21,272.79 L572.55,271.47 L574.67,271.39Z" fill-opacity="0.5"/><path d="M574.30,272.40a1.1,1.1 0 1,0 2.2,0a1.1,1.1 0 1,0 -2.2,0Z"/><path d="M580.90,268.20 L581.63,270.19 L583.75,270.27 L582.09,271.59 L582.66,273.63 L580.90,272.45 L579.14,273.63 L579.71,271.59 L578.05,270.27 L580.17,270.19Z" fill-opacity="0.5"/><path d="M579.80,271.20a1.1,1.1 0 1,0 2.2,0a1.1,1.1 0 1,0 -2.2,0Z"/><path d="M581.70,274.00 L582.43,275.99 L584.55,276.07 L582.89,277.39 L583.46,279.43 L581.70,278.25 L579.94,279.43 L580.51,277.39 L578.85,276.07 L580.97,275.99Z" fill-opacity="0.5"/><path d="M580.60,277.00a1.1,1.1 0 1,0 2.2,0a1.1,1.1 0 1,0 -2.2,0Z"/><path d="M601.90,295.30 L602.63,297.29 L604.75,297.37 L603.09,298.69 L603.66,300.73 L601.90,299.55 L600.14,300.73 L600.71,298.69 L599.05,297.37 L601.17,297.29Z" fill-opacity="0.5"/><path d="M600.80,298.30a1.1,1.1 0 1,0 2.2,0a1.1,1.1 0 1,0 -2.2,0Z"/><path d="M576.80,300.70 L577.53,302.69 L579.65,302.77 L577.99,304.09 L578.56,306.13 L576.80,304.95 L575.04,306.13 L575.61,304.09 L573.95,302.77 L576.07,302.69Z" fill-opacity="0.5"/><path d="M575.70,303.70a1.1,1.1 0 1,0 2.2,0a1.1,1.1 0 1,0 -2.2,0Z"/><path d="M589.90,305.80 L590.63,307.79 L592.75,307.87 L591.09,309.19 L591.66,311.23 L589.90,310.05 L588.14,311.23 L588.71,309.19 L587.05,307.87 L589.17,307.79Z" fill-opacity="0.5"/><path d="M588.80,308.80a1.1,1.1 0 1,0 2.2,0a1.1,1.1 0 1,0 -2.2,0Z"/><path d="M609.20,308.30 L609.93,310.29 L612.05,310.37 L610.39,311.69 L610.96,313.73 L609.20,312.55 L607.44,313.73 L608.01,311.69 L606.35,310.37 L608.47,310.29Z" fill-opacity="0.5"/><path d="M608.10,311.30a1.1,1.1 0 1,0 2.2,0a1.1,1.1 0 1,0 -2.2,0Z"/><path d="M614.90,306.90 L615.63,308.89 L617.75,308.97 L616.09,310.29 L616.66,312.33 L614.90,311.15 L613.14,312.33 L613.71,310.29 L612.05,308.97 L614.17,308.89Z" fill-opacity="0.5"/><path d="M613.80,309.90a1.1,1.1 0 1,0 2.2,0a1.1,1.1 0 1,0 -2.2,0Z"/><path d="M619.00,300.10 L619.73,302.09 L621.85,302.17 L620.19,303.49 L620.76,305.53 L619.00,304.35 L617.24,305.53 L617.81,303.49 L616.15,302.17 L618.27,302.09Z" fill-opacity="0.5"/><path d="M617.90,303.10a1.1,1.1 0 1,0 2.2,0a1.1,1.1 0 1,0 -2.2,0Z"/><path d="M619.00,305.60 L619.73,307.59 L621.85,307.67 L620.19,308.99 L620.76,311.03 L619.00,309.85 L617.24,311.03 L617.81,308.99 L616.15,307.67 L618.27,307.59Z" fill-opacity="0.5"/><path d="M617.90,308.60a1.1,1.1 0 1,0 2.2,0a1.1,1.1 0 1,0 -2.2,0Z"/><path d="M637.30,290.60 L638.03,292.59 L640.15,292.67 L638.49,293.99 L639.06,296.03 L637.30,294.85 L635.54,296.03 L636.11,293.99 L634.45,292.67 L636.57,292.59Z" fill-opacity="0.5"/><path d="M636.20,293.60a1.1,1.1 0 1,0 2.2,0a1.1,1.1 0 1,0 -2.2,0Z"/><path d="M632.30,295.10 L633.03,297.09 L635.15,297.17 L633.49,298.49 L634.06,300.53 L632.30,299.35 L630.54,300.53 L631.11,298.49 L629.45,297.17 L631.57,297.09Z" fill-opacity="0.5"/><path d="M631.20,298.10a1.1,1.1 0 1,0 2.2,0a1.1,1.1 0 1,0 -2.2,0Z"/><path d="M641.20,295.80 L641.93,297.79 L644.05,297.87 L642.39,299.19 L642.96,301.23 L641.20,300.05 L639.44,301.23 L640.01,299.19 L638.35,297.87 L640.47,297.79Z" fill-opacity="0.5"/><path d="M640.10,298.80a1.1,1.1 0 1,0 2.2,0a1.1,1.1 0 1,0 -2.2,0Z"/><path d="M624.70,299.30 L625.43,301.29 L627.55,301.37 L625.89,302.69 L626.46,304.73 L624.70,303.55 L622.94,304.73 L623.51,302.69 L621.85,301.37 L623.97,301.29Z" fill-opacity="0.5"/><path d="M623.60,302.30a1.1,1.1 0 1,0 2.2,0a1.1,1.1 0 1,0 -2.2,0Z"/><path d="M652.20,301.30 L652.93,303.29 L655.05,303.37 L653.39,304.69 L653.96,306.73 L652.20,305.55 L650.44,306.73 L651.01,304.69 L649.35,303.37 L651.47,303.29Z" fill-opacity="0.5"/><path d="M651.10,304.30a1.1,1.1 0 1,0 2.2,0a1.1,1.1 0 1,0 -2.2,0Z"/><path d="M628.80,302.70 L629.53,304.69 L631.65,304.77 L629.99,306.09 L630.56,308.13 L628.80,306.95 L627.04,308.13 L627.61,306.09 L625.95,304.77 L628.07,304.69Z" fill-opacity="0.5"/><path d="M627.70,305.70a1.1,1.1 0 1,0 2.2,0a1.1,1.1 0 1,0 -2.2,0Z"/><path d="M631.60,303.40 L632.33,305.39 L634.45,305.47 L632.79,306.79 L633.36,308.83 L631.60,307.65 L629.84,308.83 L630.41,306.79 L628.75,305.47 L630.87,305.39Z" fill-opacity="0.5"/><path d="M630.50,306.40a1.1,1.1 0 1,0 2.2,0a1.1,1.1 0 1,0 -2.2,0Z"/><path d="M633.60,306.10 L634.33,308.09 L636.45,308.17 L634.79,309.49 L635.36,311.53 L633.60,310.35 L631.84,311.53 L632.41,309.49 L630.75,308.17 L632.87,308.09Z" fill-opacity="0.5"/><path d="M632.50,309.10a1.1,1.1 0 1,0 2.2,0a1.1,1.1 0 1,0 -2.2,0Z"/><path d="M629.50,306.10 L630.23,308.09 L632.35,308.17 L630.69,309.49 L631.26,311.53 L629.50,310.35 L627.74,311.53 L628.31,309.49 L626.65,308.17 L628.77,308.09Z" fill-opacity="0.5"/><path d="M628.40,309.10a1.1,1.1 0 1,0 2.2,0a1.1,1.1 0 1,0 -2.2,0Z"/><path d="M637.80,304.10 L638.53,306.09 L640.65,306.17 L638.99,307.49 L639.56,309.53 L637.80,308.35 L636.04,309.53 L636.61,307.49 L634.95,306.17 L637.07,306.09Z" fill-opacity="0.5"/><path d="M636.70,307.10a1.1,1.1 0 1,0 2.2,0a1.1,1.1 0 1,0 -2.2,0Z"/><path d="M655.60,306.10 L656.33,308.09 L658.45,308.17 L656.79,309.49 L657.36,311.53 L655.60,310.35 L653.84,311.53 L654.41,309.49 L652.75,308.17 L654.87,308.09Z" fill-opacity="0.5"/><path d="M654.50,309.10a1.1,1.1 0 1,0 2.2,0a1.1,1.1 0 1,0 -2.2,0Z"/><path d="M650.10,310.30 L650.83,312.29 L652.95,312.37 L651.29,313.69 L651.86,315.73 L650.10,314.55 L648.34,315.73 L648.91,313.69 L647.25,312.37 L649.37,312.29Z" fill-opacity="0.5"/><path d="M649.00,313.30a1.1,1.1 0 1,0 2.2,0a1.1,1.1 0 1,0 -2.2,0Z"/><path d="M631.60,311.60 L632.33,313.59 L634.45,313.67 L632.79,314.99 L633.36,317.03 L631.60,315.85 L629.84,317.03 L630.41,314.99 L628.75,313.67 L630.87,313.59Z" fill-opacity="0.5"/><path d="M630.50,314.60a1.1,1.1 0 1,0 2.2,0a1.1,1.1 0 1,0 -2.2,0Z"/><path d="M641.20,311.60 L641.93,313.59 L644.05,313.67 L642.39,314.99 L642.96,317.03 L641.20,315.85 L639.44,317.03 L640.01,314.99 L638.35,313.67 L640.47,313.59Z" fill-opacity="0.5"/><path d="M640.10,314.60a1.1,1.1 0 1,0 2.2,0a1.1,1.1 0 1,0 -2.2,0Z"/><path d="M646.00,312.30 L646.73,314.29 L648.85,314.37 L647.19,315.69 L647.76,317.73 L646.00,316.55 L644.24,317.73 L644.81,315.69 L643.15,314.37 L645.27,314.29Z" fill-opacity="0.5"/><path d="M644.90,315.30a1.1,1.1 0 1,0 2.2,0a1.1,1.1 0 1,0 -2.2,0Z"/><path d="M637.80,315.10 L638.53,317.09 L640.65,317.17 L638.99,318.49 L639.56,320.53 L637.80,319.35 L636.04,320.53 L636.61,318.49 L634.95,317.17 L637.07,317.09Z" fill-opacity="0.5"/><path d="M636.70,318.10a1.1,1.1 0 1,0 2.2,0a1.1,1.1 0 1,0 -2.2,0Z"/><path d="M654.90,315.70 L655.63,317.69 L657.75,317.77 L656.09,319.09 L656.66,321.13 L654.90,319.95 L653.14,321.13 L653.71,319.09 L652.05,317.77 L654.17,317.69Z" fill-opacity="0.5"/><path d="M653.80,318.70a1.1,1.1 0 1,0 2.2,0a1.1,1.1 0 1,0 -2.2,0Z"/><path d="M643.30,318.50 L644.03,320.49 L646.15,320.57 L644.49,321.89 L645.06,323.93 L643.30,322.75 L641.54,323.93 L642.11,321.89 L640.45,320.57 L642.57,320.49Z" fill-opacity="0.5"/><path d="M642.20,321.50a1.1,1.1 0 1,0 2.2,0a1.1,1.1 0 1,0 -2.2,0Z"/><path d="M649.40,319.90 L650.13,321.89 L652.25,321.97 L650.59,323.29 L651.16,325.33 L649.40,324.15 L647.64,325.33 L648.21,323.29 L646.55,321.97 L648.67,321.89Z" fill-opacity="0.5"/><path d="M648.30,322.90a1.1,1.1 0 1,0 2.2,0a1.1,1.1 0 1,0 -2.2,0Z"/><path d="M622.00,321.90 L622.73,323.89 L624.85,323.97 L623.19,325.29 L623.76,327.33 L622.00,326.15 L620.24,327.33 L620.81,325.29 L619.15,323.97 L621.27,323.89Z" fill-opacity="0.5"/><path d="M620.90,324.90a1.1,1.1 0 1,0 2.2,0a1.1,1.1 0 1,0 -2.2,0Z"/><path d="M639.10,323.30 L639.83,325.29 L641.95,325.37 L640.29,326.69 L640.86,328.73 L639.10,327.55 L637.34,328.73 L637.91,326.69 L636.25,325.37 L638.37,325.29Z" fill-opacity="0.5"/><path d="M638.00,326.30a1.1,1.1 0 1,0 2.2,0a1.1,1.1 0 1,0 -2.2,0Z"/><path d="M665.70,307.40 L666.43,309.39 L668.55,309.47 L666.89,310.79 L667.46,312.83 L665.70,311.65 L663.94,312.83 L664.51,310.79 L662.85,309.47 L664.97,309.39Z" fill-opacity="0.5"/><path d="M664.60,310.40a1.1,1.1 0 1,0 2.2,0a1.1,1.1 0 1,0 -2.2,0Z"/><path d="M662.40,325.80 L663.13,327.79 L665.25,327.87 L663.59,329.19 L664.16,331.23 L662.40,330.05 L660.64,331.23 L661.21,329.19 L659.55,327.87 L661.67,327.79Z" fill-opacity="0.5"/><path d="M661.30,328.80a1.1,1.1 0 1,0 2.2,0a1.1,1.1 0 1,0 -2.2,0Z"/><path d="M666.50,321.80 L667.23,323.79 L669.35,323.87 L667.69,325.19 L668.26,327.23 L666.50,326.05 L664.74,327.23 L665.31,325.19 L663.65,323.87 L665.77,323.79Z" fill-opacity="0.5"/><path d="M665.40,324.80a1.1,1.1 0 1,0 2.2,0a1.1,1.1 0 1,0 -2.2,0Z"/><path d="M664.00,316.20 L664.73,318.19 L666.85,318.27 L665.19,319.59 L665.76,321.63 L664.00,320.45 L662.24,321.63 L662.81,319.59 L661.15,318.27 L663.27,318.19Z" fill-opacity="0.5"/><path d="M662.90,319.20a1.1,1.1 0 1,0 2.2,0a1.1,1.1 0 1,0 -2.2,0Z"/><path d="M659.20,309.80 L659.93,311.79 L662.05,311.87 L660.39,313.19 L660.96,315.23 L659.20,314.05 L657.44,315.23 L658.01,313.19 L656.35,311.87 L658.47,311.79Z" fill-opacity="0.5"/><path d="M658.10,312.80a1.1,1.1 0 1,0 2.2,0a1.1,1.1 0 1,0 -2.2,0Z"/><path d="M656.00,306.60 L656.73,308.59 L658.85,308.67 L657.19,309.99 L657.76,312.03 L656.00,310.85 L654.24,312.03 L654.81,309.99 L653.15,308.67 L655.27,308.59Z" fill-opacity="0.5"/><path d="M654.90,309.60a1.1,1.1 0 1,0 2.2,0a1.1,1.1 0 1,0 -2.2,0Z"/><path d="M637.60,304.20 L638.33,306.19 L640.45,306.27 L638.79,307.59 L639.36,309.63 L637.60,308.45 L635.84,309.63 L636.41,307.59 L634.75,306.27 L636.87,306.19Z" fill-opacity="0.5"/><path d="M636.50,307.20a1.1,1.1 0 1,0 2.2,0a1.1,1.1 0 1,0 -2.2,0Z"/><path d="M641.60,312.20 L642.33,314.19 L644.45,314.27 L642.79,315.59 L643.36,317.63 L641.60,316.45 L639.84,317.63 L640.41,315.59 L638.75,314.27 L640.87,314.19Z" fill-opacity="0.5"/><path d="M640.50,315.20a1.1,1.1 0 1,0 2.2,0a1.1,1.1 0 1,0 -2.2,0Z"/><path d="M646.40,312.20 L647.13,314.19 L649.25,314.27 L647.59,315.59 L648.16,317.63 L646.40,316.45 L644.64,317.63 L645.21,315.59 L643.55,314.27 L645.67,314.19Z" fill-opacity="0.5"/><path d="M645.30,315.20a1.1,1.1 0 1,0 2.2,0a1.1,1.1 0 1,0 -2.2,0Z"/><path d="M649.60,309.80 L650.33,311.79 L652.45,311.87 L650.79,313.19 L651.36,315.23 L649.60,314.05 L647.84,315.23 L648.41,313.19 L646.75,311.87 L648.87,311.79Z" fill-opacity="0.5"/><path d="M648.50,312.80a1.1,1.1 0 1,0 2.2,0a1.1,1.1 0 1,0 -2.2,0Z"/><path d="M654.40,317.00 L655.13,318.99 L657.25,319.07 L655.59,320.39 L656.16,322.43 L654.40,321.25 L652.64,322.43 L653.21,320.39 L651.55,319.07 L653.67,318.99Z" fill-opacity="0.5"/><path d="M653.30,320.00a1.1,1.1 0 1,0 2.2,0a1.1,1.1 0 1,0 -2.2,0Z"/><path d="M660.80,319.40 L661.53,321.39 L663.65,321.47 L661.99,322.79 L662.56,324.83 L660.80,323.65 L659.04,324.83 L659.61,322.79 L657.95,321.47 L660.07,321.39Z" fill-opacity="0.5"/><path d="M659.70,322.40a1.1,1.1 0 1,0 2.2,0a1.1,1.1 0 1,0 -2.2,0Z"/><path d="M650.40,320.20 L651.13,322.19 L653.25,322.27 L651.59,323.59 L652.16,325.63 L650.40,324.45 L648.64,325.63 L649.21,323.59 L647.55,322.27 L649.67,322.19Z" fill-opacity="0.5"/><path d="M649.30,323.20a1.1,1.1 0 1,0 2.2,0a1.1,1.1 0 1,0 -2.2,0Z"/><path d="M643.20,318.60 L643.93,320.59 L646.05,320.67 L644.39,321.99 L644.96,324.03 L643.20,322.85 L641.44,324.03 L642.01,321.99 L640.35,320.67 L642.47,320.59Z" fill-opacity="0.5"/><path d="M642.10,321.60a1.1,1.1 0 1,0 2.2,0a1.1,1.1 0 1,0 -2.2,0Z"/><path d="M638.40,324.20 L639.13,326.19 L641.25,326.27 L639.59,327.59 L640.16,329.63 L638.40,328.45 L636.64,329.63 L637.21,327.59 L635.55,326.27 L637.67,326.19Z" fill-opacity="0.5"/><path d="M637.30,327.20a1.1,1.1 0 1,0 2.2,0a1.1,1.1 0 1,0 -2.2,0Z"/><path d="M638.40,315.40 L639.13,317.39 L641.25,317.47 L639.59,318.79 L640.16,320.83 L638.40,319.65 L636.64,320.83 L637.21,318.79 L635.55,317.47 L637.67,317.39Z" fill-opacity="0.5"/><path d="M637.30,318.40a1.1,1.1 0 1,0 2.2,0a1.1,1.1 0 1,0 -2.2,0Z"/><path d="M632.00,312.20 L632.73,314.19 L634.85,314.27 L633.19,315.59 L633.76,317.63 L632.00,316.45 L630.24,317.63 L630.81,315.59 L629.15,314.27 L631.27,314.19Z" fill-opacity="0.5"/><path d="M630.90,315.20a1.1,1.1 0 1,0 2.2,0a1.1,1.1 0 1,0 -2.2,0Z"/><path d="M622.40,321.80 L623.13,323.79 L625.25,323.87 L623.59,325.19 L624.16,327.23 L622.40,326.05 L620.64,327.23 L621.21,325.19 L619.55,323.87 L621.67,323.79Z" fill-opacity="0.5"/><path d="M621.30,324.80a1.1,1.1 0 1,0 2.2,0a1.1,1.1 0 1,0 -2.2,0Z"/><path d="M622.40,329.80 L623.13,331.79 L625.25,331.87 L623.59,333.19 L624.16,335.23 L622.40,334.05 L620.64,335.23 L621.21,333.19 L619.55,331.87 L621.67,331.79Z" fill-opacity="0.5"/><path d="M621.30,332.80a1.1,1.1 0 1,0 2.2,0a1.1,1.1 0 1,0 -2.2,0Z"/><path d="M614.90,330.70 L615.63,332.69 L617.75,332.77 L616.09,334.09 L616.66,336.13 L614.90,334.95 L613.14,336.13 L613.71,334.09 L612.05,332.77 L614.17,332.69Z" fill-opacity="0.5"/><path d="M613.80,333.70a1.1,1.1 0 1,0 2.2,0a1.1,1.1 0 1,0 -2.2,0Z"/><path d="M656.00,334.30 L656.73,336.29 L658.85,336.37 L657.19,337.69 L657.76,339.73 L656.00,338.55 L654.24,339.73 L654.81,337.69 L653.15,336.37 L655.27,336.29Z" fill-opacity="0.5"/><path d="M654.90,337.30a1.1,1.1 0 1,0 2.2,0a1.1,1.1 0 1,0 -2.2,0Z"/><path d="M648.00,349.50 L648.73,351.49 L650.85,351.57 L649.19,352.89 L649.76,354.93 L648.00,353.75 L646.24,354.93 L646.81,352.89 L645.15,351.57 L647.27,351.49Z" fill-opacity="0.5"/><path d="M646.90,352.50a1.1,1.1 0 1,0 2.2,0a1.1,1.1 0 1,0 -2.2,0Z"/><path d="M654.40,352.70 L655.13,354.69 L657.25,354.77 L655.59,356.09 L656.16,358.13 L654.40,356.95 L652.64,358.13 L653.21,356.09 L651.55,354.77 L653.67,354.69Z" fill-opacity="0.5"/><path d="M653.30,355.70a1.1,1.1 0 1,0 2.2,0a1.1,1.1 0 1,0 -2.2,0Z"/><path d="M682.20,351.10 L682.93,353.09 L685.05,353.17 L683.39,354.49 L683.96,356.53 L682.20,355.35 L680.44,356.53 L681.01,354.49 L679.35,353.17 L681.47,353.09Z" fill-opacity="0.5"/><path d="M681.10,354.10a1.1,1.1 0 1,0 2.2,0a1.1,1.1 0 1,0 -2.2,0Z"/><path d="M664.00,362.70 L664.73,364.69 L666.85,364.77 L665.19,366.09 L665.76,368.13 L664.00,366.95 L662.24,368.13 L662.81,366.09 L661.15,364.77 L663.27,364.69Z" fill-opacity="0.5"/><path d="M662.90,365.70a1.1,1.1 0 1,0 2.2,0a1.1,1.1 0 1,0 -2.2,0Z"/></g><text class="tk" transform="translate(524.80,408.80) scale(0.960,1)" text-anchor="middle">-60</text><text class="tk" transform="translate(557.07,408.80) scale(0.960,1)" text-anchor="middle">-40</text><text class="tk" transform="translate(589.33,408.80) scale(0.960,1)" text-anchor="middle">-20</text><text class="tk" transform="translate(621.60,408.80) scale(0.960,1)" text-anchor="middle">0</text><text class="tk" transform="translate(653.87,408.80) scale(0.960,1)" text-anchor="middle">20</text><text class="tk" transform="translate(686.13,408.80) scale(0.960,1)" text-anchor="middle">40</text><text class="tk" transform="translate(718.40,408.80) scale(0.960,1)" text-anchor="middle">60</text><text class="tk" transform="translate(520.40,401.80) scale(0.960,1)" text-anchor="end">-60</text><text class="tk" transform="translate(520.40,372.72) scale(0.960,1)" text-anchor="end">-40</text><text class="tk" transform="translate(520.40,343.63) scale(0.960,1)" text-anchor="end">-20</text><text class="tk" transform="translate(520.40,314.55) scale(0.960,1)" text-anchor="end">0</text><text class="tk" transform="translate(520.40,285.47) scale(0.960,1)" text-anchor="end">20</text><text class="tk" transform="translate(520.40,256.38) scale(0.960,1)" text-anchor="end">40</text><text class="tk" transform="translate(520.40,227.30) scale(0.960,1)" text-anchor="end">60</text><text class="ti" transform="translate(550.22,418.70) scale(0.774,1)">SSE</text><text class="ti" transform="translate(567.55,418.70) scale(1.007,1)">Combined</text><text class="ti" transform="translate(613.12,418.70) scale(0.876,1)">HEEQ</text><text class="ti" transform="translate(639.03,418.70) scale(1.032,1)">Latitude/Deg</text><text class="pl" transform="translate(612.60,432.20) scale(0.930,1)" text-anchor="middle">(f)</text><text class="ti" transform="translate(499.30,377.91) rotate(-90) scale(0.936,1)">HEEQ</text><text class="ti" transform="translate(499.30,351.72) rotate(-90) scale(0.948,1)">Latitudinal</text><text class="ti" transform="translate(499.30,310.00) rotate(-90) scale(1.087,1)">Difference/Deg</text><text class="eq" transform="translate(638.10,243.70) scale(1.070,1)">y=-0.439x+1.507</text><text class="eq" transform="translate(638.10,258.00) scale(1.070,1)">R<tspan class="sup" dy="-4.0">2</tspan><tspan dy="4.0">=0.414</tspan></text><rect x="724" y="42.4" width="4.9" height="4.7" fill="#0f8a1e"/><rect x="724" y="61.9" width="4.9" height="4.7" fill="#f0141c"/><text class="lg" transform="translate(730.60,47.90) scale(1.030,1)">Level 3</text><text class="lg" transform="translate(730.60,67.40) scale(1.030,1)">Level 2</text></svg></body></html>
